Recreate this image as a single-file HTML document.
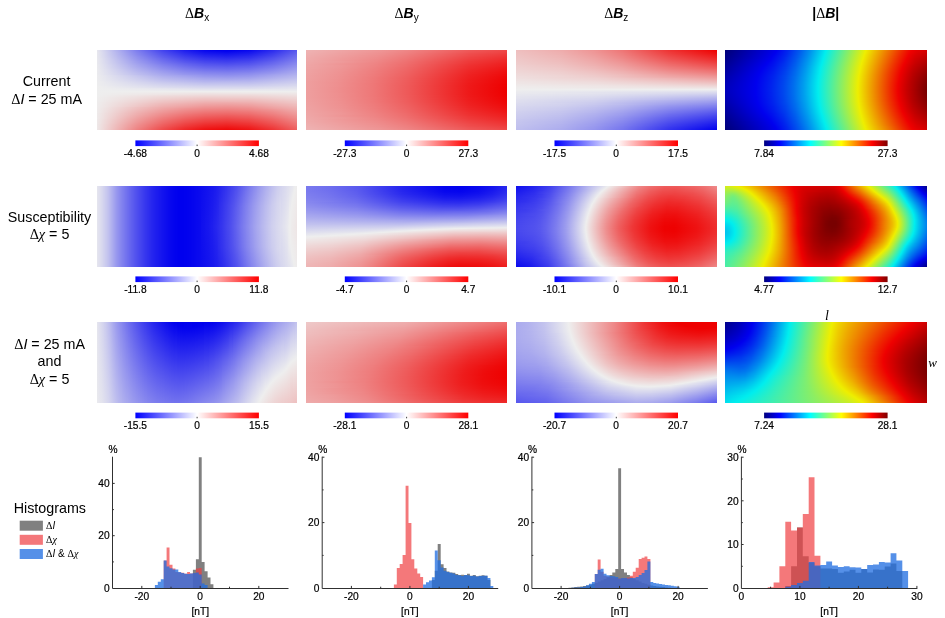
<!DOCTYPE html>
<html><head><meta charset="utf-8"><title>Figure</title>
<style>
html,body{margin:0;padding:0;background:#fff}
#fig{position:relative;width:945px;height:618px;overflow:hidden;background:#fff;font-family:"Liberation Sans",sans-serif}
.hm{position:absolute;display:flex;overflow:hidden}
.hm i{display:block;flex:0 0 1px;width:1px;height:100%}
.hh{flex-direction:column}
.hh i{height:1px;width:100%}
svg{position:absolute;left:0;top:0}
text{font-family:"Liberation Sans",sans-serif;fill:#000}
.s{stroke:#000;stroke-width:0.2px}
.sy{font-family:"Liberation Serif",serif}
.si{font-family:"Liberation Serif",serif;font-style:italic}
.bi{font-weight:bold;font-style:italic}
</style></head><body>
<div id="fig">
<div class="hm hh" style="left:97px;top:50px;width:200px;height:80px"><i style="background:linear-gradient(90deg,#e7e7ee,#7d7dee 20%,#4343ee 33%,#1d1dee 44%,#0707ee 54%,#0000ee 60%,#0000ee 68%,#0909ee 76%,#2c2cee 88%,#5959ee)"></i><i style="background:linear-gradient(90deg,#e7e7ee,#8080ee 20%,#4747ee 33%,#2323ee 44%,#0c0cee 54%,#0404ee 65%,#0f0fee 76%,#3030ee 88%,#5d5dee)"></i><i style="background:linear-gradient(90deg,#e8e8ee,#8383ee 20%,#4c4cee 33%,#2828ee 44%,#1212ee 54%,#0a0aee 65%,#1515ee 76%,#3535ee 88%,#6161ee)"></i><i style="background:linear-gradient(90deg,#e8e8ee,#8686ee 20%,#5050ee 33%,#2d2dee 44%,#1717ee 54%,#1010ee 65%,#1a1aee 76%,#3a3aee 88%,#6464ee)"></i><i style="background:linear-gradient(90deg,#e8e8ee,#8888ee 20%,#5454ee 33%,#3232ee 44%,#1d1dee 54%,#1616ee 65%,#2020ee 76%,#3f3fee 88%,#6868ee)"></i><i style="background:linear-gradient(90deg,#e8e8ee,#8b8bee 20%,#5858ee 33%,#3737ee 44%,#2323ee 54%,#1b1bee 65%,#2525ee 76%,#4343ee 88%,#6c6cee)"></i><i style="background:linear-gradient(90deg,#e8e8ee,#8e8eee 20%,#5c5cee 33%,#3c3cee 44%,#2828ee 54%,#2121ee 65%,#2b2bee 76%,#4848ee 88%,#6f6fee)"></i><i style="background:linear-gradient(90deg,#e8e8ee,#9191ee 20%,#6060ee 33%,#4141ee 44%,#2e2eee 54%,#2727ee 65%,#3030ee 76%,#4d4dee 88%,#7373ee)"></i><i style="background:linear-gradient(90deg,#e9e9ee,#9393ee 20%,#6565ee 33%,#4646ee 44%,#3434ee 54%,#2d2dee 65%,#3636ee 76%,#5252ee 88%,#7676ee)"></i><i style="background:linear-gradient(90deg,#e9e9ee,#9696ee 20%,#6969ee 33%,#4b4bee 44%,#3939ee 54%,#3333ee 65%,#3c3cee 76%,#5656ee 88%,#7a7aee)"></i><i style="background:linear-gradient(90deg,#e9e9ee,#9999ee 20%,#6d6dee 33%,#5050ee 44%,#3f3fee 54%,#3939ee 65%,#4141ee 76%,#5b5bee 88%,#7e7eee)"></i><i style="background:linear-gradient(90deg,#e9e9ee,#9c9cee 20%,#7171ee 33%,#5555ee 44%,#4545ee 54%,#3e3eee 65%,#4747ee 76%,#6060ee 88%,#8181ee)"></i><i style="background:linear-gradient(90deg,#e9e9ee,#9e9eee 20%,#7575ee 33%,#5a5aee 44%,#4a4aee 54%,#4444ee 65%,#4c4cee 76%,#6565ee 88%,#8585ee)"></i><i style="background:linear-gradient(90deg,#e9e9ee,#a1a1ee 20%,#7979ee 33%,#6060ee 44%,#5050ee 54%,#4a4aee 65%,#5252ee 76%,#6969ee 88%,#8989ee)"></i><i style="background:linear-gradient(90deg,#eaeaee,#a4a4ee 20%,#7e7eee 33%,#6565ee 44%,#5656ee 54%,#5050ee 65%,#5757ee 76%,#6e6eee 88%,#8c8cee)"></i><i style="background:linear-gradient(90deg,#eaeaee,#a7a7ee 20%,#8282ee 33%,#6a6aee 44%,#5b5bee 54%,#5656ee 65%,#5d5dee 76%,#7373ee 88%,#9090ee)"></i><i style="background:linear-gradient(90deg,#eaeaee,#a9a9ee 20%,#8686ee 33%,#6f6fee 44%,#6161ee 54%,#5c5cee 65%,#6363ee 76%,#7878ee 88%,#9393ee)"></i><i style="background:linear-gradient(90deg,#eaeaee,#acacee 20%,#8a8aee 33%,#7474ee 44%,#6666ee 54%,#6262ee 65%,#6868ee 76%,#7c7cee 88%,#9797ee)"></i><i style="background:linear-gradient(90deg,#eaeaee,#afafee 20%,#8e8eee 33%,#7979ee 44%,#6c6cee 54%,#6767ee 65%,#6e6eee 76%,#8181ee 88%,#9b9bee)"></i><i style="background:linear-gradient(90deg,#ebebee,#b2b2ee 20%,#9292ee 33%,#7e7eee 44%,#7272ee 54%,#6d6dee 65%,#7373ee 76%,#8686ee 88%,#9e9eee)"></i><i style="background:linear-gradient(90deg,#ebebee,#b4b4ee 20%,#9797ee 33%,#8383ee 44%,#7777ee 54%,#7373ee 65%,#7979ee 76%,#8a8aee 88%,#a2a2ee)"></i><i style="background:linear-gradient(90deg,#ebebee,#b7b7ee 20%,#9b9bee 33%,#8888ee 44%,#7d7dee 54%,#7979ee 65%,#7e7eee 76%,#8f8fee 88%,#a6a6ee)"></i><i style="background:linear-gradient(90deg,#ebebee,#babaee 20%,#9f9fee 33%,#8d8dee 44%,#8383ee 54%,#7f7fee 65%,#8484ee 76%,#9494ee 88%,#a9a9ee)"></i><i style="background:linear-gradient(90deg,#ebebee,#bdbdee 20%,#a3a3ee 33%,#9292ee 44%,#8888ee 54%,#8585ee 65%,#8a8aee 76%,#9999ee 88%,#adadee)"></i><i style="background:linear-gradient(90deg,#ebebee,#bfbfee 20%,#a7a7ee 33%,#9797ee 44%,#8e8eee 54%,#8a8aee 65%,#8f8fee 76%,#b0b0ee)"></i><i style="background:linear-gradient(90deg,#ececee,#ababee 33%,#9494ee 54%,#9090ee 65%,#9595ee 76%,#b4b4ee)"></i><i style="background:linear-gradient(90deg,#ececee,#b0b0ee 33%,#9999ee 54%,#9696ee 65%,#9a9aee 76%,#b8b8ee)"></i><i style="background:linear-gradient(90deg,#ececee,#b4b4ee 33%,#9f9fee 54%,#9c9cee 65%,#a0a0ee 76%,#bbbbee)"></i><i style="background:linear-gradient(90deg,#ececee,#b8b8ee 33%,#a5a5ee 54%,#a2a2ee 65%,#a5a5ee 76%,#bfbfee)"></i><i style="background:linear-gradient(90deg,#ececee,#bcbcee 33%,#aaaaee 54%,#a8a8ee 65%,#ababee 76%,#c3c3ee)"></i><i style="background:linear-gradient(90deg,#ececee,#c0c0ee 33%,#b0b0ee 54%,#aeaeee 65%,#b1b1ee 76%,#c6c6ee)"></i><i style="background:linear-gradient(90deg,#ededee,#c4c4ee 33%,#b5b5ee 54%,#b6b6ee 76%,#cacaee)"></i><i style="background:linear-gradient(90deg,#ededee,#c9c9ee 33%,#bbbbee 54%,#bcbcee 76%,#cdcdee)"></i><i style="background:linear-gradient(90deg,#ededee,#cdcdee 33%,#c1c1ee 54%,#c1c1ee 76%,#d1d1ee)"></i><i style="background:linear-gradient(90deg,#ededee,#d1d1ee 33%,#c6c6ee 54%,#c7c7ee 76%,#d5d5ee)"></i><i style="background:linear-gradient(90deg,#ededee,#d5d5ee 33%,#ccccee 54%,#ccccee 76%,#d8d8ee)"></i><i style="background:linear-gradient(90deg,#eeeeee,#d9d9ee 33%,#d2d2ee 54%,#d2d2ee 76%,#dcdcee)"></i><i style="background:linear-gradient(90deg,#eeeeee,#ddddee 33%,#d7d7ee 54%,#d8d8ee 76%,#e0e0ee)"></i><i style="background:linear-gradient(90deg,#eeeeee,#ddddee 54%,#ddddee 76%,#e3e3ee)"></i><i style="background:linear-gradient(90deg,#eeeeee,#e3e3ee 54%,#e7e7ee)"></i><i style="background:linear-gradient(90deg,#eeeeee,#e8e8ee 54%,#eaeaee)"></i><i style="background:linear-gradient(90deg,#eeeeee,#eeeeee)"></i><i style="background:linear-gradient(90deg,#eeeeee,#eee9e9 54%,#eeebeb)"></i><i style="background:linear-gradient(90deg,#eeeeee,#eee3e3 54%,#eee7e7)"></i><i style="background:linear-gradient(90deg,#eeeeee,#eedede 54%,#eedede 76%,#eee4e4)"></i><i style="background:linear-gradient(90deg,#eeeeee,#eedede 33%,#eed8d8 54%,#eed8d8 76%,#eee0e0)"></i><i style="background:linear-gradient(90deg,#eeeeee,#eed9d9 33%,#eed2d2 54%,#eed2d2 76%,#eedcdc)"></i><i style="background:linear-gradient(90deg,#eeeded,#eed5d5 33%,#eecccc 54%,#eecdcd 76%,#eed8d8)"></i><i style="background:linear-gradient(90deg,#eeeded,#eed1d1 33%,#eec6c6 54%,#eec7c7 76%,#eed5d5)"></i><i style="background:linear-gradient(90deg,#eeeded,#eecdcd 33%,#eec1c1 54%,#eec1c1 76%,#eed1d1)"></i><i style="background:linear-gradient(90deg,#eeeded,#eec8c8 33%,#eebbbb 54%,#eebbbb 76%,#eecdcd)"></i><i style="background:linear-gradient(90deg,#eeeded,#eec4c4 33%,#eeb5b5 54%,#eeb6b6 76%,#eec9c9)"></i><i style="background:linear-gradient(90deg,#eeecec,#eec0c0 33%,#eeafaf 54%,#eeadad 65%,#eeb0b0 76%,#eec6c6)"></i><i style="background:linear-gradient(90deg,#eeecec,#eebbbb 33%,#eea9a9 54%,#eea7a7 65%,#eeaaaa 76%,#eec2c2)"></i><i style="background:linear-gradient(90deg,#eeecec,#eeb7b7 33%,#eea3a3 54%,#eea1a1 65%,#eea4a4 76%,#eebebe)"></i><i style="background:linear-gradient(90deg,#eeecec,#eeb3b3 33%,#ee9e9e 54%,#ee9b9b 65%,#ee9f9f 76%,#eebbbb)"></i><i style="background:linear-gradient(90deg,#eeecec,#eeafaf 33%,#ee9898 54%,#ee9595 65%,#ee9999 76%,#eeb7b7)"></i><i style="background:linear-gradient(90deg,#eeecec,#eec1c1 20%,#eeaaaa 33%,#ee9292 54%,#ee8f8f 65%,#ee9393 76%,#eeb3b3)"></i><i style="background:linear-gradient(90deg,#eeebeb,#eebfbf 20%,#eea6a6 33%,#ee9696 44%,#ee8c8c 54%,#ee8989 65%,#ee8d8d 76%,#eeafaf)"></i><i style="background:linear-gradient(90deg,#eeebeb,#eebcbc 20%,#eea2a2 33%,#ee9191 44%,#ee8686 54%,#ee8383 65%,#ee8888 76%,#ee9797 88%,#eeacac)"></i><i style="background:linear-gradient(90deg,#eeebeb,#eeb9b9 20%,#ee9d9d 33%,#ee8b8b 44%,#ee8181 54%,#ee7d7d 65%,#ee8282 76%,#ee9292 88%,#eea8a8)"></i><i style="background:linear-gradient(90deg,#eeebeb,#eeb6b6 20%,#ee9999 33%,#ee8686 44%,#ee7b7b 54%,#ee7777 65%,#ee7c7c 76%,#ee8d8d 88%,#eea4a4)"></i><i style="background:linear-gradient(90deg,#eeebeb,#eeb3b3 20%,#ee9595 33%,#ee8181 44%,#ee7575 54%,#ee7171 65%,#ee7676 76%,#ee8888 88%,#eea0a0)"></i><i style="background:linear-gradient(90deg,#eeeaea,#eeb0b0 20%,#ee9090 33%,#ee7c7c 44%,#ee6f6f 54%,#ee6b6b 65%,#ee7171 76%,#ee8484 88%,#ee9d9d)"></i><i style="background:linear-gradient(90deg,#eeeaea,#eeaeae 20%,#ee8c8c 33%,#ee7676 44%,#ee6969 54%,#ee6565 65%,#ee6b6b 76%,#ee7f7f 88%,#ee9999)"></i><i style="background:linear-gradient(90deg,#eeeaea,#eeabab 20%,#ee8888 33%,#ee7171 44%,#ee6464 54%,#ee5e5e 65%,#ee6565 76%,#ee7a7a 88%,#ee9595)"></i><i style="background:linear-gradient(90deg,#eeeaea,#eea8a8 20%,#ee8484 33%,#ee6c6c 44%,#ee5e5e 54%,#ee5858 65%,#ee5f5f 76%,#ee7575 88%,#ee9191)"></i><i style="background:linear-gradient(90deg,#eeeaea,#eea5a5 20%,#ee7f7f 33%,#ee6767 44%,#ee5858 54%,#ee5252 65%,#ee5a5a 76%,#ee7070 88%,#ee8e8e)"></i><i style="background:linear-gradient(90deg,#eeeaea,#eea2a2 20%,#ee7b7b 33%,#ee6262 44%,#ee5252 54%,#ee4c4c 65%,#ee5454 76%,#ee6b6b 88%,#ee8a8a)"></i><i style="background:linear-gradient(90deg,#eee9e9,#ee9f9f 20%,#ee7777 33%,#ee5c5c 44%,#ee4c4c 54%,#ee4646 65%,#ee4e4e 76%,#ee6666 88%,#ee8686)"></i><i style="background:linear-gradient(90deg,#eee9e9,#ee9d9d 20%,#ee7272 33%,#ee5757 44%,#ee4646 54%,#ee4040 65%,#ee4848 76%,#ee6161 88%,#ee8383)"></i><i style="background:linear-gradient(90deg,#eee9e9,#ee9a9a 20%,#ee6e6e 33%,#ee5252 44%,#ee4141 54%,#ee3a3a 65%,#ee4343 76%,#ee5c5c 88%,#ee7f7f)"></i><i style="background:linear-gradient(90deg,#eee9e9,#ee9797 20%,#ee6a6a 33%,#ee4d4d 44%,#ee3b3b 54%,#ee3434 65%,#ee3d3d 76%,#ee5858 88%,#ee7b7b)"></i><i style="background:linear-gradient(90deg,#eee9e9,#ee9494 20%,#ee6666 33%,#ee4747 44%,#ee3535 54%,#ee2e2e 65%,#ee3737 76%,#ee5353 88%,#ee7777)"></i><i style="background:linear-gradient(90deg,#eee8e8,#ee9191 20%,#ee6161 33%,#ee4242 44%,#ee2f2f 54%,#ee2828 65%,#ee3232 76%,#ee4e4e 88%,#ee7474)"></i><i style="background:linear-gradient(90deg,#eee8e8,#ee8e8e 20%,#ee5d5d 33%,#ee3d3d 44%,#ee2929 54%,#ee2222 65%,#ee2c2c 76%,#ee4949 88%,#ee7070)"></i><i style="background:linear-gradient(90deg,#eee8e8,#ee8c8c 20%,#ee5959 33%,#ee3838 44%,#ee2424 54%,#ee1c1c 65%,#ee2626 76%,#ee4444 88%,#ee6c6c)"></i><i style="background:linear-gradient(90deg,#eee8e8,#ee8989 20%,#ee5454 33%,#ee3232 44%,#ee1e1e 54%,#ee1616 65%,#ee2020 76%,#ee3f3f 88%,#ee6868)"></i><i style="background:linear-gradient(90deg,#eee8e8,#ee8686 20%,#ee5050 33%,#ee2d2d 44%,#ee1818 54%,#ee1010 65%,#ee1b1b 76%,#ee3a3a 88%,#ee6565)"></i><i style="background:linear-gradient(90deg,#eee8e8,#ee8383 20%,#ee4c4c 33%,#ee2828 44%,#ee1212 54%,#ee0a0a 65%,#ee1515 76%,#ee3535 88%,#ee6161)"></i></div><div class="hm hh" style="left:306px;top:50px;width:201px;height:80px"><i style="background:linear-gradient(90deg,#eeb3b3,#ee9595 37%,#ee8787 50%,#ee5858 82%,#ee4848)"></i><i style="background:linear-gradient(90deg,#eeb2b2,#ee9494 37%,#ee8484 50%,#ee5555 82%,#ee4444)"></i><i style="background:linear-gradient(90deg,#eeb1b1,#ee9393 36%,#ee8282 50%,#ee5252 82%,#ee4141)"></i><i style="background:linear-gradient(90deg,#eeb0b0,#ee9191 36%,#ee8080 50%,#ee4e4e 82%,#ee3e3e)"></i><i style="background:linear-gradient(90deg,#eeafaf,#ee9090 36%,#ee7e7e 50%,#ee4b4b 82%,#ee3a3a)"></i><i style="background:linear-gradient(90deg,#eeaeae,#ee8e8e 36%,#ee7c7c 50%,#ee4949 82%,#ee3737)"></i><i style="background:linear-gradient(90deg,#eeadad,#ee8e8e 35%,#ee7a7a 50%,#ee4646 82%,#ee3434)"></i><i style="background:linear-gradient(90deg,#eeacac,#ee8c8c 35%,#ee7878 50%,#ee4343 82%,#ee3131)"></i><i style="background:linear-gradient(90deg,#eeabab,#ee8b8b 35%,#ee7676 50%,#ee4242 81%,#ee2e2e)"></i><i style="background:linear-gradient(90deg,#eeabab,#ee8989 35%,#ee7474 50%,#ee3f3f 81%,#ee2b2b)"></i><i style="background:linear-gradient(90deg,#eeaaaa,#ee8888 35%,#ee7373 50%,#ee3d3d 81%,#ee2828)"></i><i style="background:linear-gradient(90deg,#eea9a9,#ee9a9a 18%,#ee8787 35%,#ee7171 50%,#ee3a3a 81%,#ee2626)"></i><i style="background:linear-gradient(90deg,#eea8a8,#ee9999 18%,#ee8585 35%,#ee6f6f 50%,#ee3838 81%,#ee2323)"></i><i style="background:linear-gradient(90deg,#eea8a8,#ee8585 34%,#ee6e6e 50%,#ee3636 81%,#ee2020)"></i><i style="background:linear-gradient(90deg,#eea7a7,#ee8484 34%,#ee6c6c 50%,#ee3333 81%,#ee1e1e)"></i><i style="background:linear-gradient(90deg,#eea6a6,#ee9797 17%,#ee8383 34%,#ee6b6b 50%,#ee3131 81%,#ee1c1c)"></i><i style="background:linear-gradient(90deg,#eea6a6,#ee9797 17%,#ee8282 34%,#ee6a6a 50%,#ee2f2f 81%,#ee1a1a)"></i><i style="background:linear-gradient(90deg,#eea5a5,#ee9696 17%,#ee8181 34%,#ee6868 50%,#ee2e2e 81%,#ee1717)"></i><i style="background:linear-gradient(90deg,#eea5a5,#ee9595 17%,#ee8080 34%,#ee6767 50%,#ee2c2c 81%,#ee1515)"></i><i style="background:linear-gradient(90deg,#eea4a4,#ee9494 17%,#ee7f7f 34%,#ee6666 50%,#ee2a2a 81%,#ee1313)"></i><i style="background:linear-gradient(90deg,#eea3a3,#ee9494 17%,#ee7e7e 34%,#ee6565 50%,#ee2828 81%,#ee1212)"></i><i style="background:linear-gradient(90deg,#eea3a3,#ee9393 17%,#ee7d7d 34%,#ee6262 51%,#ee2727 81%,#ee1010)"></i><i style="background:linear-gradient(90deg,#eea3a3,#ee9292 17%,#ee7d7d 34%,#ee6161 51%,#ee2525 81%,#ee0e0e)"></i><i style="background:linear-gradient(90deg,#eea2a2,#ee9292 17%,#ee7c7c 34%,#ee6060 51%,#ee2424 81%,#ee0d0d)"></i><i style="background:linear-gradient(90deg,#eea2a2,#ee9191 17%,#ee7b7b 34%,#ee5f5f 51%,#ee2222 81%,#ee0b0b)"></i><i style="background:linear-gradient(90deg,#eea1a1,#ee9191 17%,#ee7b7b 34%,#ee5e5e 51%,#ee2121 81%,#ee0a0a)"></i><i style="background:linear-gradient(90deg,#eea1a1,#ee9090 17%,#ee7a7a 34%,#ee5d5d 51%,#ee2020 81%,#ee0808)"></i><i style="background:linear-gradient(90deg,#eea1a1,#ee9090 17%,#ee7979 34%,#ee5c5c 51%,#ee1f1f 81%,#ee0707)"></i><i style="background:linear-gradient(90deg,#eea0a0,#ee9191 16%,#ee7a7a 33%,#ee5d5d 50%,#ee1e1e 81%,#ee0606)"></i><i style="background:linear-gradient(90deg,#eea0a0,#ee9090 16%,#ee7a7a 33%,#ee5d5d 50%,#ee1d1d 81%,#ee0505)"></i><i style="background:linear-gradient(90deg,#eea0a0,#ee9090 16%,#ee7979 33%,#ee5c5c 50%,#ee1c1c 81%,#ee0404)"></i><i style="background:linear-gradient(90deg,#ee9f9f,#ee9090 16%,#ee7979 33%,#ee5c5c 50%,#ee1c1c 81%,#ee0303)"></i><i style="background:linear-gradient(90deg,#ee9f9f,#ee8f8f 16%,#ee7979 33%,#ee5b5b 50%,#ee1b1b 81%,#ee0303)"></i><i style="background:linear-gradient(90deg,#ee9f9f,#ee8f8f 16%,#ee7878 33%,#ee5959 51%,#ee1a1a 81%,#ee0202)"></i><i style="background:linear-gradient(90deg,#ee9f9f,#ee8f8f 16%,#ee7878 33%,#ee5959 51%,#ee1a1a 81%,#ee0101)"></i><i style="background:linear-gradient(90deg,#ee9f9f,#ee8f8f 16%,#ee7878 33%,#ee5858 51%,#ee1919 81%,#ee0101)"></i><i style="background:linear-gradient(90deg,#ee9f9f,#ee8f8f 16%,#ee7878 33%,#ee5858 51%,#ee1919 81%,#ee0101)"></i><i style="background:linear-gradient(90deg,#ee9f9f,#ee8e8e 16%,#ee7878 33%,#ee5858 51%,#ee1919 81%,#ee0000)"></i><i style="background:linear-gradient(90deg,#ee9f9f,#ee8e8e 16%,#ee7878 33%,#ee5858 51%,#ee1919 81%,#ee0000)"></i><i style="background:linear-gradient(90deg,#ee9f9f,#ee8e8e 16%,#ee7878 33%,#ee5858 51%,#ee1919 81%,#ee0000)"></i><i style="background:linear-gradient(90deg,#ee9f9f,#ee8e8e 16%,#ee7878 33%,#ee5858 51%,#ee1919 81%,#ee0000)"></i><i style="background:linear-gradient(90deg,#ee9f9f,#ee8e8e 16%,#ee7878 33%,#ee5858 51%,#ee1919 81%,#ee0000)"></i><i style="background:linear-gradient(90deg,#ee9f9f,#ee8e8e 16%,#ee7878 33%,#ee5858 51%,#ee1919 81%,#ee0000)"></i><i style="background:linear-gradient(90deg,#ee9f9f,#ee8f8f 16%,#ee7878 33%,#ee5858 51%,#ee1919 81%,#ee0101)"></i><i style="background:linear-gradient(90deg,#ee9f9f,#ee8f8f 16%,#ee7878 33%,#ee5858 51%,#ee1919 81%,#ee0101)"></i><i style="background:linear-gradient(90deg,#ee9f9f,#ee8f8f 16%,#ee7878 33%,#ee5959 51%,#ee1a1a 81%,#ee0101)"></i><i style="background:linear-gradient(90deg,#ee9f9f,#ee8f8f 16%,#ee7878 33%,#ee5959 51%,#ee1a1a 81%,#ee0202)"></i><i style="background:linear-gradient(90deg,#ee9f9f,#ee8f8f 16%,#ee7979 33%,#ee5b5b 50%,#ee1b1b 81%,#ee0303)"></i><i style="background:linear-gradient(90deg,#ee9f9f,#ee9090 16%,#ee7979 33%,#ee5c5c 50%,#ee1c1c 81%,#ee0303)"></i><i style="background:linear-gradient(90deg,#eea0a0,#ee9090 16%,#ee7979 33%,#ee5c5c 50%,#ee1c1c 81%,#ee0404)"></i><i style="background:linear-gradient(90deg,#eea0a0,#ee9090 16%,#ee7a7a 33%,#ee5d5d 50%,#ee1d1d 81%,#ee0505)"></i><i style="background:linear-gradient(90deg,#eea0a0,#ee9191 16%,#ee7a7a 33%,#ee5d5d 50%,#ee1e1e 81%,#ee0606)"></i><i style="background:linear-gradient(90deg,#eea1a1,#ee9090 17%,#ee7979 34%,#ee5c5c 51%,#ee1f1f 81%,#ee0707)"></i><i style="background:linear-gradient(90deg,#eea1a1,#ee9090 17%,#ee7a7a 34%,#ee5d5d 51%,#ee2020 81%,#ee0808)"></i><i style="background:linear-gradient(90deg,#eea1a1,#ee9191 17%,#ee7b7b 34%,#ee5e5e 51%,#ee2121 81%,#ee0a0a)"></i><i style="background:linear-gradient(90deg,#eea2a2,#ee9191 17%,#ee7b7b 34%,#ee5f5f 51%,#ee2222 81%,#ee0b0b)"></i><i style="background:linear-gradient(90deg,#eea2a2,#ee9292 17%,#ee7c7c 34%,#ee6060 51%,#ee2424 81%,#ee0d0d)"></i><i style="background:linear-gradient(90deg,#eea3a3,#ee9292 17%,#ee7d7d 34%,#ee6161 51%,#ee2525 81%,#ee0e0e)"></i><i style="background:linear-gradient(90deg,#eea3a3,#ee9393 17%,#ee7d7d 34%,#ee6262 51%,#ee2727 81%,#ee1010)"></i><i style="background:linear-gradient(90deg,#eea3a3,#ee9494 17%,#ee7e7e 34%,#ee6565 50%,#ee2828 81%,#ee1212)"></i><i style="background:linear-gradient(90deg,#eea4a4,#ee9494 17%,#ee7f7f 34%,#ee6666 50%,#ee2a2a 81%,#ee1313)"></i><i style="background:linear-gradient(90deg,#eea5a5,#ee9595 17%,#ee8080 34%,#ee6767 50%,#ee2c2c 81%,#ee1515)"></i><i style="background:linear-gradient(90deg,#eea5a5,#ee9696 17%,#ee8181 34%,#ee6868 50%,#ee2e2e 81%,#ee1717)"></i><i style="background:linear-gradient(90deg,#eea6a6,#ee9797 17%,#ee8282 34%,#ee6a6a 50%,#ee2f2f 81%,#ee1a1a)"></i><i style="background:linear-gradient(90deg,#eea6a6,#ee9797 17%,#ee8383 34%,#ee6b6b 50%,#ee3131 81%,#ee1c1c)"></i><i style="background:linear-gradient(90deg,#eea7a7,#ee8484 34%,#ee6c6c 50%,#ee3333 81%,#ee1e1e)"></i><i style="background:linear-gradient(90deg,#eea8a8,#ee8585 34%,#ee6e6e 50%,#ee3636 81%,#ee2020)"></i><i style="background:linear-gradient(90deg,#eea8a8,#ee9999 18%,#ee8585 35%,#ee6f6f 50%,#ee3838 81%,#ee2323)"></i><i style="background:linear-gradient(90deg,#eea9a9,#ee9a9a 18%,#ee8787 35%,#ee7171 50%,#ee3a3a 81%,#ee2626)"></i><i style="background:linear-gradient(90deg,#eeaaaa,#ee8888 35%,#ee7373 50%,#ee3d3d 81%,#ee2828)"></i><i style="background:linear-gradient(90deg,#eeabab,#ee8989 35%,#ee7474 50%,#ee3f3f 81%,#ee2b2b)"></i><i style="background:linear-gradient(90deg,#eeabab,#ee8b8b 35%,#ee7676 50%,#ee4242 81%,#ee2e2e)"></i><i style="background:linear-gradient(90deg,#eeacac,#ee8c8c 35%,#ee7878 50%,#ee4343 82%,#ee3131)"></i><i style="background:linear-gradient(90deg,#eeadad,#ee8e8e 35%,#ee7a7a 50%,#ee4646 82%,#ee3434)"></i><i style="background:linear-gradient(90deg,#eeaeae,#ee8e8e 36%,#ee7c7c 50%,#ee4949 82%,#ee3737)"></i><i style="background:linear-gradient(90deg,#eeafaf,#ee9090 36%,#ee7e7e 50%,#ee4b4b 82%,#ee3a3a)"></i><i style="background:linear-gradient(90deg,#eeb0b0,#ee9191 36%,#ee8080 50%,#ee4e4e 82%,#ee3e3e)"></i><i style="background:linear-gradient(90deg,#eeb1b1,#ee9393 36%,#ee8282 50%,#ee5252 82%,#ee4141)"></i><i style="background:linear-gradient(90deg,#eeb2b2,#ee9494 37%,#ee8484 50%,#ee5555 82%,#ee4444)"></i><i style="background:linear-gradient(90deg,#eeb3b3,#ee9595 37%,#ee8787 50%,#ee5858 82%,#ee4848)"></i></div><div class="hm hh" style="left:516px;top:50px;width:201px;height:80px"><i style="background:linear-gradient(90deg,#eebfbf,#eeadad 22%,#ee9494 39%,#ee7676 53%,#ee3434 76%,#ee0202)"></i><i style="background:linear-gradient(90deg,#eec0c0,#eeaeae 22%,#ee9696 39%,#ee7878 53%,#ee3737 76%,#ee0606)"></i><i style="background:linear-gradient(90deg,#eec1c1,#eeb0b0 22%,#ee9797 39%,#ee7a7a 53%,#ee3b3b 76%,#ee0b0b)"></i><i style="background:linear-gradient(90deg,#eec2c2,#eeb1b1 22%,#ee9999 39%,#ee7d7d 53%,#ee3e3e 76%,#ee0f0f)"></i><i style="background:linear-gradient(90deg,#eec3c3,#eeb2b2 22%,#ee9b9b 39%,#ee7f7f 53%,#ee4242 76%,#ee1414)"></i><i style="background:linear-gradient(90deg,#eec4c4,#eeb4b4 22%,#ee9d9d 39%,#ee8181 53%,#ee4646 76%,#ee1919)"></i><i style="background:linear-gradient(90deg,#eec5c5,#eeb5b5 22%,#ee9f9f 39%,#ee8484 53%,#ee4a4a 76%,#ee1e1e)"></i><i style="background:linear-gradient(90deg,#eec6c6,#eeb6b6 22%,#eea1a1 39%,#ee8686 53%,#ee4e4e 76%,#ee2323)"></i><i style="background:linear-gradient(90deg,#eec7c7,#eeb8b8 22%,#eea3a3 39%,#ee8989 53%,#ee5252 76%,#ee2828)"></i><i style="background:linear-gradient(90deg,#eec8c8,#eeb9b9 22%,#eea5a5 39%,#ee8c8c 53%,#ee5656 76%,#ee2d2d)"></i><i style="background:linear-gradient(90deg,#eec9c9,#eebbbb 22%,#eea7a7 39%,#ee8e8e 53%,#ee5a5a 76%,#ee3232)"></i><i style="background:linear-gradient(90deg,#eecaca,#eebcbc 22%,#eea9a9 39%,#ee9191 53%,#ee5e5e 76%,#ee3838)"></i><i style="background:linear-gradient(90deg,#eecbcb,#eebebe 22%,#eeabab 39%,#ee9494 53%,#ee6363 76%,#ee3d3d)"></i><i style="background:linear-gradient(90deg,#eecccc,#eebfbf 22%,#eeadad 39%,#ee9797 53%,#ee6767 76%,#ee4343)"></i><i style="background:linear-gradient(90deg,#eecdcd,#eec1c1 22%,#eeafaf 39%,#ee9a9a 53%,#ee6c6c 76%,#ee4949)"></i><i style="background:linear-gradient(90deg,#eecfcf,#eec3c3 22%,#eeb1b1 39%,#ee9d9d 53%,#ee7070 76%,#ee4e4e)"></i><i style="background:linear-gradient(90deg,#eed0d0,#eec4c4 22%,#eeb4b4 39%,#eea0a0 53%,#ee7575 76%,#ee5454)"></i><i style="background:linear-gradient(90deg,#eed1d1,#eec6c6 22%,#eeb6b6 39%,#eea3a3 53%,#ee7a7a 76%,#ee5a5a)"></i><i style="background:linear-gradient(90deg,#eed2d2,#eec8c8 22%,#eeb8b8 39%,#eea6a6 53%,#ee7e7e 76%,#ee6060)"></i><i style="background:linear-gradient(90deg,#eed3d3,#eec9c9 22%,#eebbbb 39%,#eea9a9 53%,#ee8383 76%,#ee6767)"></i><i style="background:linear-gradient(90deg,#eed5d5,#eecbcb 22%,#eebdbd 39%,#eeacac 53%,#ee8888 76%,#ee6d6d)"></i><i style="background:linear-gradient(90deg,#eed6d6,#eecdcd 22%,#eec0c0 39%,#eeb0b0 53%,#ee8c8c 77%,#ee7373)"></i><i style="background:linear-gradient(90deg,#eed7d7,#eecfcf 22%,#eec2c2 39%,#eeb3b3 53%,#ee9191 77%,#ee7979)"></i><i style="background:linear-gradient(90deg,#eed9d9,#eed0d0 22%,#eec5c5 39%,#eeb6b6 53%,#ee9696 77%,#ee8080)"></i><i style="background:linear-gradient(90deg,#eedada,#eed2d2 22%,#eec7c7 39%,#eebaba 53%,#ee9c9c 77%,#ee8686)"></i><i style="background:linear-gradient(90deg,#eedbdb,#eed4d4 22%,#eecaca 39%,#eebdbd 53%,#eea1a1 77%,#ee8d8d)"></i><i style="background:linear-gradient(90deg,#eedddd,#eed5d5 23%,#eecbcb 40%,#eea7a7 76%,#ee9494)"></i><i style="background:linear-gradient(90deg,#eedede,#eecece 40%,#eeacac 76%,#ee9a9a)"></i><i style="background:linear-gradient(90deg,#eedfdf,#eed1d1 40%,#eea1a1)"></i><i style="background:linear-gradient(90deg,#eee1e1,#eed3d3 40%,#eea8a8)"></i><i style="background:linear-gradient(90deg,#eee2e2,#eed6d6 40%,#eeafaf)"></i><i style="background:linear-gradient(90deg,#eee4e4,#eed9d9 40%,#eeb6b6)"></i><i style="background:linear-gradient(90deg,#eee5e5,#eedcdc 40%,#eebdbd)"></i><i style="background:linear-gradient(90deg,#eee6e6,#eedede 40%,#eec4c4)"></i><i style="background:linear-gradient(90deg,#eee8e8,#eee1e1 41%,#eecbcb)"></i><i style="background:linear-gradient(90deg,#eee9e9,#eee4e4 41%,#eed2d2)"></i><i style="background:linear-gradient(90deg,#eeebeb,#eee6e6 42%,#eed9d9)"></i><i style="background:linear-gradient(90deg,#eeecec,#eee0e0)"></i><i style="background:linear-gradient(90deg,#eeeded,#eee7e7)"></i><i style="background:linear-gradient(90deg,#eeeeee,#eeeeee)"></i><i style="background:linear-gradient(90deg,#ededee,#e8e8ee)"></i><i style="background:linear-gradient(90deg,#ebebee,#e1e1ee)"></i><i style="background:linear-gradient(90deg,#eaeaee,#dadaee)"></i><i style="background:linear-gradient(90deg,#e9e9ee,#e4e4ee 37%,#d4d4ee)"></i><i style="background:linear-gradient(90deg,#e7e7ee,#e1e1ee 38%,#cdcdee)"></i><i style="background:linear-gradient(90deg,#e6e6ee,#dfdfee 38%,#c6c6ee)"></i><i style="background:linear-gradient(90deg,#e4e4ee,#dcdcee 38%,#bfbfee)"></i><i style="background:linear-gradient(90deg,#e3e3ee,#dadaee 38%,#b8b8ee)"></i><i style="background:linear-gradient(90deg,#e2e2ee,#d7d7ee 38%,#b1b1ee)"></i><i style="background:linear-gradient(90deg,#e0e0ee,#d5d5ee 38%,#ababee)"></i><i style="background:linear-gradient(90deg,#dfdfee,#d1d1ee 39%,#b3b3ee 76%,#a4a4ee)"></i><i style="background:linear-gradient(90deg,#dedeee,#cfcfee 39%,#aeaeee 76%,#9d9dee)"></i><i style="background:linear-gradient(90deg,#ddddee,#ccccee 39%,#a9a9ee 76%,#9797ee)"></i><i style="background:linear-gradient(90deg,#dbdbee,#d4d4ee 22%,#cacaee 39%,#a4a4ee 76%,#9090ee)"></i><i style="background:linear-gradient(90deg,#dadaee,#d2d2ee 22%,#c8c8ee 39%,#bbbbee 53%,#9f9fee 76%,#8a8aee)"></i><i style="background:linear-gradient(90deg,#d9d9ee,#d1d1ee 22%,#c5c5ee 39%,#b7b7ee 53%,#9999ee 76%,#8383ee)"></i><i style="background:linear-gradient(90deg,#d7d7ee,#cfcfee 22%,#c3c3ee 39%,#b4b4ee 53%,#9494ee 76%,#7d7dee)"></i><i style="background:linear-gradient(90deg,#d6d6ee,#cdcdee 22%,#c0c0ee 39%,#b1b1ee 53%,#8f8fee 76%,#7777ee)"></i><i style="background:linear-gradient(90deg,#d5d5ee,#cbcbee 22%,#bebeee 39%,#aeaeee 53%,#8b8bee 76%,#7070ee)"></i><i style="background:linear-gradient(90deg,#d4d4ee,#cacaee 22%,#bcbcee 39%,#ababee 53%,#8686ee 76%,#6a6aee)"></i><i style="background:linear-gradient(90deg,#d3d3ee,#c8c8ee 22%,#b9b9ee 39%,#a7a7ee 53%,#8181ee 76%,#6464ee)"></i><i style="background:linear-gradient(90deg,#d1d1ee,#c6c6ee 22%,#b7b7ee 39%,#a4a4ee 53%,#7c7cee 76%,#5e5eee)"></i><i style="background:linear-gradient(90deg,#d0d0ee,#c5c5ee 22%,#b5b5ee 39%,#a1a1ee 53%,#7878ee 76%,#5858ee)"></i><i style="background:linear-gradient(90deg,#cfcfee,#c3c3ee 22%,#b2b2ee 39%,#9e9eee 53%,#7373ee 76%,#5252ee)"></i><i style="background:linear-gradient(90deg,#ceceee,#c2c2ee 22%,#b0b0ee 39%,#9c9cee 53%,#6e6eee 76%,#4d4dee)"></i><i style="background:linear-gradient(90deg,#cdcdee,#c0c0ee 22%,#aeaeee 39%,#9999ee 53%,#6a6aee 76%,#4747ee)"></i><i style="background:linear-gradient(90deg,#ccccee,#bfbfee 22%,#acacee 39%,#9696ee 53%,#6666ee 76%,#4141ee)"></i><i style="background:linear-gradient(90deg,#cbcbee,#bdbdee 22%,#aaaaee 39%,#9393ee 53%,#6161ee 76%,#3c3cee)"></i><i style="background:linear-gradient(90deg,#cacaee,#bcbcee 22%,#a8a8ee 39%,#9090ee 53%,#5d5dee 76%,#3737ee)"></i><i style="background:linear-gradient(90deg,#c8c8ee,#babaee 22%,#a6a6ee 39%,#8e8eee 53%,#5959ee 76%,#3131ee)"></i><i style="background:linear-gradient(90deg,#c7c7ee,#b9b9ee 22%,#a4a4ee 39%,#8b8bee 53%,#5555ee 76%,#2c2cee)"></i><i style="background:linear-gradient(90deg,#c6c6ee,#b7b7ee 22%,#a2a2ee 39%,#8888ee 53%,#5151ee 76%,#2727ee)"></i><i style="background:linear-gradient(90deg,#c5c5ee,#b6b6ee 22%,#a0a0ee 39%,#8686ee 53%,#4d4dee 76%,#2222ee)"></i><i style="background:linear-gradient(90deg,#c5c5ee,#b5b5ee 22%,#9e9eee 39%,#8383ee 53%,#4949ee 76%,#1d1dee)"></i><i style="background:linear-gradient(90deg,#c4c4ee,#b3b3ee 22%,#9c9cee 39%,#8181ee 53%,#4545ee 76%,#1818ee)"></i><i style="background:linear-gradient(90deg,#c3c3ee,#b2b2ee 22%,#9b9bee 39%,#7f7fee 53%,#4242ee 76%,#1414ee)"></i><i style="background:linear-gradient(90deg,#c2c2ee,#b1b1ee 22%,#9999ee 39%,#7c7cee 53%,#3e3eee 76%,#0f0fee)"></i><i style="background:linear-gradient(90deg,#c1c1ee,#b0b0ee 22%,#9797ee 39%,#7a7aee 53%,#3a3aee 76%,#0b0bee)"></i><i style="background:linear-gradient(90deg,#c0c0ee,#aeaeee 22%,#9696ee 39%,#7878ee 53%,#3737ee 76%,#0606ee)"></i><i style="background:linear-gradient(90deg,#bfbfee,#adadee 22%,#9494ee 39%,#7676ee 53%,#3434ee 76%,#0202ee)"></i></div><div class="hm hh" style="left:725px;top:50px;width:202px;height:80px"><i style="background:linear-gradient(90deg,#000078,#0000ee 25.6%,#002dee 32%,#0064ee 38%,#008fee 42%,#00eeee 49.9%,#eeee00 69.7%,#ee7600 81%,#ee3200 87%,#ee0b00 91%,#ee0000 92.5%,#e30000 95%,#d50000)"></i><i style="background:linear-gradient(90deg,#00007a,#0000ee 25.3%,#0027ee 31%,#005bee 37%,#0090ee 42%,#00eeee 49.8%,#eeee00 69.5%,#ee2f00 87%,#ee0800 91%,#ee0000 92.1%,#e00000 95%,#d20000)"></i><i style="background:linear-gradient(90deg,#00007c,#0000ee 25%,#0029ee 31%,#005dee 37%,#0092ee 42%,#00eeee 49.6%,#eeee00 69.4%,#ee2c00 87%,#ee0600 91%,#ee0000 91.8%,#de0000 95%,#cf0000)"></i><i style="background:linear-gradient(90deg,#00007e,#0000ee 24.7%,#002aee 31%,#005fee 37%,#0094ee 42%,#00eeee 49.5%,#eeee00 69.2%,#ee2900 87%,#ee0300 91%,#ee0000 91.5%,#db0000 95%,#cb0000)"></i><i style="background:linear-gradient(90deg,#000080,#0000ee 24.3%,#0024ee 30%,#0057ee 36%,#008aee 41%,#00eeee 49.3%,#eeee00 69%,#ee2700 87%,#ee0100 91%,#dd0000 94%,#c80000)"></i><i style="background:linear-gradient(90deg,#000082,#0000ee 23.9%,#0026ee 30%,#0059ee 36%,#008cee 41%,#00eeee 49.2%,#eeee00 68.8%,#ee2f00 86%,#ee0000 90.8%,#da0000 94%,#c50000)"></i><i style="background:linear-gradient(90deg,#000083,#0000ee 23.5%,#0028ee 30%,#005bee 36%,#008eee 41%,#00eeee 49%,#eeee00 68.7%,#ee2c00 86%,#ee0000 90.6%,#d80000 94%,#c10000)"></i><i style="background:linear-gradient(90deg,#000085,#0000ee 23.1%,#0023ee 29%,#005cee 36%,#0090ee 41%,#00eeee 48.9%,#eeee00 68.5%,#ee2a00 86%,#ee0000 90.3%,#d60000 94%,#be0000)"></i><i style="background:linear-gradient(90deg,#000087,#0001ee 23%,#0025ee 29%,#0055ee 35%,#0092ee 41%,#00eeee 48.7%,#eeee00 68.4%,#ee3200 85%,#ee0000 90%,#d30000 94%,#bb0000)"></i><i style="background:linear-gradient(90deg,#000089,#0000c1 12%,#0000ee 22.3%,#0003ee 23%,#0026ee 29%,#0057ee 35%,#0094ee 41%,#00eeee 48.6%,#eeee00 68.2%,#ee3000 85%,#ee0000 89.8%,#d10000 94%,#b80000)"></i><i style="background:linear-gradient(90deg,#00008b,#0000ee 21.9%,#0005ee 23%,#0028ee 29%,#0059ee 35%,#0096ee 41%,#00eeee 48.4%,#eeee00 68%,#ee2d00 85%,#ee0000 89.5%,#ce0000 94%,#b40000)"></i><i style="background:linear-gradient(90deg,#00008d,#0000ee 21.5%,#0007ee 23%,#002aee 29%,#005aee 35%,#0098ee 41%,#00eeee 48.3%,#eeee00 67.9%,#ee3600 84%,#ee0000 89.3%,#cc0000 94%,#b10000)"></i><i style="background:linear-gradient(90deg,#00008f,#0000ee 21%,#0009ee 23%,#002cee 29%,#005cee 35%,#009aee 41%,#00eeee 48.1%,#eeee00 67.7%,#ee3400 84%,#ee0000 89%,#ca0000 94%,#ae0000)"></i><i style="background:linear-gradient(90deg,#000091,#0000ee 20.6%,#0010ee 24%,#0035ee 30%,#005eee 35%,#009cee 41%,#00eeee 48%,#eeee00 67.6%,#ee3100 84%,#ee0000 88.8%,#c80000 94%,#ab0000)"></i><i style="background:linear-gradient(90deg,#000093,#0000ee 20.2%,#0012ee 24%,#0037ee 30%,#0060ee 35%,#009dee 41%,#00eeee 47.8%,#eeee00 67.5%,#ee3a00 83%,#ee0000 88.5%,#c50000 94%,#a80000)"></i><i style="background:linear-gradient(90deg,#000095,#0000ee 19.8%,#0013ee 24%,#0038ee 30%,#0061ee 35%,#0094ee 40%,#00eeee 47.7%,#eeee00 67.3%,#ee3800 83%,#ee0000 88.3%,#c90000 93%,#a50000)"></i><i style="background:linear-gradient(90deg,#000097,#0000ee 19.3%,#0015ee 24%,#003aee 30%,#0063ee 35%,#0096ee 40%,#00eeee 47.5%,#eeee00 67.2%,#ee3600 83%,#ee0000 88.1%,#c70000 93%,#a20000)"></i><i style="background:linear-gradient(90deg,#000099,#0000ee 18.9%,#0017ee 24%,#003cee 30%,#0065ee 35%,#0097ee 40%,#00eeee 47.4%,#eeee00 67.1%,#ee3400 83%,#ee0000 87.9%,#c50000 93%,#9f0000)"></i><i style="background:linear-gradient(90deg,#00009b,#0000ee 18.6%,#0018ee 24%,#003dee 30%,#0066ee 35%,#0099ee 40%,#00eeee 47.3%,#eeee00 67%,#ee3d00 82%,#ee0000 87.7%,#c30000 93%,#9c0000)"></i><i style="background:linear-gradient(90deg,#00009c,#0000ee 18.2%,#001aee 24%,#003fee 30%,#0068ee 35%,#009aee 40%,#00eeee 47.2%,#eeee00 66.9%,#ee3b00 82%,#ee0000 87.5%,#c10000 93%,#9a0000)"></i><i style="background:linear-gradient(90deg,#00009e,#0000ee 17.9%,#001bee 24%,#0040ee 30%,#0069ee 35%,#009cee 40%,#00eeee 47%,#eeee00 66.8%,#ee3a00 82%,#ee0000 87.3%,#c00000 93%,#970000)"></i><i style="background:linear-gradient(90deg,#0000a0,#0000ee 17.6%,#001dee 24%,#0042ee 30%,#006bee 35%,#009dee 40%,#00eeee 46.9%,#eeee00 66.7%,#ee3800 82%,#ee0000 87.2%,#be0000 93%,#950000)"></i><i style="background:linear-gradient(90deg,#0000a2,#0000ee 17.3%,#001eee 24%,#0043ee 30%,#006cee 35%,#009eee 40%,#00eeee 46.9%,#eeee00 66.6%,#ee3600 82%,#ee0000 87%,#bc0000 93%,#920000)"></i><i style="background:linear-gradient(90deg,#0000a4,#0000ee 17%,#001fee 24%,#0044ee 30%,#006dee 35%,#00a0ee 40%,#00eeee 46.8%,#eeee00 66.5%,#ee3500 82%,#ee0000 86.9%,#ba0000 93%,#900000)"></i><i style="background:linear-gradient(90deg,#0000a6,#0000ee 16.8%,#0021ee 24%,#0045ee 30%,#006eee 35%,#00a1ee 40%,#00eeee 46.7%,#eeee00 66.4%,#ee3f00 81%,#ee0000 86.7%,#b90000 93%,#8d0000)"></i><i style="background:linear-gradient(90deg,#0000a8,#0000ee 16.6%,#0022ee 24%,#0047ee 30%,#006fee 35%,#00a2ee 40%,#00eeee 46.6%,#eeee00 66.3%,#ee3e00 81%,#ee0000 86.6%,#b80000 93%,#8b0000)"></i><i style="background:linear-gradient(90deg,#0000aa,#0000ee 16.4%,#0023ee 24%,#0048ee 30%,#0071ee 35%,#00a3ee 40%,#00eeee 46.5%,#eeee00 66.2%,#ee3d00 81%,#ee0000 86.5%,#b60000 93%,#890000)"></i><i style="background:linear-gradient(90deg,#0000ac,#0000ee 16.2%,#0024ee 24%,#0049ee 30%,#0072ee 35%,#00a4ee 40%,#00eeee 46.5%,#eeee00 66.2%,#ee3c00 81%,#ee0000 86.4%,#b50000 93%,#870000)"></i><i style="background:linear-gradient(90deg,#0000ad,#0000ee 16%,#0024ee 24%,#0049ee 30%,#0072ee 35%,#00a5ee 40%,#00eeee 46.4%,#eeee00 66.1%,#ee3b00 81%,#ee0000 86.3%,#b40000 93%,#850000)"></i><i style="background:linear-gradient(90deg,#0000af,#0000ee 15.9%,#0020ee 23%,#0043ee 29%,#006aee 34%,#00a5ee 40%,#00eeee 46.3%,#eeee00 66.1%,#ee3a00 81%,#ee0000 86.2%,#b30000 93%,#830000)"></i><i style="background:linear-gradient(90deg,#0000b1,#0000ee 15.7%,#0021ee 23%,#0044ee 29%,#006bee 34%,#009bee 39%,#00eeee 46.3%,#eeee00 66%,#ee3900 81%,#ee0000 86.1%,#ba0000 92%,#810000)"></i><i style="background:linear-gradient(90deg,#0000b2,#0000ee 15.6%,#0021ee 23%,#0045ee 29%,#006cee 34%,#009cee 39%,#00eeee 46.3%,#eeee00 66%,#ee3800 81%,#ee0000 86%,#b90000 92%,#800000)"></i><i style="background:linear-gradient(90deg,#0000b4,#0000ee 15.5%,#0022ee 23%,#0045ee 29%,#006cee 34%,#009dee 39%,#00eeee 46.2%,#eeee00 65.9%,#ee2b00 82%,#ee0000 85.9%,#b80000 92%,#7e0000)"></i><i style="background:linear-gradient(90deg,#0000b5,#0000ee 15.4%,#0022ee 23%,#0046ee 29%,#006dee 34%,#009dee 39%,#00eeee 46.2%,#eeee00 65.9%,#ee2b00 82%,#ee0000 85.8%,#b80000 92%,#7d0000)"></i><i style="background:linear-gradient(90deg,#0000b6,#0000ee 15.3%,#0023ee 23%,#0046ee 29%,#006dee 34%,#009eee 39%,#00eeee 46.2%,#eeee00 65.9%,#ee2a00 82%,#ee0000 85.8%,#bf0000 91%,#7b0000)"></i><i style="background:linear-gradient(90deg,#0000b7,#0000ee 15.3%,#0023ee 23%,#0047ee 29%,#006eee 34%,#009eee 39%,#00eeee 46.1%,#eeee00 65.8%,#ee2a00 82%,#ee0000 85.7%,#bf0000 91%,#7a0000)"></i><i style="background:linear-gradient(90deg,#0000b8,#0000ee 15.2%,#0023ee 23%,#0047ee 29%,#006eee 34%,#009eee 39%,#00eeee 46.1%,#eeee00 65.8%,#ee2900 82%,#ee0000 85.7%,#c70000 90%,#790000)"></i><i style="background:linear-gradient(90deg,#0000b9,#0000ee 15.2%,#0023ee 23%,#0047ee 29%,#006eee 34%,#009eee 39%,#00eeee 46.1%,#eeee00 65.8%,#ee2900 82%,#ee0000 85.7%,#c70000 90%,#780000)"></i><i style="background:linear-gradient(90deg,#0000b9,#0000ee 15.2%,#0024ee 23%,#0047ee 29%,#006eee 34%,#009eee 39%,#00eeee 46.1%,#eeee00 65.8%,#ee2900 82%,#ee0000 85.6%,#c70000 90%,#780000)"></i><i style="background:linear-gradient(90deg,#0000ba,#0000ee 15.2%,#0024ee 23%,#0047ee 29%,#006eee 34%,#009fee 39%,#00eeee 46.1%,#eeee00 65.8%,#ee2900 82%,#ee0000 85.6%,#c60000 90%,#770000)"></i><i style="background:linear-gradient(90deg,#0000ba,#0000ee 15.2%,#0024ee 23%,#0047ee 29%,#006eee 34%,#009eee 39%,#00eeee 46.1%,#eeee00 65.8%,#ee2900 82%,#ee0000 85.6%,#c60000 90%,#770000)"></i><i style="background:linear-gradient(90deg,#0000b9,#0000ee 15.2%,#0024ee 23%,#0047ee 29%,#006eee 34%,#009eee 39%,#00eeee 46.1%,#eeee00 65.8%,#ee2900 82%,#ee0000 85.6%,#c70000 90%,#780000)"></i><i style="background:linear-gradient(90deg,#0000b9,#0000ee 15.2%,#0023ee 23%,#0047ee 29%,#006eee 34%,#009eee 39%,#00eeee 46.1%,#eeee00 65.8%,#ee2900 82%,#ee0000 85.7%,#c70000 90%,#780000)"></i><i style="background:linear-gradient(90deg,#0000b8,#0000ee 15.2%,#0023ee 23%,#0047ee 29%,#006eee 34%,#009eee 39%,#00eeee 46.2%,#eeee00 65.8%,#ee2a00 82%,#ee0000 85.7%,#c70000 90%,#790000)"></i><i style="background:linear-gradient(90deg,#0000b7,#0000ee 15.3%,#0023ee 23%,#0047ee 29%,#006eee 34%,#009eee 39%,#00eeee 46.2%,#eeee00 65.9%,#ee2a00 82%,#ee0000 85.8%,#bf0000 91%,#7a0000)"></i><i style="background:linear-gradient(90deg,#0000b6,#0000ee 15.3%,#0023ee 23%,#0046ee 29%,#006dee 34%,#009dee 39%,#00eeee 46.2%,#eeee00 65.9%,#ee2b00 82%,#ee0000 85.8%,#c00000 91%,#7b0000)"></i><i style="background:linear-gradient(90deg,#0000b5,#0000ee 15.4%,#0022ee 23%,#0046ee 29%,#006dee 34%,#00a7ee 40%,#00eeee 46.2%,#eeee00 65.9%,#ee2b00 82%,#ee0000 85.9%,#b80000 92%,#7d0000)"></i><i style="background:linear-gradient(90deg,#0000b4,#0000ee 15.5%,#0022ee 23%,#0045ee 29%,#006cee 34%,#00a7ee 40%,#00eeee 46.3%,#eeee00 65.9%,#ee2c00 82%,#ee0000 86%,#b90000 92%,#7e0000)"></i><i style="background:linear-gradient(90deg,#0000b2,#0000ee 15.6%,#0021ee 23%,#0045ee 29%,#006cee 34%,#00a6ee 40%,#00eeee 46.3%,#eeee00 66%,#ee2d00 82%,#ee0000 86%,#b90000 92%,#800000)"></i><i style="background:linear-gradient(90deg,#0000b1,#0000ee 15.7%,#0021ee 23%,#0044ee 29%,#006bee 34%,#00a6ee 40%,#00eeee 46.4%,#eeee00 66%,#ee3900 81%,#ee0000 86.1%,#b20000 93%,#810000)"></i><i style="background:linear-gradient(90deg,#0000af,#0000ee 15.9%,#0020ee 23%,#0043ee 29%,#006aee 34%,#00a5ee 40%,#00eeee 46.5%,#eeee00 66.1%,#ee3a00 81%,#ee0000 86.2%,#b30000 93%,#830000)"></i><i style="background:linear-gradient(90deg,#0000ad,#0000ee 16%,#001fee 23%,#0043ee 29%,#0069ee 34%,#00a4ee 40%,#00eeee 46.5%,#eeee00 66.1%,#ee3b00 81%,#ee0000 86.3%,#b40000 93%,#850000)"></i><i style="background:linear-gradient(90deg,#0000ac,#0000ee 16.2%,#0024ee 24%,#0049ee 30%,#0071ee 35%,#00a3ee 40%,#00eeee 46.6%,#eeee00 66.2%,#ee3d00 81%,#ee0000 86.5%,#b50000 93%,#870000)"></i><i style="background:linear-gradient(90deg,#0000aa,#0000ee 16.4%,#0023ee 24%,#0048ee 30%,#0070ee 35%,#00a2ee 40%,#00eeee 46.7%,#eeee00 66.3%,#ee3e00 81%,#ee0000 86.6%,#b70000 93%,#890000)"></i><i style="background:linear-gradient(90deg,#0000a8,#0000ee 16.6%,#0022ee 24%,#0047ee 30%,#006fee 35%,#00a1ee 40%,#00eeee 46.7%,#eeee00 66.3%,#ee3300 82%,#ee0000 86.7%,#b80000 93%,#8b0000)"></i><i style="background:linear-gradient(90deg,#0000a6,#0000ee 16.8%,#0021ee 24%,#0045ee 30%,#006eee 35%,#00a0ee 40%,#00eeee 46.8%,#eeee00 66.4%,#ee3500 82%,#ee0000 86.9%,#ba0000 93%,#8d0000)"></i><i style="background:linear-gradient(90deg,#0000a4,#0000ee 17%,#001fee 24%,#0044ee 30%,#006dee 35%,#009fee 40%,#00eeee 46.9%,#eeee00 66.5%,#ee3700 82%,#ee0000 87%,#bb0000 93%,#8f0000)"></i><i style="background:linear-gradient(90deg,#0000a2,#0000ee 17.3%,#001eee 24%,#0043ee 30%,#006cee 35%,#009eee 40%,#00eeee 47%,#eeee00 66.6%,#ee3800 82%,#ee0000 87.2%,#bd0000 93%,#920000)"></i><i style="background:linear-gradient(90deg,#0000a0,#0000ee 17.6%,#001dee 24%,#0042ee 30%,#006aee 35%,#009cee 40%,#00eeee 47.1%,#eeee00 66.7%,#ee3a00 82%,#ee0000 87.3%,#bf0000 93%,#940000)"></i><i style="background:linear-gradient(90deg,#00009e,#0000ee 17.9%,#001cee 24%,#0040ee 30%,#0069ee 35%,#009bee 40%,#00eeee 47.2%,#eeee00 66.8%,#ee3c00 82%,#ee0000 87.5%,#c10000 93%,#970000)"></i><i style="background:linear-gradient(90deg,#00009c,#0000ee 18.2%,#001aee 24%,#003fee 30%,#0068ee 35%,#00a4ee 41%,#00eeee 47.4%,#eeee00 66.9%,#ee3e00 82%,#ee0000 87.7%,#c30000 93%,#990000)"></i><i style="background:linear-gradient(90deg,#00009b,#0000ee 18.6%,#0019ee 24%,#003dee 30%,#0066ee 35%,#00a3ee 41%,#00eeee 47.5%,#eeee00 67%,#ee3400 83%,#ee0000 87.9%,#c50000 93%,#9c0000)"></i><i style="background:linear-gradient(90deg,#000099,#0000ee 18.9%,#0017ee 24%,#003cee 30%,#0065ee 35%,#00a1ee 41%,#00eeee 47.6%,#eeee00 67.1%,#ee3700 83%,#ee0000 88.1%,#c00000 94%,#9f0000)"></i><i style="background:linear-gradient(90deg,#000097,#0000ee 19.3%,#0015ee 24%,#003aee 30%,#0063ee 35%,#00a0ee 41%,#00eeee 47.8%,#eeee00 67.2%,#ee3900 83%,#ee0000 88.4%,#c20000 94%,#a20000)"></i><i style="background:linear-gradient(90deg,#000095,#0000ee 19.8%,#0014ee 24%,#0031ee 29%,#0061ee 35%,#009eee 41%,#00eeee 47.9%,#eeee00 67.3%,#ee3000 84%,#ee0000 88.6%,#c50000 94%,#a50000)"></i><i style="background:linear-gradient(90deg,#000093,#0000ee 20.2%,#000dee 23%,#0030ee 29%,#0060ee 35%,#009cee 41%,#00eeee 48.1%,#eeee00 67.5%,#ee3200 84%,#ee0000 88.9%,#c70000 94%,#a80000)"></i><i style="background:linear-gradient(90deg,#000091,#0000ee 20.6%,#000bee 23%,#002eee 29%,#005eee 35%,#009aee 41%,#00eeee 48.2%,#eeee00 67.6%,#ee3500 84%,#ee0000 89.1%,#c90000 94%,#ab0000)"></i><i style="background:linear-gradient(90deg,#00008f,#0000ee 21%,#0009ee 23%,#002cee 29%,#005cee 35%,#0099ee 41%,#00eeee 48.4%,#eeee00 67.7%,#ee2c00 85%,#ee0000 89.4%,#cc0000 94%,#ae0000)"></i><i style="background:linear-gradient(90deg,#00008d,#0000ee 21.5%,#0007ee 23%,#002aee 29%,#005bee 35%,#0097ee 41%,#00eeee 48.5%,#eeee00 67.9%,#ee2f00 85%,#ee0000 89.7%,#ce0000 94%,#b10000)"></i><i style="background:linear-gradient(90deg,#00008b,#0000ee 21.9%,#0005ee 23%,#0028ee 29%,#0059ee 35%,#0095ee 41%,#00eeee 48.7%,#eeee00 68%,#ee3200 85%,#ee0000 89.9%,#d10000 94%,#b40000)"></i><i style="background:linear-gradient(90deg,#000089,#0000c1 12%,#0000ee 22.3%,#0003ee 23%,#0027ee 29%,#0057ee 35%,#0093ee 41%,#00eeee 48.9%,#eeee00 68.2%,#ee2a00 86%,#ee0000 90.2%,#d30000 94%,#b70000)"></i><i style="background:linear-gradient(90deg,#000087,#0001ee 23%,#0025ee 29%,#0055ee 35%,#0091ee 41%,#00eeee 49%,#eeee00 68.3%,#ee2c00 86%,#ee0000 90.5%,#d60000 94%,#bb0000)"></i><i style="background:linear-gradient(90deg,#000085,#0000ee 23.2%,#0023ee 29%,#0054ee 35%,#008fee 41%,#00eeee 49.2%,#eeee00 68.5%,#ee2400 87%,#ee0000 90.8%,#d80000 94%,#be0000)"></i><i style="background:linear-gradient(90deg,#000084,#0000ee 23.5%,#0021ee 29%,#005bee 36%,#0099ee 42%,#00eeee 49.4%,#eeee00 68.6%,#ee2700 87%,#ee0000 91.1%,#d50000 95%,#c10000)"></i><i style="background:linear-gradient(90deg,#000082,#0000ee 23.9%,#0027ee 30%,#0059ee 36%,#0097ee 42%,#00eeee 49.5%,#eeee00 68.8%,#ee2a00 87%,#ee0000 91.4%,#d80000 95%,#c50000)"></i><i style="background:linear-gradient(90deg,#000080,#0000ee 24.3%,#0025ee 30%,#0058ee 36%,#0095ee 42%,#00eeee 49.7%,#eeee00 69%,#ee2200 88%,#ee0000 91.7%,#db0000 95%,#c80000)"></i><i style="background:linear-gradient(90deg,#00007e,#0000ee 24.7%,#0023ee 30%,#005fee 37%,#0093ee 42%,#00eeee 49.8%,#eeee00 69.2%,#ee7200 81%,#ee2500 88%,#ee0000 92%,#dd0000 95%,#cb0000)"></i><i style="background:linear-gradient(90deg,#00007c,#0000ee 25%,#0029ee 31%,#005eee 37%,#0091ee 42%,#00eeee 50%,#eeee00 69.3%,#ee7500 81%,#ee2800 88%,#ee0300 92%,#ee0000 92.4%,#e00000 95%,#cf0000)"></i><i style="background:linear-gradient(90deg,#00007a,#0000ee 25.3%,#0028ee 31%,#005cee 37%,#008fee 42%,#00eeee 50.2%,#eeee00 69.5%,#ee7800 81%,#ee2b00 88%,#ee0600 92%,#ee0000 92.8%,#e30000 95%,#d20000)"></i><i style="background:linear-gradient(90deg,#000078,#0000ee 25.6%,#0026ee 31%,#0064ee 38%,#0099ee 43%,#00eeee 50.3%,#eeee00 69.7%,#ee7b00 81%,#ee2e00 88%,#ee0900 92%,#ee0000 93.2%,#d50000)"></i></div><div class="hm" style="left:97px;top:186px;width:200px;height:81px"><i style="background:linear-gradient(#e4e4ee,#e4e4ee)"></i><i style="background:linear-gradient(#e1e1ee,#e1e1ee)"></i><i style="background:linear-gradient(#dfdfee,#dfdfee)"></i><i style="background:linear-gradient(#dcdcee,#dcdcee)"></i><i style="background:linear-gradient(#d9d9ee,#d9d9ee)"></i><i style="background:linear-gradient(#d6d6ee,#d6d6ee)"></i><i style="background:linear-gradient(#d2d2ee,#d2d2ee)"></i><i style="background:linear-gradient(#cfcfee,#cfcfee)"></i><i style="background:linear-gradient(#cbcbee,#cbcbee)"></i><i style="background:linear-gradient(#c8c8ee,#c8c8ee)"></i><i style="background:linear-gradient(#c4c4ee,#c4c4ee)"></i><i style="background:linear-gradient(#c0c0ee,#c0c0ee)"></i><i style="background:linear-gradient(#bbbbee,#bbbbee)"></i><i style="background:linear-gradient(#b6b6ee,#b6b6ee)"></i><i style="background:linear-gradient(#b1b1ee,#b1b1ee)"></i><i style="background:linear-gradient(#acacee,#acacee)"></i><i style="background:linear-gradient(#a7a7ee,#a7a7ee)"></i><i style="background:linear-gradient(#a2a2ee,#a2a2ee)"></i><i style="background:linear-gradient(#9d9dee,#9d9dee)"></i><i style="background:linear-gradient(#9898ee,#9898ee)"></i><i style="background:linear-gradient(#9494ee,#9494ee)"></i><i style="background:linear-gradient(#9090ee,#9090ee)"></i><i style="background:linear-gradient(#8c8cee,#8c8cee)"></i><i style="background:linear-gradient(#8888ee,#8888ee)"></i><i style="background:linear-gradient(#8484ee,#8484ee)"></i><i style="background:linear-gradient(#8080ee,#8080ee)"></i><i style="background:linear-gradient(#7d7dee,#7d7dee)"></i><i style="background:linear-gradient(#7979ee,#7979ee)"></i><i style="background:linear-gradient(#7575ee,#7575ee)"></i><i style="background:linear-gradient(#7272ee,#7272ee)"></i><i style="background:linear-gradient(#6e6eee,#6e6eee)"></i><i style="background:linear-gradient(#6b6bee,#6b6bee)"></i><i style="background:linear-gradient(#6767ee,#6767ee)"></i><i style="background:linear-gradient(#6464ee,#6464ee)"></i><i style="background:linear-gradient(#6060ee,#6060ee)"></i><i style="background:linear-gradient(#5d5dee,#5d5dee)"></i><i style="background:linear-gradient(#5a5aee,#5a5aee)"></i><i style="background:linear-gradient(#5656ee,#5656ee)"></i><i style="background:linear-gradient(#5353ee,#5353ee)"></i><i style="background:linear-gradient(#5050ee,#5050ee)"></i><i style="background:linear-gradient(#4d4dee,#4d4dee)"></i><i style="background:linear-gradient(#4a4aee,#4a4aee)"></i><i style="background:linear-gradient(#4747ee,#4747ee)"></i><i style="background:linear-gradient(#4545ee,#4545ee)"></i><i style="background:linear-gradient(#4242ee,#4242ee)"></i><i style="background:linear-gradient(#3f3fee,#3f3fee)"></i><i style="background:linear-gradient(#3c3cee,#3c3cee)"></i><i style="background:linear-gradient(#3939ee,#3939ee)"></i><i style="background:linear-gradient(#3636ee,#3636ee)"></i><i style="background:linear-gradient(#3434ee,#3434ee)"></i><i style="background:linear-gradient(#3131ee,#3131ee)"></i><i style="background:linear-gradient(#2f2fee,#2f2fee)"></i><i style="background:linear-gradient(#2c2cee,#2c2cee)"></i><i style="background:linear-gradient(#2a2aee,#2a2aee)"></i><i style="background:linear-gradient(#2727ee,#2727ee)"></i><i style="background:linear-gradient(#2525ee,#2525ee)"></i><i style="background:linear-gradient(#2323ee,#2323ee)"></i><i style="background:linear-gradient(#2121ee,#2121ee)"></i><i style="background:linear-gradient(#1f1fee,#1f1fee)"></i><i style="background:linear-gradient(#1d1dee,#1d1dee)"></i><i style="background:linear-gradient(#1c1cee,#1c1cee)"></i><i style="background:linear-gradient(#1a1aee,#1a1aee)"></i><i style="background:linear-gradient(#1818ee,#1818ee)"></i><i style="background:linear-gradient(#1717ee,#1717ee)"></i><i style="background:linear-gradient(#1515ee,#1515ee)"></i><i style="background:linear-gradient(#1313ee,#1313ee)"></i><i style="background:linear-gradient(#1212ee,#1212ee)"></i><i style="background:linear-gradient(#1010ee,#1010ee)"></i><i style="background:linear-gradient(#0f0fee,#0f0fee)"></i><i style="background:linear-gradient(#0d0dee,#0d0dee)"></i><i style="background:linear-gradient(#0c0cee,#0c0cee)"></i><i style="background:linear-gradient(#0a0aee,#0a0aee)"></i><i style="background:linear-gradient(#0909ee,#0909ee)"></i><i style="background:linear-gradient(#0707ee,#0707ee)"></i><i style="background:linear-gradient(#0606ee,#0606ee)"></i><i style="background:linear-gradient(#0505ee,#0505ee)"></i><i style="background:linear-gradient(#0404ee,#0404ee)"></i><i style="background:linear-gradient(#0303ee,#0303ee)"></i><i style="background:linear-gradient(#0202ee,#0202ee)"></i><i style="background:linear-gradient(#0202ee,#0202ee)"></i><i style="background:linear-gradient(#0101ee,#0101ee)"></i><i style="background:linear-gradient(#0000ee,#0000ee)"></i><i style="background:linear-gradient(#0000ee,#0000ee)"></i><i style="background:linear-gradient(#0000ee,#0000ee)"></i><i style="background:linear-gradient(#0000ee,#0000ee)"></i><i style="background:linear-gradient(#0000ee,#0000ee)"></i><i style="background:linear-gradient(#0000ee,#0000ee)"></i><i style="background:linear-gradient(#0101ee,#0101ee)"></i><i style="background:linear-gradient(#0101ee,#0101ee)"></i><i style="background:linear-gradient(#0101ee,#0101ee)"></i><i style="background:linear-gradient(#0202ee,#0202ee)"></i><i style="background:linear-gradient(#0202ee,#0202ee)"></i><i style="background:linear-gradient(#0303ee,#0303ee)"></i><i style="background:linear-gradient(#0303ee,#0303ee)"></i><i style="background:linear-gradient(#0404ee,#0404ee)"></i><i style="background:linear-gradient(#0505ee,#0505ee)"></i><i style="background:linear-gradient(#0505ee,#0505ee)"></i><i style="background:linear-gradient(#0606ee,#0606ee)"></i><i style="background:linear-gradient(#0707ee,#0707ee)"></i><i style="background:linear-gradient(#0808ee,#0808ee)"></i><i style="background:linear-gradient(#0808ee,#0909ee)"></i><i style="background:linear-gradient(#0909ee,#0909ee)"></i><i style="background:linear-gradient(#0a0aee,#0a0aee)"></i><i style="background:linear-gradient(#0b0bee,#0b0bee)"></i><i style="background:linear-gradient(#0c0cee,#0f0fee 50%,#0c0cee)"></i><i style="background:linear-gradient(#0d0dee,#1010ee 50%,#0d0dee)"></i><i style="background:linear-gradient(#0e0eee,#1111ee 50%,#0e0eee)"></i><i style="background:linear-gradient(#0f0fee,#1212ee 50%,#0f0fee)"></i><i style="background:linear-gradient(#1010ee,#1414ee 50%,#1010ee)"></i><i style="background:linear-gradient(#1111ee,#1515ee 50%,#1111ee)"></i><i style="background:linear-gradient(#1212ee,#1616ee 50%,#1212ee)"></i><i style="background:linear-gradient(#1313ee,#1717ee 50%,#1313ee)"></i><i style="background:linear-gradient(#1414ee,#1919ee 50%,#1414ee)"></i><i style="background:linear-gradient(#1515ee,#1b1bee 50%,#1616ee)"></i><i style="background:linear-gradient(#1616ee,#1d1dee 50%,#1717ee)"></i><i style="background:linear-gradient(#1717ee,#1e1eee 50%,#1818ee)"></i><i style="background:linear-gradient(#1818ee,#2121ee 50%,#1919ee)"></i><i style="background:linear-gradient(#1a1aee,#2323ee 50%,#1b1bee)"></i><i style="background:linear-gradient(#1b1bee,#2525ee 50%,#1d1dee)"></i><i style="background:linear-gradient(#1d1dee,#2727ee 50%,#1e1eee)"></i><i style="background:linear-gradient(#1f1fee,#2a2aee 50%,#2020ee)"></i><i style="background:linear-gradient(#2121ee,#2c2cee 50%,#2a2aee 75%,#2222ee)"></i><i style="background:linear-gradient(#2323ee,#2c2cee 25%,#2f2fee 50%,#2c2cee 75%,#2525ee)"></i><i style="background:linear-gradient(#2525ee,#2e2eee 25%,#3232ee 50%,#2f2fee 75%,#2727ee)"></i><i style="background:linear-gradient(#2727ee,#3131ee 25%,#3434ee 50%,#3232ee 75%,#2929ee)"></i><i style="background:linear-gradient(#2a2aee,#3333ee 25%,#3737ee 50%,#3434ee 75%,#2b2bee)"></i><i style="background:linear-gradient(#2c2cee,#3636ee 25%,#3a3aee 50%,#3737ee 75%,#2e2eee)"></i><i style="background:linear-gradient(#2e2eee,#3939ee 25%,#3d3dee 50%,#3a3aee 75%,#3030ee)"></i><i style="background:linear-gradient(#3131ee,#3c3cee 25%,#4040ee 50%,#3d3dee 75%,#3333ee)"></i><i style="background:linear-gradient(#3333ee,#3e3eee 25%,#4343ee 50%,#4040ee 75%,#3636ee)"></i><i style="background:linear-gradient(#3636ee,#4141ee 25%,#4646ee 50%,#4242ee 75%,#3838ee)"></i><i style="background:linear-gradient(#3939ee,#4444ee 25%,#4848ee 50%,#4545ee 75%,#3b3bee)"></i><i style="background:linear-gradient(#3b3bee,#4747ee 25%,#4b4bee 50%,#4848ee 75%,#3e3eee)"></i><i style="background:linear-gradient(#3e3eee,#4a4aee 25%,#4e4eee 50%,#4b4bee 75%,#4040ee)"></i><i style="background:linear-gradient(#4141ee,#4d4dee 25%,#5151ee 50%,#4e4eee 75%,#4343ee)"></i><i style="background:linear-gradient(#4343ee,#5050ee 25%,#5555ee 50%,#5151ee 75%,#4646ee)"></i><i style="background:linear-gradient(#4646ee,#5454ee 27.5%,#5858ee 50%,#5555ee 72.5%,#4949ee)"></i><i style="background:linear-gradient(#4949ee,#5757ee 27.5%,#5c5cee 50%,#5959ee 72.5%,#4b4bee)"></i><i style="background:linear-gradient(#4c4cee,#5b5bee 27.5%,#5f5fee 50%,#5b5bee 75%,#4e4eee)"></i><i style="background:linear-gradient(#4e4eee,#5e5eee 27.5%,#6363ee 50%,#5f5fee 75%,#5151ee)"></i><i style="background:linear-gradient(#5151ee,#6161ee 25%,#6767ee 50%,#6262ee 75%,#5454ee)"></i><i style="background:linear-gradient(#5555ee,#6464ee 25%,#6a6aee 50%,#6666ee 75%,#5858ee)"></i><i style="background:linear-gradient(#5858ee,#6868ee 25%,#6e6eee 50%,#6a6aee 75%,#5b5bee)"></i><i style="background:linear-gradient(#5b5bee,#6c6cee 25%,#7272ee 50%,#6d6dee 75%,#5e5eee)"></i><i style="background:linear-gradient(#5f5fee,#6f6fee 25%,#7676ee 50%,#7171ee 75%,#6262ee)"></i><i style="background:linear-gradient(#6262ee,#7373ee 25%,#7979ee 50%,#7575ee 75%,#6565ee)"></i><i style="background:linear-gradient(#6666ee,#7777ee 25%,#7d7dee 50%,#7878ee 75%,#6969ee)"></i><i style="background:linear-gradient(#6969ee,#7a7aee 25%,#8080ee 50%,#7c7cee 75%,#6d6dee)"></i><i style="background:linear-gradient(#6d6dee,#7e7eee 25%,#8383ee 50%,#7f7fee 75%,#7070ee)"></i><i style="background:linear-gradient(#7070ee,#8181ee 25%,#8787ee 50%,#8383ee 75%,#7474ee)"></i><i style="background:linear-gradient(#7474ee,#8484ee 25%,#8a8aee 50%,#8686ee 75%,#7777ee)"></i><i style="background:linear-gradient(#7777ee,#8888ee 25%,#8d8dee 50%,#8989ee 75%,#7b7bee)"></i><i style="background:linear-gradient(#7b7bee,#8b8bee 25%,#9191ee 50%,#8c8cee 75%,#7e7eee)"></i><i style="background:linear-gradient(#7e7eee,#8e8eee 25%,#9494ee 50%,#9090ee 75%,#8181ee)"></i><i style="background:linear-gradient(#8181ee,#9191ee 25%,#9797ee 50%,#9393ee 75%,#8585ee)"></i><i style="background:linear-gradient(#8484ee,#9595ee 25%,#9a9aee 50%,#9696ee 75%,#8888ee)"></i><i style="background:linear-gradient(#8888ee,#9898ee 25%,#9e9eee 50%,#9999ee 75%,#8b8bee)"></i><i style="background:linear-gradient(#8b8bee,#9b9bee 25%,#a1a1ee 50%,#9d9dee 75%,#8e8eee)"></i><i style="background:linear-gradient(#8e8eee,#9e9eee 25%,#a4a4ee 50%,#a0a0ee 75%,#9191ee)"></i><i style="background:linear-gradient(#9191ee,#a1a1ee 25%,#a7a7ee 50%,#a3a3ee 75%,#9595ee)"></i><i style="background:linear-gradient(#9595ee,#a4a4ee 25%,#aaaaee 50%,#a6a6ee 75%,#9898ee)"></i><i style="background:linear-gradient(#9898ee,#a7a7ee 25%,#acacee 50%,#a9a9ee 75%,#9b9bee)"></i><i style="background:linear-gradient(#9b9bee,#aaaaee 25%,#afafee 50%,#acacee 75%,#9e9eee)"></i><i style="background:linear-gradient(#9e9eee,#adadee 25%,#b2b2ee 50%,#aeaeee 75%,#a1a1ee)"></i><i style="background:linear-gradient(#a1a1ee,#b0b0ee 25%,#b5b5ee 50%,#b1b1ee 75%,#a4a4ee)"></i><i style="background:linear-gradient(#a4a4ee,#b2b2ee 25%,#b8b8ee 50%,#b4b4ee 75%,#a7a7ee)"></i><i style="background:linear-gradient(#a7a7ee,#b5b5ee 25%,#babaee 50%,#b7b7ee 75%,#aaaaee)"></i><i style="background:linear-gradient(#aaaaee,#b8b8ee 25%,#bdbdee 50%,#b9b9ee 75%,#adadee)"></i><i style="background:linear-gradient(#adadee,#bbbbee 25%,#bfbfee 50%,#bcbcee 75%,#b0b0ee)"></i><i style="background:linear-gradient(#b0b0ee,#bdbdee 25%,#c2c2ee 50%,#bfbfee 75%,#b2b2ee)"></i><i style="background:linear-gradient(#b2b2ee,#c0c0ee 25%,#c4c4ee 50%,#c1c1ee 75%,#b5b5ee)"></i><i style="background:linear-gradient(#b5b5ee,#c2c2ee 25%,#c7c7ee 50%,#c4c4ee 75%,#b8b8ee)"></i><i style="background:linear-gradient(#b8b8ee,#c5c5ee 25%,#c9c9ee 50%,#c6c6ee 75%,#bbbbee)"></i><i style="background:linear-gradient(#babaee,#c7c7ee 25%,#cbcbee 50%,#c8c8ee 75%,#bdbdee)"></i><i style="background:linear-gradient(#bdbdee,#cacaee 25%,#ceceee 50%,#cbcbee 75%,#c0c0ee)"></i><i style="background:linear-gradient(#c0c0ee,#cbcbee 22.5%,#d0d0ee 50%,#cdcdee 75%,#c2c2ee)"></i><i style="background:linear-gradient(#c2c2ee,#cdcdee 22.5%,#d2d2ee 50%,#ceceee 77.5%,#c5c5ee)"></i><i style="background:linear-gradient(#c5c5ee,#cfcfee 22.5%,#d3d3ee 50%,#d0d0ee 77.5%,#c7c7ee)"></i><i style="background:linear-gradient(#c7c7ee,#d1d1ee 22.5%,#d5d5ee 50%,#d2d2ee 77.5%,#cacaee)"></i><i style="background:linear-gradient(#cacaee,#d3d3ee 22.5%,#d7d7ee 50%,#d4d4ee 77.5%,#ccccee)"></i><i style="background:linear-gradient(#ccccee,#d5d5ee 22.5%,#d8d8ee 50%,#d6d6ee 77.5%,#ceceee)"></i><i style="background:linear-gradient(#ceceee,#d6d6ee 22.5%,#dadaee 50%,#d7d7ee 77.5%,#d0d0ee)"></i><i style="background:linear-gradient(#d0d0ee,#d8d8ee 22.5%,#dbdbee 50%,#d9d9ee 77.5%,#d2d2ee)"></i><i style="background:linear-gradient(#d2d2ee,#dadaee 22.5%,#ddddee 50%,#dbdbee 75%,#d4d4ee)"></i><i style="background:linear-gradient(#d4d4ee,#dedeee 50%,#d6d6ee)"></i><i style="background:linear-gradient(#d6d6ee,#e0e0ee 50%,#d7d7ee)"></i><i style="background:linear-gradient(#d7d7ee,#e2e2ee 50%,#d9d9ee)"></i><i style="background:linear-gradient(#d9d9ee,#e3e3ee 50%,#dadaee)"></i><i style="background:linear-gradient(#dadaee,#e5e5ee 50%,#dcdcee)"></i><i style="background:linear-gradient(#dcdcee,#e7e7ee 50%,#ddddee)"></i><i style="background:linear-gradient(#dedeee,#e9e9ee 50%,#dfdfee)"></i><i style="background:linear-gradient(#dfdfee,#ececee 50%,#eaeaee 70%,#e1e1ee)"></i><i style="background:linear-gradient(#e1e1ee,#ececee 30%,#eeeeee 50%,#ececee 72.5%,#e2e2ee)"></i><i style="background:linear-gradient(#e3e3ee,#eeeeee 32.5%,#eeeeee 71.5%,#e4e4ee)"></i><i style="background:linear-gradient(#e4e4ee,#eeeeee 23.6%,#eeebeb 52.5%,#eeeeee 80.4%,#e6e6ee)"></i><i style="background:linear-gradient(#e6e6ee,#eeeeee 16.8%,#eeeaea 52.5%,#eeeeee 87.3%,#e8e8ee)"></i><i style="background:linear-gradient(#e9e9ee,#eeeeee 11%,#eee9e9 52.5%,#eeeeee 93%,#ebebee)"></i><i style="background:linear-gradient(#ececee,#eeeeee 5.79%,#eee8e8 52.5%,#eeeeee)"></i><i style="background:linear-gradient(#eeeeee,#eee7e7 50%,#eeeded)"></i><i style="background:linear-gradient(#eeeded,#eee5e5 50%,#eeecec)"></i></div><div class="hm hh" style="left:306px;top:186px;width:201px;height:81px"><i style="background:linear-gradient(90deg,#7a7aee,#6e6eee 12%,#5959ee 26%,#2323ee 48%,#0303ee 69%,#0000ee 77%,#0808ee 86%,#1515ee 93%,#2929ee)"></i><i style="background:linear-gradient(90deg,#7a7aee,#6e6eee 12%,#5959ee 26%,#2323ee 48%,#0303ee 69%,#0101ee 77%,#0909ee 86%,#1515ee 93%,#2929ee)"></i><i style="background:linear-gradient(90deg,#7a7aee,#6e6eee 12%,#5959ee 26%,#2323ee 48%,#0404ee 69%,#0101ee 77%,#0909ee 86%,#1616ee 93%,#2929ee)"></i><i style="background:linear-gradient(90deg,#7a7aee,#6f6fee 12%,#5a5aee 26%,#2424ee 48%,#0505ee 69%,#0202ee 77%,#0a0aee 86%,#1717ee 93%,#2a2aee)"></i><i style="background:linear-gradient(90deg,#7b7bee,#6f6fee 12%,#5a5aee 26%,#2525ee 48%,#0606ee 69%,#0404ee 77%,#0c0cee 86%,#1818ee 93%,#2b2bee)"></i><i style="background:linear-gradient(90deg,#7b7bee,#7171ee 11%,#5d5dee 25%,#2626ee 48%,#0707ee 69%,#0505ee 77%,#0d0dee 86%,#1a1aee 93%,#2d2dee)"></i><i style="background:linear-gradient(90deg,#7c7cee,#7272ee 11%,#5e5eee 25%,#2828ee 48%,#0909ee 69%,#0707ee 77%,#0f0fee 86%,#1c1cee 93%,#2e2eee)"></i><i style="background:linear-gradient(90deg,#7d7dee,#7373ee 11%,#5f5fee 25%,#2929ee 48%,#0c0cee 69%,#0a0aee 77%,#1111ee 86%,#1e1eee 93%,#3030ee)"></i><i style="background:linear-gradient(90deg,#7e7eee,#7474ee 11%,#6060ee 25%,#2b2bee 48%,#0e0eee 69%,#0c0cee 77%,#1414ee 86%,#2020ee 93%,#3333ee)"></i><i style="background:linear-gradient(90deg,#7f7fee,#7575ee 11%,#6262ee 25%,#2e2eee 48%,#1111ee 69%,#0f0fee 77%,#1717ee 86%,#2323ee 93%,#3535ee)"></i><i style="background:linear-gradient(90deg,#8080ee,#7676ee 11%,#6363ee 25%,#3030ee 48%,#1414ee 69%,#1212ee 77%,#1a1aee 86%,#2626ee 93%,#3838ee)"></i><i style="background:linear-gradient(90deg,#8181ee,#7777ee 11%,#6565ee 25%,#3333ee 48%,#1717ee 69%,#1616ee 77%,#1d1dee 86%,#2929ee 93%,#3b3bee)"></i><i style="background:linear-gradient(90deg,#8282ee,#7979ee 11%,#6767ee 25%,#3636ee 48%,#1b1bee 69%,#1919ee 77%,#2121ee 86%,#2d2dee 93%,#3e3eee)"></i><i style="background:linear-gradient(90deg,#8484ee,#7a7aee 11%,#6969ee 25%,#3939ee 48%,#1f1fee 69%,#1e1eee 77%,#2525ee 86%,#3030ee 93%,#4242ee)"></i><i style="background:linear-gradient(90deg,#8585ee,#7c7cee 11%,#6b6bee 25%,#3c3cee 48%,#2323ee 69%,#2222ee 77%,#2929ee 86%,#3535ee 93%,#4545ee)"></i><i style="background:linear-gradient(90deg,#8787ee,#7e7eee 11%,#6d6dee 25%,#3f3fee 48%,#2828ee 69%,#2727ee 77%,#2e2eee 86%,#3939ee 93%,#4949ee)"></i><i style="background:linear-gradient(90deg,#8888ee,#6f6fee 25%,#4343ee 48%,#2c2cee 69%,#2b2bee 77%,#3333ee 86%,#3e3eee 93%,#4e4eee)"></i><i style="background:linear-gradient(90deg,#8a8aee,#7272ee 25%,#4949ee 47%,#3232ee 68%,#3030ee 76%,#3838ee 86%,#5252ee)"></i><i style="background:linear-gradient(90deg,#8c8cee,#7575ee 25%,#4d4dee 47%,#3737ee 68%,#3636ee 76%,#3d3dee 86%,#5757ee)"></i><i style="background:linear-gradient(90deg,#8e8eee,#7777ee 25%,#5151ee 47%,#3d3dee 68%,#3b3bee 76%,#4343ee 86%,#5c5cee)"></i><i style="background:linear-gradient(90deg,#9090ee,#7a7aee 25%,#5656ee 47%,#4242ee 68%,#4141ee 76%,#4949ee 86%,#6161ee)"></i><i style="background:linear-gradient(90deg,#9292ee,#7d7dee 25%,#5a5aee 47%,#4848ee 68%,#4848ee 76%,#4f4fee 86%,#6666ee)"></i><i style="background:linear-gradient(90deg,#9595ee,#8181ee 25%,#5f5fee 47%,#4f4fee 67%,#4e4eee 76%,#5454ee 85%,#6b6bee)"></i><i style="background:linear-gradient(90deg,#9797ee,#8484ee 25%,#6464ee 47%,#5555ee 67%,#5555ee 76%,#5b5bee 85%,#7171ee)"></i><i style="background:linear-gradient(90deg,#9999ee,#8686ee 26%,#6868ee 48%,#5c5cee 67%,#5b5bee 76%,#6161ee 85%,#7777ee)"></i><i style="background:linear-gradient(90deg,#9c9cee,#8a8aee 26%,#6e6eee 48%,#6363ee 66%,#6666ee 82%,#6d6dee 90%,#7d7dee)"></i><i style="background:linear-gradient(90deg,#9e9eee,#8e8eee 26%,#7373ee 48%,#6a6aee 66%,#6d6dee 82%,#7474ee 90%,#8383ee)"></i><i style="background:linear-gradient(90deg,#a1a1ee,#9191ee 26%,#7979ee 48%,#7171ee 65%,#7474ee 81%,#7b7bee 90%,#8989ee)"></i><i style="background:linear-gradient(90deg,#a4a4ee,#9595ee 26%,#7f7fee 47%,#7878ee 64%,#7b7bee 80%,#8383ee 90%,#9090ee)"></i><i style="background:linear-gradient(90deg,#a7a7ee,#9999ee 26%,#8585ee 47%,#8080ee 63%,#8282ee 80%,#9797ee)"></i><i style="background:linear-gradient(90deg,#a9a9ee,#9d9dee 26%,#8b8bee 47%,#8787ee 62%,#8a8aee 79%,#9d9dee)"></i><i style="background:linear-gradient(90deg,#acacee,#a1a1ee 26%,#9292ee 46%,#8f8fee 61%,#9292ee 79%,#a4a4ee)"></i><i style="background:linear-gradient(90deg,#afafee,#a6a6ee 26%,#9898ee 46%,#9696ee 59%,#9999ee 78%,#ababee)"></i><i style="background:linear-gradient(90deg,#b2b2ee,#aaaaee 26%,#9f9fee 45%,#9d9dee 57%,#a2a2ee 78%,#b2b2ee)"></i><i style="background:linear-gradient(90deg,#b6b6ee,#a4a4ee 54%,#aaaaee 77%,#b9b9ee)"></i><i style="background:linear-gradient(90deg,#b9b9ee,#ababee 51%,#b2b2ee 77%,#c1c1ee)"></i><i style="background:linear-gradient(90deg,#bcbcee,#b2b2ee 49%,#bbbbee 77%,#c8c8ee)"></i><i style="background:linear-gradient(90deg,#bfbfee,#b9b9ee 48%,#cfcfee)"></i><i style="background:linear-gradient(90deg,#c2c2ee,#bfbfee 47%,#d7d7ee)"></i><i style="background:linear-gradient(90deg,#c6c6ee,#c6c6ee 45%,#dedeee)"></i><i style="background:linear-gradient(90deg,#c9c9ee,#ccccee 43%,#dcdcee 74%,#e5e5ee)"></i><i style="background:linear-gradient(90deg,#cdcdee,#d1d1ee 40%,#e5e5ee 74%,#ededee)"></i><i style="background:linear-gradient(90deg,#d0d0ee,#d7d7ee 39%,#eeeeee 75.5%,#eee9e9)"></i><i style="background:linear-gradient(90deg,#d4d4ee,#dcdcee 36%,#eeeeee 62.9%,#eee4e4 81%,#eee2e2)"></i><i style="background:linear-gradient(90deg,#d7d7ee,#dfdfee 31%,#eeeeee 54%,#eedfdf 75%,#eedbdb)"></i><i style="background:linear-gradient(90deg,#dbdbee,#e2e2ee 27%,#eeeeee 45.4%,#eed7d7 74%,#eed4d4)"></i><i style="background:linear-gradient(90deg,#dedeee,#e5e5ee 22%,#eeeeee 37.8%,#eecfcf 74%,#eecbcb 88%,#eecdcd)"></i><i style="background:linear-gradient(90deg,#e2e2ee,#eeeeee 30.5%,#eec8c8 73%,#eec4c4 88%,#eec6c6)"></i><i style="background:linear-gradient(90deg,#e5e5ee,#eeeeee 22.5%,#eee5e5 37%,#eec0c0 73%,#eebcbc 88%,#eebfbf)"></i><i style="background:linear-gradient(90deg,#e9e9ee,#eeeeee 13.9%,#eee8e8 28%,#eeb8b8 74%,#eeb5b5 88%,#eeb8b8)"></i><i style="background:linear-gradient(90deg,#ededee,#eeeeee 8%,#eee3e3 29%,#eeb0b0 74%,#eeadad 88%,#eeb1b1)"></i><i style="background:linear-gradient(90deg,#eeeded,#eedfdf 30%,#eea9a9 73%,#eea6a6 87%,#eeaaaa)"></i><i style="background:linear-gradient(90deg,#eeebeb,#eedcdc 29%,#eea2a2 73%,#ee9e9e 87%,#eea4a4)"></i><i style="background:linear-gradient(90deg,#eee8e8,#eed8d8 29%,#eea4a4 64%,#ee9a9a 73%,#ee9797 87%,#ee9d9d)"></i><i style="background:linear-gradient(90deg,#eee6e6,#eedfdf 15%,#eed4d4 29%,#ee9f9f 63%,#ee9393 73%,#ee9090 87%,#ee9797)"></i><i style="background:linear-gradient(90deg,#eee3e3,#eedddd 14%,#eed1d1 28%,#ee9898 63%,#ee8c8c 73%,#ee8989 87%,#ee9090)"></i><i style="background:linear-gradient(90deg,#eee1e1,#eedada 14%,#eecece 28%,#eea8a8 49%,#ee8686 72%,#ee8282 87%,#ee8a8a)"></i><i style="background:linear-gradient(90deg,#eedede,#eed8d8 13%,#eecaca 28%,#eea3a3 49%,#ee7f7f 72%,#ee7b7b 87%,#ee8484)"></i><i style="background:linear-gradient(90deg,#eedcdc,#eed5d5 13%,#eec7c7 28%,#ee9d9d 49%,#ee7878 72%,#ee7474 87%,#ee7e7e)"></i><i style="background:linear-gradient(90deg,#eed9d9,#eed2d2 13%,#eec3c3 28%,#ee9797 49%,#ee7171 72%,#ee6e6e 87%,#ee7878)"></i><i style="background:linear-gradient(90deg,#eed7d7,#eed0d0 13%,#eec0c0 28%,#ee9494 48%,#ee6b6b 72%,#ee6767 86%,#ee7272)"></i><i style="background:linear-gradient(90deg,#eed5d5,#eecece 12%,#eebebe 27%,#ee8d8d 49%,#ee6464 72%,#ee6161 86%,#ee6c6c)"></i><i style="background:linear-gradient(90deg,#eed2d2,#eecbcb 12%,#eebbbb 27%,#ee8888 49%,#ee6a6a 64%,#ee5e5e 72%,#ee5b5b 86%,#ee6767)"></i><i style="background:linear-gradient(90deg,#eed0d0,#eec9c9 12%,#eeb8b8 27%,#ee8585 48%,#ee6464 64%,#ee5858 72%,#ee5555 86%,#ee6161)"></i><i style="background:linear-gradient(90deg,#eecece,#eec7c7 12%,#eeb5b5 27%,#ee8080 48%,#ee5f5f 64%,#ee5252 72%,#ee4f4f 86%,#ee5c5c)"></i><i style="background:linear-gradient(90deg,#eecccc,#eec4c4 12%,#eeb2b2 27%,#ee7b7b 48%,#ee5959 64%,#ee4c4c 72%,#ee4949 86%,#ee5757)"></i><i style="background:linear-gradient(90deg,#eecaca,#eec2c2 12%,#eeafaf 27%,#ee7777 48%,#ee5454 64%,#ee4747 72%,#ee4343 77%,#ee4444 86%,#ee5252)"></i><i style="background:linear-gradient(90deg,#eec8c8,#eec0c0 12%,#eeacac 27%,#ee7272 48%,#ee4f4f 64%,#ee4343 71%,#ee3e3e 77%,#ee3f3f 86%,#ee4d4d)"></i><i style="background:linear-gradient(90deg,#eec6c6,#eebebe 12%,#eea9a9 27%,#ee6e6e 48%,#ee4a4a 64%,#ee3e3e 71%,#ee3939 77%,#ee3a3a 86%,#ee3f3f 93%,#ee4949)"></i><i style="background:linear-gradient(90deg,#eec4c4,#eebcbc 12%,#eea7a7 27%,#ee9898 33%,#ee6a6a 48%,#ee4545 64%,#ee3939 71%,#ee3434 77%,#ee3535 86%,#ee3a3a 93%,#ee4444)"></i><i style="background:linear-gradient(90deg,#eec2c2,#eebaba 12%,#eea5a5 27%,#ee9595 33%,#ee6666 48%,#ee4343 63%,#ee3434 71%,#ee2f2f 77%,#ee3030 86%,#ee3535 93%,#ee4040)"></i><i style="background:linear-gradient(90deg,#eec1c1,#eeb8b8 12%,#eea2a2 27%,#ee9393 33%,#ee6262 48%,#ee3e3e 63%,#ee2f2f 71%,#ee2a2a 77%,#ee2c2c 86%,#ee3131 93%,#ee3c3c)"></i><i style="background:linear-gradient(90deg,#eebfbf,#eeb6b6 12%,#eea0a0 27%,#ee9090 33%,#ee5f5f 48%,#ee3a3a 63%,#ee2b2b 71%,#ee2626 77%,#ee2727 86%,#ee2d2d 93%,#ee3838)"></i><i style="background:linear-gradient(90deg,#eebebe,#eeb5b5 12%,#ee9e9e 27%,#ee8e8e 33%,#ee5c5c 48%,#ee3636 63%,#ee2727 71%,#ee2222 77%,#ee2323 86%,#ee2929 93%,#ee3434)"></i><i style="background:linear-gradient(90deg,#eebcbc,#eeb3b3 12%,#ee9c9c 27%,#ee8b8b 33%,#ee5858 48%,#ee3333 63%,#ee2323 71%,#ee1e1e 77%,#ee1f1f 86%,#ee2525 93%,#ee3131)"></i><i style="background:linear-gradient(90deg,#eebbbb,#eeb2b2 12%,#ee9a9a 27%,#ee8989 33%,#ee5555 48%,#ee2f2f 63%,#ee1f1f 71%,#ee1a1a 77%,#ee1c1c 86%,#ee2222 93%,#ee2e2e)"></i><i style="background:linear-gradient(90deg,#eebaba,#eeb0b0 12%,#ee9898 27%,#ee8787 33%,#ee5353 48%,#ee2c2c 63%,#ee1c1c 71%,#ee1717 77%,#ee1818 86%,#ee1f1f 93%,#ee2b2b)"></i><i style="background:linear-gradient(90deg,#eeb8b8,#eeafaf 12%,#ee9797 27%,#ee8585 33%,#ee5050 48%,#ee2929 63%,#ee1919 71%,#ee1313 77%,#ee1515 86%,#ee1c1c 93%,#ee2828)"></i><i style="background:linear-gradient(90deg,#eeb7b7,#eeaeae 12%,#ee9595 27%,#ee8484 33%,#ee4e4e 48%,#ee2626 63%,#ee1616 71%,#ee1010 77%,#ee1212 86%,#ee1919 93%,#ee2525)"></i><i style="background:linear-gradient(90deg,#eeb6b6,#eeadad 12%,#ee9494 27%,#ee8282 33%,#ee4b4b 48%,#ee2323 63%,#ee1313 71%,#ee0d0d 77%,#ee0f0f 85%,#ee1616 93%,#ee2222)"></i><i style="background:linear-gradient(90deg,#eeb6b6,#eeacac 12%,#ee9393 27%,#ee8080 33%,#ee4949 48%,#ee2121 63%,#ee1010 71%,#ee0b0b 77%,#ee0c0c 85%,#ee1414 93%,#ee2020)"></i></div><div class="hm hh" style="left:516px;top:186px;width:201px;height:81px"><i style="background:linear-gradient(90deg,#0f0fee,#2020ee 8%,#4040ee 17%,#7474ee 26%,#b6b6ee 36%,#eeeeee 45.7%,#eec7c7 52%,#ee8888 61%,#ee6e6e 67%,#ee5b5b 74%,#ee5a5a 80%,#ee6767 89%,#ee7474 94%,#ee8b8b)"></i><i style="background:linear-gradient(90deg,#1212ee,#2121ee 8%,#4242ee 17%,#7676ee 26%,#b9b9ee 36%,#eeeeee 45%,#eec3c3 52%,#ee8585 61%,#ee6a6a 67%,#ee5858 74%,#ee5757 80%,#ee6363 89%,#ee7070 94%,#ee8787)"></i><i style="background:linear-gradient(90deg,#1414ee,#2323ee 8%,#4343ee 17%,#7878ee 26%,#bbbbee 36%,#eeeeee 44.4%,#ee8181 61%,#ee6767 67%,#ee5454 74%,#ee5353 80%,#ee6060 89%,#ee6d6d 94%,#ee8484)"></i><i style="background:linear-gradient(90deg,#1616ee,#2525ee 8%,#4545ee 17%,#7a7aee 26%,#eeeeee 43.8%,#ee7d7d 61%,#ee6363 67%,#ee5353 73%,#ee4f4f 79%,#ee5b5b 88%,#ee6767 93%,#ee8080)"></i><i style="background:linear-gradient(90deg,#1818ee,#2727ee 8%,#3636ee 13%,#4747ee 17%,#7c7cee 26%,#eeeeee 43.2%,#ee7a7a 61%,#ee6060 67%,#ee5050 73%,#ee4c4c 79%,#ee5858 88%,#ee6363 93%,#ee7d7d)"></i><i style="background:linear-gradient(90deg,#1a1aee,#2b2bee 9%,#4848ee 17%,#7d7dee 26%,#eeeeee 42.7%,#ee7c7c 60%,#ee5c5c 67%,#ee4c4c 73%,#ee4949 79%,#ee5555 88%,#ee6060 93%,#ee7979)"></i><i style="background:linear-gradient(90deg,#1c1cee,#2d2dee 9%,#4a4aee 17%,#7f7fee 26%,#eeeeee 42.1%,#ee7878 60%,#ee5959 67%,#ee4949 73%,#ee4646 79%,#ee5151 88%,#ee5d5d 93%,#ee7676)"></i><i style="background:linear-gradient(90deg,#1e1eee,#2f2fee 9%,#4c4cee 17%,#8181ee 26%,#eeeeee 41.7%,#ee7575 60%,#ee5656 67%,#ee4646 73%,#ee4343 79%,#ee4e4e 88%,#ee5a5a 93%,#ee7373)"></i><i style="background:linear-gradient(90deg,#2020ee,#3030ee 9%,#3c3cee 13%,#4d4dee 17%,#8383ee 26%,#eeeeee 41.2%,#ee7171 60%,#ee5353 67%,#ee4343 73%,#ee4040 79%,#ee4b4b 88%,#ee5757 93%,#ee6f6f)"></i><i style="background:linear-gradient(90deg,#2222ee,#3232ee 9%,#3e3eee 13%,#4f4fee 17%,#8484ee 26%,#eeeeee 40.8%,#ee6e6e 60%,#ee5353 66%,#ee4242 72%,#ee3c3c 77%,#ee4242 84%,#ee5151 92%,#ee6c6c)"></i><i style="background:linear-gradient(90deg,#2424ee,#3333ee 9%,#3f3fee 13%,#5050ee 17%,#8686ee 26%,#eeeeee 40.4%,#ee6b6b 60%,#ee5050 66%,#ee3f3f 72%,#ee3939 77%,#ee3f3f 84%,#ee4e4e 92%,#ee6969)"></i><i style="background:linear-gradient(90deg,#2626ee,#3535ee 9%,#4040ee 13%,#5252ee 17%,#8888ee 26%,#eeeeee 40%,#ee6868 60%,#ee4d4d 66%,#ee3c3c 72%,#ee3636 77%,#ee3c3c 84%,#ee4b4b 92%,#ee6666)"></i><i style="background:linear-gradient(90deg,#2727ee,#2e2eee 5%,#3939ee 10%,#5353ee 17%,#8989ee 26%,#eeeeee 39.6%,#eeb9b9 47%,#ee6a6a 59%,#ee4a4a 66%,#ee3939 72%,#ee3333 77%,#ee3a3a 84%,#ee4949 92%,#ee6363)"></i><i style="background:linear-gradient(90deg,#2929ee,#2f2fee 5%,#3a3aee 10%,#5555ee 17%,#8b8bee 26%,#eeeeee 39.3%,#eeb6b6 47%,#ee6767 59%,#ee4b4b 65%,#ee3939 71%,#ee3030 76%,#ee3535 83%,#ee4646 92%,#ee6060)"></i><i style="background:linear-gradient(90deg,#2b2bee,#3131ee 5%,#3c3cee 10%,#4848ee 14%,#5656ee 17%,#8c8cee 26%,#eeeeee 39%,#eeb3b3 47%,#ee6464 59%,#ee4444 66%,#ee3636 71%,#ee2e2e 76%,#ee3333 83%,#ee4343 92%,#ee5d5d)"></i><i style="background:linear-gradient(90deg,#2c2cee,#3232ee 5%,#3d3dee 10%,#4a4aee 14%,#5757ee 17%,#8e8eee 26%,#eeeeee 38.7%,#eeb0b0 47%,#ee6767 58%,#ee4545 65%,#ee3636 70%,#ee2b2b 76%,#ee2f2f 82%,#ee3e3e 91%,#ee5a5a)"></i><i style="background:linear-gradient(90deg,#2e2eee,#3434ee 5%,#3f3fee 10%,#4747ee 13%,#5959ee 17%,#8f8fee 26%,#eeeeee 38.4%,#eeadad 47%,#ee6464 58%,#ee4242 65%,#ee3333 70%,#ee2828 76%,#ee2c2c 82%,#ee3c3c 91%,#ee5858)"></i><i style="background:linear-gradient(90deg,#3030ee,#3d3dee 9%,#4848ee 13%,#5555ee 16%,#7070ee 21%,#9191ee 26%,#eeeeee 38.1%,#eeaaaa 47%,#ee6767 57%,#ee4848 63%,#ee3333 69%,#ee2727 75%,#ee2828 81%,#ee3939 91%,#ee5555)"></i><i style="background:linear-gradient(90deg,#3131ee,#3f3fee 9%,#4a4aee 13%,#5656ee 16%,#7171ee 21%,#9292ee 26%,#eeeeee 37.8%,#eea7a7 47%,#ee6464 57%,#ee4141 64%,#ee3030 69%,#ee2424 75%,#ee2626 81%,#ee3737 91%,#ee5252)"></i><i style="background:linear-gradient(90deg,#3333ee,#4040ee 9%,#4b4bee 13%,#5757ee 16%,#7373ee 21%,#9393ee 26%,#eeeeee 37.6%,#eea4a4 47%,#ee6262 57%,#ee3f3f 64%,#ee2e2e 69%,#ee2222 75%,#ee2424 81%,#ee3434 91%,#ee5050)"></i><i style="background:linear-gradient(90deg,#3434ee,#4141ee 9%,#4c4cee 13%,#5959ee 16%,#7474ee 21%,#9595ee 26%,#eeeeee 37.4%,#eea9a9 46%,#ee6565 56%,#ee4141 63%,#ee2b2b 69%,#ee1f1f 75%,#ee2121 81%,#ee3232 91%,#ee4e4e)"></i><i style="background:linear-gradient(90deg,#3636ee,#4242ee 9%,#4d4dee 13%,#5a5aee 16%,#7575ee 21%,#9696ee 26%,#eeeeee 37.2%,#eea6a6 46%,#ee6969 55%,#ee4747 61%,#ee2c2c 68%,#ee1d1d 75%,#ee1e1e 80%,#ee3030 91%,#ee4b4b)"></i><i style="background:linear-gradient(90deg,#3737ee,#4444ee 9%,#4e4eee 13%,#5b5bee 16%,#7676ee 21%,#9797ee 26%,#eeeeee 36.9%,#eea3a3 46%,#ee6c6c 54%,#ee4949 60%,#ee2929 68%,#ee1b1b 75%,#ee1c1c 80%,#ee2e2e 91%,#ee4949)"></i><i style="background:linear-gradient(90deg,#3838ee,#3d3dee 5%,#4747ee 10%,#5c5cee 16%,#7777ee 21%,#9898ee 26%,#eeeeee 36.7%,#eea1a1 46%,#ee6a6a 54%,#ee4747 60%,#ee2727 68%,#ee1919 75%,#ee1a1a 80%,#ee2c2c 91%,#ee4747)"></i><i style="background:linear-gradient(90deg,#3a3aee,#3e3eee 5%,#4848ee 10%,#5d5dee 16%,#7878ee 21%,#9999ee 26%,#eeeeee 36.6%,#ee9e9e 46%,#ee6e6e 53%,#ee4545 60%,#ee2525 68%,#ee1717 75%,#ee1818 80%,#ee2a2a 91%,#ee4444)"></i><i style="background:linear-gradient(90deg,#3b3bee,#3f3fee 5%,#4949ee 10%,#5151ee 13%,#5e5eee 16%,#7979ee 21%,#9b9bee 26%,#eeeeee 36.4%,#ee9c9c 46%,#ee6b6b 53%,#ee4343 60%,#ee2323 68%,#ee1515 75%,#ee1616 80%,#ee2828 91%,#ee4242)"></i><i style="background:linear-gradient(90deg,#3c3cee,#4141ee 5%,#4a4aee 10%,#5252ee 13%,#5f5fee 16%,#7a7aee 21%,#9c9cee 26%,#eeeeee 36.2%,#ee9a9a 46%,#ee6969 53%,#ee4141 60%,#ee2121 68%,#ee1313 75%,#ee1414 80%,#ee2626 91%,#ee4040)"></i><i style="background:linear-gradient(90deg,#3d3dee,#4b4bee 10%,#5353ee 13%,#6060ee 16%,#7b7bee 21%,#9d9dee 26%,#eeeeee 36.1%,#eea0a0 45%,#ee6d6d 52%,#ee3f3f 60%,#ee1f1f 68%,#ee1111 75%,#ee1212 80%,#ee2424 91%,#ee3e3e)"></i><i style="background:linear-gradient(90deg,#3e3eee,#4c4cee 10%,#5454ee 13%,#6161ee 16%,#7c7cee 21%,#9e9eee 26%,#eeeeee 35.9%,#ee9e9e 45%,#ee6b6b 52%,#ee4242 59%,#ee2020 67%,#ee1010 74%,#ee0f0f 79%,#ee2020 90%,#ee3d3d)"></i><i style="background:linear-gradient(90deg,#3f3fee,#4d4dee 10%,#5454ee 13%,#6262ee 16%,#7d7dee 21%,#9f9fee 26%,#eeeeee 35.8%,#ee9c9c 45%,#ee6f6f 51%,#ee4040 59%,#ee1e1e 67%,#ee0f0f 74%,#ee0e0e 79%,#ee1f1f 90%,#ee3b3b)"></i><i style="background:linear-gradient(90deg,#4040ee,#4949ee 8%,#5252ee 12%,#5e5eee 15%,#7878ee 20%,#9898ee 25%,#eeeeee 35.6%,#ee9a9a 45%,#ee6d6d 51%,#ee3e3e 59%,#ee1d1d 67%,#ee0d0d 74%,#ee0c0c 79%,#ee1d1d 90%,#ee3939)"></i><i style="background:linear-gradient(90deg,#4141ee,#4c4cee 9%,#5353ee 12%,#5e5eee 15%,#7979ee 20%,#9999ee 25%,#eeeeee 35.5%,#ee9999 45%,#ee6c6c 51%,#ee3c3c 59%,#ee1b1b 67%,#ee0c0c 74%,#ee0b0b 79%,#ee1c1c 90%,#ee3838)"></i><i style="background:linear-gradient(90deg,#4242ee,#4d4dee 9%,#5353ee 12%,#5f5fee 15%,#7979ee 20%,#9a9aee 25%,#eeeeee 35.4%,#ee9797 45%,#ee6a6a 51%,#ee3b3b 59%,#ee1a1a 67%,#ee0a0a 74%,#ee0909 79%,#ee1a1a 90%,#ee3636)"></i><i style="background:linear-gradient(90deg,#4343ee,#4e4eee 9%,#5454ee 12%,#6060ee 15%,#7a7aee 20%,#9b9bee 25%,#eeeeee 35.3%,#ee9595 45%,#ee6868 51%,#ee3939 59%,#ee1818 67%,#ee0909 74%,#ee0808 79%,#ee1919 90%,#ee3535)"></i><i style="background:linear-gradient(90deg,#4444ee,#4e4eee 9%,#5555ee 12%,#6060ee 15%,#7b7bee 20%,#9b9bee 25%,#eeeeee 35.2%,#ee9494 45%,#ee6767 51%,#ee3838 59%,#ee1717 67%,#ee0808 74%,#ee0707 79%,#ee1818 90%,#ee3333)"></i><i style="background:linear-gradient(90deg,#4545ee,#4f4fee 9%,#5555ee 12%,#6161ee 15%,#7b7bee 20%,#9c9cee 25%,#eeeeee 35.1%,#ee9393 45%,#ee6565 51%,#ee3737 59%,#ee1616 67%,#ee0707 74%,#ee0606 79%,#ee1717 90%,#ee3232)"></i><i style="background:linear-gradient(90deg,#4545ee,#4f4fee 9%,#5656ee 12%,#6161ee 15%,#7c7cee 20%,#9d9dee 25%,#eeeeee 35%,#ee9292 45%,#ee6464 51%,#ee3636 59%,#ee1515 67%,#ee0505 74%,#ee0505 79%,#ee1616 90%,#ee3131)"></i><i style="background:linear-gradient(90deg,#4646ee,#5050ee 9%,#5656ee 12%,#6262ee 15%,#7c7cee 20%,#9d9dee 25%,#eeeeee 34.9%,#ee9090 45%,#ee6363 51%,#ee3535 59%,#ee1414 67%,#ee0505 74%,#ee0404 79%,#ee1515 90%,#ee3030)"></i><i style="background:linear-gradient(90deg,#4646ee,#5050ee 9%,#5757ee 12%,#6262ee 15%,#7d7dee 20%,#9e9eee 25%,#eeeeee 34.8%,#ee9090 45%,#ee6262 51%,#ee3434 59%,#ee1313 67%,#ee0404 74%,#ee0303 79%,#ee1414 90%,#ee2f2f)"></i><i style="background:linear-gradient(90deg,#4747ee,#5151ee 9%,#5757ee 12%,#6363ee 15%,#7d7dee 20%,#9e9eee 25%,#eeeeee 34.8%,#ee8f8f 45%,#ee6161 51%,#ee3838 58%,#ee1212 67%,#ee0303 74%,#ee0202 79%,#ee1313 90%,#ee2f2f)"></i><i style="background:linear-gradient(90deg,#4747ee,#5151ee 9%,#5757ee 12%,#6363ee 15%,#7d7dee 20%,#9e9eee 25%,#eeeeee 34.7%,#ee8e8e 45%,#ee6060 51%,#ee3737 58%,#ee1212 67%,#ee0202 74%,#ee0202 79%,#ee1313 90%,#ee2e2e)"></i><i style="background:linear-gradient(90deg,#4747ee,#5151ee 9%,#5757ee 12%,#6363ee 15%,#7e7eee 20%,#9e9eee 25%,#eeeeee 34.7%,#ee8e8e 45%,#ee6060 51%,#ee3737 58%,#ee1111 67%,#ee0202 74%,#ee0101 79%,#ee1212 90%,#ee2e2e)"></i><i style="background:linear-gradient(90deg,#4848ee,#5151ee 9%,#5858ee 12%,#6363ee 15%,#7e7eee 20%,#9f9fee 25%,#eeeeee 34.7%,#ee8d8d 45%,#ee5f5f 51%,#ee3737 58%,#ee1111 67%,#ee0202 74%,#ee0101 79%,#ee1212 90%,#ee2d2d)"></i><i style="background:linear-gradient(90deg,#4747ee,#5151ee 9%,#5757ee 12%,#6363ee 15%,#7e7eee 20%,#9e9eee 25%,#eeeeee 34.7%,#ee8e8e 45%,#ee6060 51%,#ee3737 58%,#ee1111 67%,#ee0202 74%,#ee0101 79%,#ee1212 90%,#ee2e2e)"></i><i style="background:linear-gradient(90deg,#4747ee,#5151ee 9%,#5757ee 12%,#6363ee 15%,#7d7dee 20%,#9e9eee 25%,#eeeeee 34.7%,#ee8e8e 45%,#ee6060 51%,#ee3737 58%,#ee1212 67%,#ee0202 74%,#ee0202 79%,#ee1313 90%,#ee2e2e)"></i><i style="background:linear-gradient(90deg,#4747ee,#5151ee 9%,#5757ee 12%,#6363ee 15%,#7d7dee 20%,#9e9eee 25%,#eeeeee 34.8%,#ee8f8f 45%,#ee6161 51%,#ee3838 58%,#ee1212 67%,#ee0303 74%,#ee0202 79%,#ee1313 90%,#ee2f2f)"></i><i style="background:linear-gradient(90deg,#4646ee,#5050ee 9%,#5656ee 12%,#6262ee 15%,#7d7dee 20%,#9e9eee 25%,#eeeeee 34.8%,#ee8f8f 45%,#ee6262 51%,#ee3434 59%,#ee1313 67%,#ee0404 74%,#ee0303 79%,#ee1414 90%,#ee2f2f)"></i><i style="background:linear-gradient(90deg,#4545ee,#5050ee 9%,#5656ee 12%,#6262ee 15%,#7c7cee 20%,#9d9dee 25%,#eeeeee 34.9%,#ee9090 45%,#ee6363 51%,#ee3535 59%,#ee1414 67%,#ee0505 74%,#ee0404 79%,#ee1515 90%,#ee3030)"></i><i style="background:linear-gradient(90deg,#4545ee,#4f4fee 9%,#5555ee 12%,#6161ee 15%,#7c7cee 20%,#9d9dee 25%,#eeeeee 35%,#ee9191 45%,#ee6464 51%,#ee3636 59%,#ee1515 67%,#ee0606 74%,#ee0505 79%,#ee1616 90%,#ee3131)"></i><i style="background:linear-gradient(90deg,#4444ee,#4e4eee 9%,#5555ee 12%,#6060ee 15%,#7b7bee 20%,#9c9cee 25%,#eeeeee 35%,#ee9393 45%,#ee6565 51%,#ee3737 59%,#ee1616 67%,#ee0707 74%,#ee0606 79%,#ee1717 90%,#ee3333)"></i><i style="background:linear-gradient(90deg,#4343ee,#4d4dee 9%,#5454ee 12%,#6060ee 15%,#7a7aee 20%,#9b9bee 25%,#eeeeee 35.1%,#ee9494 45%,#ee6767 51%,#ee3838 59%,#ee1717 67%,#ee0808 74%,#ee0707 79%,#ee1818 90%,#ee3434)"></i><i style="background:linear-gradient(90deg,#4242ee,#4b4bee 8%,#5353ee 12%,#5f5fee 15%,#7a7aee 20%,#9b9bee 25%,#eeeeee 35.2%,#ee9595 45%,#ee6868 51%,#ee3939 59%,#ee1818 67%,#ee0909 74%,#ee0808 79%,#ee1919 90%,#ee3636)"></i><i style="background:linear-gradient(90deg,#4141ee,#4a4aee 8%,#5252ee 12%,#5e5eee 15%,#7979ee 20%,#9a9aee 25%,#eeeeee 35.3%,#ee9797 45%,#ee6a6a 51%,#ee3b3b 59%,#ee1a1a 67%,#ee0b0b 74%,#ee0a0a 79%,#ee1b1b 90%,#ee3737)"></i><i style="background:linear-gradient(90deg,#4040ee,#4949ee 8%,#5252ee 12%,#5d5dee 15%,#7878ee 20%,#9999ee 25%,#eeeeee 35.4%,#ee9898 45%,#ee6b6b 51%,#ee3c3c 59%,#ee1b1b 67%,#ee0c0c 74%,#ee0c0c 80%,#ee1f1f 91%,#ee3939)"></i><i style="background:linear-gradient(90deg,#3e3eee,#4848ee 8%,#5151ee 12%,#5c5cee 15%,#7777ee 20%,#9898ee 25%,#eeeeee 35.5%,#ee9a9a 45%,#ee6d6d 51%,#ee3e3e 59%,#ee1d1d 67%,#ee0e0e 74%,#ee0e0e 80%,#ee2020 91%,#ee3b3b)"></i><i style="background:linear-gradient(90deg,#3d3dee,#4141ee 5%,#4b4bee 10%,#5353ee 13%,#6060ee 16%,#7c7cee 21%,#9f9fee 26%,#eeeeee 35.6%,#ee9c9c 45%,#ee6f6f 51%,#ee4040 59%,#ee1f1f 67%,#ee0f0f 74%,#ee0f0f 80%,#ee2222 91%,#ee3c3c)"></i><i style="background:linear-gradient(90deg,#3c3cee,#4040ee 5%,#4a4aee 10%,#5252ee 13%,#5f5fee 16%,#7b7bee 21%,#9e9eee 26%,#eeeeee 35.8%,#ee9e9e 45%,#ee6b6b 52%,#ee4242 59%,#ee2020 67%,#ee1111 74%,#ee1111 80%,#ee2424 91%,#ee3e3e)"></i><i style="background:linear-gradient(90deg,#3a3aee,#3f3fee 5%,#4949ee 10%,#5151ee 13%,#5e5eee 16%,#7a7aee 21%,#9d9dee 26%,#eeeeee 35.9%,#ee9898 46%,#ee6666 53%,#ee3f3f 60%,#ee1f1f 68%,#ee1212 75%,#ee1313 80%,#ee2525 91%,#ee4040)"></i><i style="background:linear-gradient(90deg,#3939ee,#4545ee 9%,#5050ee 13%,#5d5dee 16%,#7979ee 21%,#9c9cee 26%,#eeeeee 36.1%,#ee9a9a 46%,#ee6969 53%,#ee4141 60%,#ee2121 68%,#ee1414 75%,#ee1515 80%,#ee2727 91%,#ee4343)"></i><i style="background:linear-gradient(90deg,#3737ee,#4444ee 9%,#4f4fee 13%,#5c5cee 16%,#7878ee 21%,#9b9bee 26%,#eeeeee 36.2%,#ee9c9c 46%,#ee6b6b 53%,#ee4343 60%,#ee2323 68%,#ee1616 75%,#ee1717 80%,#ee2929 91%,#ee4545)"></i><i style="background:linear-gradient(90deg,#3636ee,#4343ee 9%,#4d4dee 13%,#5b5bee 16%,#7777ee 21%,#9a9aee 26%,#eeeeee 36.4%,#ee9e9e 46%,#ee6767 54%,#ee4545 60%,#ee2525 68%,#ee1818 75%,#ee1919 80%,#ee2c2c 91%,#ee4747)"></i><i style="background:linear-gradient(90deg,#3434ee,#4141ee 9%,#4c4cee 13%,#5959ee 16%,#7676ee 21%,#9898ee 26%,#eeeeee 36.5%,#eea1a1 46%,#ee6a6a 54%,#ee4747 60%,#ee2828 68%,#ee1a1a 75%,#ee1b1b 80%,#ee2e2e 91%,#ee4a4a)"></i><i style="background:linear-gradient(90deg,#3333ee,#4040ee 9%,#4b4bee 13%,#5858ee 16%,#7575ee 21%,#9797ee 26%,#eeeeee 36.7%,#eea3a3 46%,#ee6666 55%,#ee4545 61%,#ee2a2a 68%,#ee1c1c 75%,#ee1d1d 80%,#ee3030 91%,#ee4c4c)"></i><i style="background:linear-gradient(90deg,#3131ee,#3e3eee 9%,#4a4aee 13%,#5757ee 16%,#7373ee 21%,#9696ee 26%,#eeeeee 36.9%,#eea6a6 46%,#ee6969 55%,#ee4747 61%,#ee2c2c 68%,#ee1f1f 75%,#ee2020 80%,#ee3232 91%,#ee4f4f)"></i><i style="background:linear-gradient(90deg,#2f2fee,#3d3dee 9%,#4848ee 13%,#5555ee 16%,#6c6cee 20%,#9595ee 26%,#eeeeee 37.1%,#eea1a1 47%,#ee5f5f 57%,#ee3c3c 64%,#ee2c2c 69%,#ee2121 75%,#ee2323 81%,#ee3535 91%,#ee5151)"></i><i style="background:linear-gradient(90deg,#2d2dee,#3b3bee 9%,#4747ee 13%,#5454ee 16%,#6b6bee 20%,#9393ee 26%,#eeeeee 37.3%,#eea4a4 47%,#ee6262 57%,#ee3f3f 64%,#ee2f2f 69%,#ee2323 75%,#ee2626 81%,#ee3737 91%,#ee5454)"></i><i style="background:linear-gradient(90deg,#2b2bee,#3a3aee 9%,#4545ee 13%,#5252ee 16%,#6969ee 20%,#9292ee 26%,#eeeeee 37.6%,#eea6a6 47%,#ee6464 57%,#ee4646 63%,#ee3131 69%,#ee2626 75%,#ee2828 81%,#ee3a3a 91%,#ee5757)"></i><i style="background:linear-gradient(90deg,#2929ee,#3535ee 8%,#4040ee 12%,#5151ee 16%,#6868ee 20%,#9191ee 26%,#eeeeee 37.8%,#eea9a9 47%,#ee6161 58%,#ee4444 64%,#ee3434 69%,#ee2929 75%,#ee2b2b 81%,#ee3c3c 91%,#ee5a5a)"></i><i style="background:linear-gradient(90deg,#2727ee,#3434ee 8%,#3f3fee 12%,#4f4fee 16%,#6666ee 20%,#8f8fee 26%,#eeeeee 38.1%,#eeacac 47%,#ee6464 58%,#ee4747 64%,#ee3636 69%,#ee2b2b 75%,#ee2d2d 81%,#ee3f3f 91%,#ee5d5d)"></i><i style="background:linear-gradient(90deg,#2525ee,#3232ee 8%,#3d3dee 12%,#4e4eee 16%,#6565ee 20%,#8e8eee 26%,#eeeeee 38.3%,#eeafaf 47%,#ee6767 58%,#ee4a4a 64%,#ee3939 69%,#ee2e2e 75%,#ee3030 81%,#ee4242 91%,#ee6060)"></i><i style="background:linear-gradient(90deg,#2323ee,#3030ee 8%,#3c3cee 12%,#4c4cee 16%,#6363ee 20%,#8c8cee 26%,#eeeeee 38.6%,#eeb3b3 47%,#ee6464 59%,#ee4848 65%,#ee3939 70%,#ee3030 76%,#ee3434 82%,#ee4545 91%,#ee6363)"></i><i style="background:linear-gradient(90deg,#2121ee,#2e2eee 8%,#4a4aee 16%,#6262ee 20%,#8b8bee 26%,#eeeeee 38.9%,#ee6767 59%,#ee4b4b 65%,#ee3c3c 70%,#ee3333 76%,#ee3737 82%,#ee4848 91%,#ee6666)"></i><i style="background:linear-gradient(90deg,#1e1eee,#2c2cee 8%,#4949ee 16%,#6060ee 20%,#8989ee 26%,#eeeeee 39.3%,#ee6a6a 59%,#ee4e4e 65%,#ee3f3f 70%,#ee3636 76%,#ee3a3a 82%,#ee4b4b 91%,#ee6969)"></i><i style="background:linear-gradient(90deg,#1c1cee,#2a2aee 8%,#4747ee 16%,#5e5eee 20%,#8888ee 26%,#c6c6ee 34%,#eeeeee 39.6%,#ee6d6d 59%,#ee5151 65%,#ee4242 70%,#ee3939 76%,#ee3d3d 82%,#ee4e4e 91%,#ee6d6d)"></i><i style="background:linear-gradient(90deg,#1a1aee,#2828ee 8%,#4545ee 16%,#5d5dee 20%,#8686ee 26%,#c5c5ee 34%,#eeeeee 40%,#ee6b6b 60%,#ee5151 66%,#ee4343 71%,#ee3c3c 76%,#ee4141 83%,#ee5353 92%,#ee7070)"></i><i style="background:linear-gradient(90deg,#1717ee,#2626ee 8%,#4343ee 16%,#6f6fee 23%,#c3c3ee 34%,#eeeeee 40.4%,#ee6e6e 60%,#ee5454 66%,#ee4646 71%,#ee3f3f 76%,#ee4444 83%,#ee5757 92%,#ee7474)"></i><i style="background:linear-gradient(90deg,#1515ee,#2121ee 7%,#4242ee 16%,#6767ee 22%,#c8c8ee 35%,#eeeeee 40.9%,#ee7272 60%,#ee5757 66%,#ee4747 72%,#ee4242 77%,#ee4b4b 85%,#ee5a5a 92%,#ee7777)"></i><i style="background:linear-gradient(90deg,#1313ee,#1f1fee 7%,#4040ee 16%,#6565ee 22%,#c6c6ee 35%,#eeeeee 41.3%,#ee7575 60%,#ee5a5a 66%,#ee4b4b 72%,#ee4545 77%,#ee4e4e 85%,#ee5d5d 92%,#ee7b7b)"></i><i style="background:linear-gradient(90deg,#1010ee,#1d1dee 7%,#3e3eee 16%,#7f7fee 26%,#c4c4ee 35%,#eeeeee 41.8%,#ee7878 60%,#ee5e5e 66%,#ee4e4e 72%,#ee4949 77%,#ee5151 85%,#ee6060 92%,#ee7e7e)"></i><i style="background:linear-gradient(90deg,#0d0dee,#1b1bee 7%,#3c3cee 16%,#7d7dee 26%,#c2c2ee 35%,#eeeeee 42.4%,#eeb3b3 52%,#ee7c7c 60%,#ee6161 66%,#ee5151 72%,#ee4c4c 77%,#ee5555 85%,#ee6464 92%,#ee8282)"></i><i style="background:linear-gradient(90deg,#0b0bee,#1818ee 7%,#3a3aee 16%,#7c7cee 26%,#c0c0ee 35%,#eeeeee 42.9%,#eeb7b7 52%,#ee7a7a 61%,#ee6161 67%,#ee5353 73%,#ee5050 79%,#ee5e5e 88%,#ee6b6b 93%,#ee8686)"></i></div><div class="hm hh" style="left:725px;top:186px;width:202px;height:81px"><i style="background:linear-gradient(90deg,#d2ee1c,#daee14 3%,#eeee00 6.35%,#eede00 9%,#eebc00 13%,#ee1500 31%,#ee0000 33.7%,#e20000 36%,#d90000 39%,#d20000 49%,#d70000 53%,#e00000 55%,#ee0000 56.7%,#ee2000 59%,#ee7900 64%,#eeee00 71%,#42eead 81%,#00eeee 84.4%,#0000ee 95%,#00008f)"></i><i style="background:linear-gradient(90deg,#caee24,#d0ee1f 3%,#eeee00 8.03%,#eecd00 12%,#ee1700 31%,#ee0000 33.8%,#de0000 37%,#d60000 40%,#ce0000 50%,#d60000 54%,#e20000 56%,#ee0000 57.2%,#ee2a00 60%,#eeee00 71.6%,#4ceea3 81%,#00eeee 84.8%,#0049ee 92%,#0000ee 95.4%,#000097)"></i><i style="background:linear-gradient(90deg,#c2ee2d,#c2ee2c 2%,#c9ee25 4%,#eeee00 9.24%,#ee1900 31%,#ee0000 34%,#de0000 37%,#d50000 40%,#ca0000 50%,#d20000 54%,#de0000 56%,#ee0000 57.6%,#ee2300 60%,#eeee00 72.2%,#56ee99 81%,#00eeee 85.2%,#0051ee 92%,#0000ee 95.8%,#0000a0)"></i><i style="background:linear-gradient(90deg,#baee35,#b8ee37 2%,#bdee31 4%,#d1ee1d 7%,#eeee00 10.2%,#ee1c00 31%,#ee0000 34.1%,#de0000 37%,#d30000 40%,#c70000 50%,#ca0000 53%,#d20000 55%,#ee0000 58%,#ee1c00 60%,#ee8c00 67%,#eeee00 72.8%,#60ee8e 81%,#3aeeb5 83%,#00eeee 85.6%,#0059ee 92%,#0000ee 96.3%,#0000a9)"></i><i style="background:linear-gradient(90deg,#b2ee3d,#aeee41 2%,#b1ee3e 4%,#c6ee28 7%,#eeee00 11%,#ee0b00 33%,#ee0000 34.3%,#d50000 39%,#c40000 48%,#c40000 52%,#ce0000 55%,#de0000 57%,#ee0000 58.4%,#ee8200 67%,#eeee00 73.4%,#6bee84 81%,#43eeab 83%,#00eeee 86%,#0062ee 92%,#0000ee 96.7%,#0000b3)"></i><i style="background:linear-gradient(90deg,#aaee44,#a3ee4c 3%,#aaee44 5%,#bcee33 7%,#eeee00 11.8%,#ee2100 31%,#ee0000 34.4%,#dd0000 37%,#d10000 40%,#c00000 50%,#c30000 53%,#ca0000 55%,#d90000 57%,#ee0000 58.9%,#ee7800 67%,#eeee00 74%,#76ee79 81%,#38eeb7 84%,#00eeee 86.4%,#006aee 92%,#0000ee 97.2%,#0000bc)"></i><i style="background:linear-gradient(90deg,#a3ee4b,#98ee56 3%,#9eee50 5%,#b1ee3d 7%,#eeee00 12.4%,#ee6800 25%,#ee1800 32%,#ee0000 34.6%,#dd0000 37%,#cf0000 40%,#c30000 45%,#bc0000 50%,#bf0000 53%,#c70000 55%,#d50000 57%,#ee0000 59.4%,#ee6d00 67%,#eeee00 74.6%,#80ee6e 81%,#41eead 84%,#00eeee 86.7%,#005cee 93%,#0000ee 97.7%,#0000c6)"></i><i style="background:linear-gradient(90deg,#9cee52,#8eee60 3%,#8eee61 4%,#93ee5b 5%,#a7ee47 7%,#eeee00 13.1%,#ee6d00 25%,#ee1a00 32%,#ee0000 34.7%,#ec0000 35%,#d70000 38%,#ca0000 41%,#bc0000 47%,#b90000 51%,#bf0000 54%,#c90000 56%,#d90000 58%,#ee0000 59.9%,#ee6300 67%,#eeee00 75.3%,#8bee63 81%,#4beea4 84%,#00eeee 87.1%,#007bee 92%,#0016ee 97%,#0000ee 98.2%,#0000cf)"></i><i style="background:linear-gradient(90deg,#96ee58,#85ee6a 3%,#83ee6b 4%,#89ee65 5%,#9eee50 7%,#eeee00 13.6%,#ee7200 25%,#ee1d00 32%,#ec0000 35%,#d70000 38%,#c90000 41%,#b90000 47%,#b60000 51%,#bb0000 54%,#c50000 56%,#d50000 58%,#ee0000 60.4%,#ee2d00 64%,#ee5800 67%,#eeee00 75.9%,#a9ee45 80%,#81ee6d 82%,#54ee9a 84%,#00eeee 87.4%,#0083ee 92%,#0031ee 96%,#0000ee 98.7%,#0000d8)"></i><i style="background:linear-gradient(90deg,#91ee5e,#7dee71 3%,#7bee74 4%,#80ee6e 5%,#96ee59 7%,#eeee00 14.2%,#ee8200 24%,#ee1f00 32%,#ee0000 34.9%,#d60000 38%,#c70000 41%,#b70000 47%,#b30000 51%,#b80000 54%,#c10000 56%,#d00000 58%,#ee0000 61%,#ee2400 64%,#ee4e00 67%,#eeee00 76.6%,#b4ee3a 80%,#8cee62 82%,#00eeee 87.8%,#008bee 92%,#004dee 95%,#0000ee 99.3%,#0000e2)"></i><i style="background:linear-gradient(90deg,#8cee62,#77ee78 3%,#74ee7a 4%,#79ee75 5%,#8eee60 7%,#eeee00 14.8%,#ee7c00 25%,#ee2100 32%,#ee0000 35%,#d60000 38%,#c20000 42%,#b40000 47%,#b00000 51%,#b50000 54%,#be0000 56%,#d40000 59%,#ee0000 61.6%,#ee2700 65%,#ee4300 67%,#eeee00 77.3%,#bfee2f 80%,#97ee58 82%,#00eeee 88.1%,#00a9ee 91%,#0069ee 94%,#001eee 98%,#0000ee 99.8%,#0000ea)"></i><i style="background:linear-gradient(90deg,#88ee67,#72ee7c 3%,#6fee7f 4%,#74ee7b 5%,#88ee67 7%,#eeee00 15.3%,#ee8100 25%,#ee0b00 34%,#ee0000 35%,#e50000 36%,#cf0000 39%,#c00000 42%,#b10000 47%,#ad0000 51%,#b20000 54%,#c00000 57%,#ce0000 59%,#ee0000 62.3%,#ee1e00 65%,#ee3900 67%,#eeee00 77.9%,#caee24 80%,#a1ee4d 82%,#00eeee 88.5%,#00b1ee 91%,#0071ee 94%,#0004ee)"></i><i style="background:linear-gradient(90deg,#84ee6b,#6eee80 3%,#6cee83 4%,#6fee7f 5%,#82ee6d 7%,#eeee00 15.8%,#ee8500 25%,#ee2600 32%,#ee0000 35.1%,#d50000 38%,#be0000 42%,#ae0000 47%,#aa0000 51%,#af0000 54%,#bc0000 57%,#d20000 60%,#ee0000 63.1%,#ee2100 66%,#ee3f00 68%,#eeee00 78.6%,#d5ee19 80%,#abee43 82%,#00eeee 88.8%,#00b9ee 91%,#0079ee 94%,#000cee)"></i><i style="background:linear-gradient(90deg,#80ee6e,#6bee83 3%,#69ee86 4%,#6cee83 5%,#7dee72 7%,#eeee00 16.3%,#ee8a00 25%,#ee1b00 33%,#ee0000 35.2%,#d40000 38%,#bd0000 42%,#ac0000 47%,#a70000 51%,#ac0000 54%,#b80000 57%,#cc0000 60%,#ee0000 63.8%,#ee1800 66%,#ee3500 68%,#eeee00 79.2%,#b6ee39 82%,#00eeee 89.1%,#00c1ee 91%,#0081ee 94%,#0014ee)"></i><i style="background:linear-gradient(90deg,#7dee72,#68ee86 3%,#66ee88 4%,#6fee7f 6%,#84ee6b 8%,#eeee00 16.8%,#ee8f00 25%,#ee1c00 33%,#ee0000 35.2%,#d40000 38%,#bb0000 42%,#aa0000 47%,#a40000 51%,#a90000 54%,#ba0000 58%,#ce0000 61%,#ee0000 64.6%,#ee0f00 66%,#ee2c00 68%,#eeee00 79.7%,#d6ee18 81%,#a7ee47 83%,#00eeee 89.4%,#00b2ee 92%,#0089ee 94%,#001bee)"></i><i style="background:linear-gradient(90deg,#79ee75,#66ee89 3%,#63ee8b 4%,#6cee83 6%,#7fee6f 8%,#eeee00 17.3%,#ee9400 25%,#ee1e00 33%,#ee0000 35.3%,#d30000 38%,#ba0000 42%,#a70000 47%,#a20000 51%,#a60000 54%,#b60000 58%,#d10000 62%,#ee0000 65.3%,#ee2300 68%,#eeee00 80.3%,#b0ee3e 83%,#00eeee 89.7%,#0090ee 94%,#0022ee)"></i><i style="background:linear-gradient(90deg,#75ee7a,#63ee8c 3%,#61ee8e 4%,#68ee86 6%,#7bee73 8%,#eeee00 17.8%,#ee9800 25%,#ee6e00 28%,#ee2000 33%,#ee0000 35.3%,#d30000 38%,#b80000 42%,#a50000 47%,#9f0000 51%,#a30000 54%,#b20000 58%,#cb0000 62%,#ee0000 66%,#ee2b00 69%,#ee8000 74%,#eecf00 79%,#eeee00 80.7%,#b9ee35 83%,#00eeee 90%,#0098ee 94%,#0028ee)"></i><i style="background:linear-gradient(90deg,#6fee7f,#5fee8f 3%,#5eee91 4%,#65ee89 6%,#78ee77 8%,#eeee00 18.3%,#eec300 22%,#ee8f00 26%,#ee2100 33%,#ee0000 35.4%,#d20000 38%,#b70000 42%,#a30000 47%,#9c0000 51%,#a30000 55%,#b30000 59%,#d50000 64%,#ee0000 66.6%,#ee2400 69%,#ee7800 74%,#eec600 79%,#eeee00 81.2%,#c2ee2d 83%,#00eeee 90.4%,#009fee 94%,#002fee)"></i><i style="background:linear-gradient(90deg,#69ee85,#5cee93 3%,#5bee94 4%,#62ee8c 6%,#74ee7a 8%,#eeee00 18.7%,#eebb00 23%,#ee9300 26%,#ee2300 33%,#ee0000 35.4%,#d20000 38%,#b60000 42%,#a10000 47%,#9a0000 51%,#9f0000 55%,#af0000 59%,#cf0000 64%,#ee0000 67.1%,#eebe00 79%,#eeee00 81.5%,#00eeee 90.7%,#0092ee 95%,#0035ee)"></i><i style="background:linear-gradient(90deg,#63ee8b,#58ee96 3%,#5aee95 5%,#5fee8f 6%,#71ee7e 8%,#eeee00 19.1%,#eec000 23%,#ee9700 26%,#ee6900 29%,#ee2400 33%,#ee0000 35.4%,#c90000 39%,#b00000 43%,#9c0000 48%,#970000 52%,#9f0000 56%,#b10000 60%,#d30000 65%,#ee0000 67.5%,#eeb600 79%,#eeee00 81.8%,#00eeee 91%,#0099ee 95%,#003bee)"></i><i style="background:linear-gradient(90deg,#5cee92,#54ee9b 3%,#57ee98 5%,#5cee92 6%,#6eee81 8%,#eeee00 19.5%,#eec400 23%,#ee8c00 27%,#ee2600 33%,#ee0000 35.4%,#c90000 39%,#ae0000 43%,#9a0000 48%,#950000 52%,#9c0000 56%,#b30000 61%,#ce0000 65%,#ee0000 67.9%,#eeb000 79%,#eed500 81%,#eeee00 82.1%,#3aeeb4 89%,#00eeee 91.3%,#009fee 95%,#0041ee)"></i><i style="background:linear-gradient(90deg,#56ee99,#4fee9f 3%,#53ee9b 5%,#59ee96 6%,#6aee84 8%,#eeee00 19.9%,#eec800 23%,#ee9000 27%,#ee1600 34%,#ee0000 35.5%,#db0000 37%,#c80000 39%,#ad0000 43%,#980000 48%,#920000 52%,#990000 56%,#b00000 61%,#cb0000 65%,#ee0000 68.2%,#eea900 79%,#eecf00 81%,#eeee00 82.4%,#00eeee 91.6%,#00a5ee 95%,#0047ee)"></i><i style="background:linear-gradient(90deg,#4feea0,#4beea4 3%,#55ee99 6%,#67ee88 8%,#eeee00 20.3%,#eebf00 24%,#ee9300 27%,#ee7200 29%,#ee1700 34%,#ee0000 35.5%,#db0000 37%,#c80000 39%,#ad0000 43%,#960000 48%,#900000 52%,#960000 56%,#ad0000 61%,#c70000 65%,#db0000 67%,#ee0000 68.5%,#eea300 79%,#eec900 81%,#eeee00 82.7%,#00eeee 91.9%,#00abee 95%,#004cee)"></i><i style="background:linear-gradient(90deg,#48eea7,#46eea9 3%,#51ee9d 6%,#63ee8b 8%,#eeee00 20.6%,#eec200 24%,#ee8600 28%,#ee2a00 33%,#ee0000 35.5%,#db0000 37%,#c80000 39%,#ac0000 43%,#950000 48%,#8d0000 52%,#930000 56%,#aa0000 61%,#c40000 65%,#d70000 67%,#ee0000 68.9%,#ee2e00 72%,#ee9e00 79%,#eec300 81%,#eeee00 82.9%,#00eeee 92.2%,#00b1ee 95%,#0051ee)"></i><i style="background:linear-gradient(90deg,#41eeae,#40eeae 3%,#4eeea1 6%,#60ee8f 8%,#eeee00 20.9%,#eeb700 25%,#ee8900 28%,#ee1900 34%,#ee0000 35.6%,#c80000 39%,#ab0000 43%,#930000 48%,#8b0000 52%,#900000 56%,#ae0000 62%,#ca0000 66%,#ee0000 69.2%,#ee3800 73%,#ee9900 79%,#eebe00 81%,#eeee00 83.2%,#00eeee 92.5%,#00a2ee 96%,#0056ee)"></i><i style="background:linear-gradient(90deg,#3aeeb5,#3beeb3 3%,#4aeea5 6%,#5cee92 8%,#eeee00 21.2%,#eeba00 25%,#ee8b00 28%,#ee1a00 34%,#ee0000 35.6%,#c80000 39%,#ab0000 43%,#8e0000 49%,#880000 53%,#920000 57%,#b20000 63%,#c80000 66%,#ee0000 69.5%,#ee3300 73%,#ee9400 79%,#eeb900 81%,#eeee00 83.5%,#00eeee 92.7%,#00a6ee 96%,#005bee)"></i><i style="background:linear-gradient(90deg,#33eebb,#36eeb9 3%,#45eea9 6%,#baee34 17%,#eeee00 21.5%,#eebd00 25%,#ee8d00 28%,#ee1b00 34%,#ee0000 35.7%,#c80000 39%,#aa0000 43%,#8d0000 49%,#860000 53%,#8f0000 57%,#b10000 63%,#cf0000 67%,#ee0000 69.7%,#ee2f00 73%,#ee9000 79%,#eeb400 81%,#eeee00 83.7%,#b6ee39 86%,#2feebf 91%,#00eeee 92.9%,#00abee 96%,#005fee)"></i><i style="background:linear-gradient(90deg,#2ceec2,#30eebe 3%,#41eead 6%,#b7ee37 17%,#eeee00 21.7%,#ee9f00 27%,#ee1c00 34%,#ee0000 35.7%,#eb0000 36%,#c80000 39%,#a40000 44%,#8b0000 49%,#840000 53%,#8d0000 57%,#af0000 63%,#cd0000 67%,#ee0000 70%,#ee3a00 74%,#ee8c00 79%,#eec400 82%,#eeee00 83.9%,#bcee33 86%,#35eeba 91%,#00eeee 93.1%,#00afee 96%,#0064ee)"></i><i style="background:linear-gradient(90deg,#25eec9,#2aeec4 3%,#3deeb2 6%,#b4ee3b 17%,#eeee00 21.9%,#eea100 27%,#ee1d00 34%,#ee0000 35.8%,#c90000 39%,#aa0000 43%,#8a0000 49%,#820000 53%,#8b0000 57%,#b50000 64%,#cb0000 67%,#ee0000 70.2%,#ee3700 74%,#ee8900 79%,#eec000 82%,#eeee00 84.2%,#c2ee2d 86%,#39eeb5 91%,#00eeee 93.3%,#00b2ee 96%,#0068ee)"></i><i style="background:linear-gradient(90deg,#1eeed0,#25eeca 3%,#38eeb6 6%,#bcee32 18%,#eeee00 22.1%,#eea300 27%,#ee1e00 34%,#ee0000 35.9%,#c90000 39%,#aa0000 43%,#890000 49%,#7f0000 53%,#820000 55%,#8a0000 57%,#b40000 64%,#c90000 67%,#ee0000 70.4%,#ee3300 74%,#ee8600 79%,#eebc00 82%,#eeee00 84.4%,#adee41 87%,#3eeeb1 91%,#00eeee 93.4%,#00b6ee 96%,#006bee)"></i><i style="background:linear-gradient(90deg,#18eed7,#1feecf 3%,#34eeba 6%,#baee35 18%,#eeee00 22.2%,#eea400 27%,#ee1f00 34%,#ee0000 35.9%,#c90000 39%,#aa0000 43%,#870000 49%,#7e0000 53%,#800000 55%,#880000 57%,#b90000 65%,#d10000 68%,#ee0000 70.6%,#ee3100 74%,#ee9400 80%,#eecc00 83%,#eeee00 84.6%,#b2ee3c 87%,#42eead 91%,#00eeee 93.5%,#00b8ee 96%,#006fee)"></i><i style="background:linear-gradient(90deg,#11eedd,#19eed5 3%,#30eebf 6%,#b7ee37 18%,#eeee00 22.4%,#eea600 27%,#ee3300 33%,#ee0000 36%,#ca0000 39%,#aa0000 43%,#860000 49%,#7c0000 53%,#7e0000 55%,#870000 57%,#b90000 65%,#d00000 68%,#ee0000 70.8%,#ee2e00 74%,#ee9200 80%,#eec800 83%,#eeee00 84.8%,#b7ee37 87%,#29eec5 92%,#00eeee 93.6%,#00bbee 96%,#0072ee)"></i><i style="background:linear-gradient(90deg,#0beee4,#14eedb 3%,#2beec3 6%,#b5ee39 18%,#eeee00 22.5%,#eea700 27%,#ee3400 33%,#ee0000 36%,#ca0000 39%,#aa0000 43%,#860000 49%,#7a0000 53%,#7c0000 55%,#850000 57%,#bf0000 66%,#d80000 69%,#ee0000 71%,#ee2c00 74%,#eea100 81%,#eec500 83%,#eeee00 85%,#bbee33 87%,#2ceec3 92%,#00eeee 93.7%,#00bdee 96%,#0075ee)"></i><i style="background:linear-gradient(90deg,#04eeea,#0feee0 3%,#27eec7 6%,#bfee2f 19%,#eeee00 22.6%,#eea800 27%,#ee3400 33%,#ee0000 36.1%,#ca0000 39%,#aa0000 43%,#850000 49%,#790000 53%,#7f0000 56%,#a80000 62%,#be0000 66%,#d60000 69%,#ee0000 71.1%,#ee2b00 74%,#eeb000 82%,#eeee00 85.1%,#bfee2f 87%,#2eeec1 92%,#00eeee 93.8%,#00bfee 96%,#0078ee)"></i><i style="background:linear-gradient(90deg,#00edee,#00eeee 1%,#09eee5 3%,#23eecb 6%,#bdee31 19%,#eeee00 22.7%,#eea900 27%,#ee3500 33%,#ee0000 36.1%,#cb0000 39%,#a40000 44%,#800000 50%,#780000 53%,#7a0000 55%,#830000 57%,#a80000 62%,#c50000 67%,#d60000 69%,#ee0000 71.2%,#ee2900 74%,#eeae00 82%,#eed300 84%,#eeee00 85.3%,#c3ee2c 87%,#2feebf 92%,#00eeee 93.8%,#00c0ee 96%,#007aee)"></i><i style="background:linear-gradient(90deg,#00e7ee,#00eeee 2.21%,#0ceee2 4%,#20eecf 6%,#bcee33 19%,#eeee00 22.8%,#eeaa00 27%,#ee3600 33%,#ee0000 36.1%,#cb0000 39%,#a40000 44%,#7f0000 50%,#780000 52%,#780000 55%,#830000 57%,#a90000 62%,#c40000 67%,#d50000 69%,#ee0000 71.3%,#ee2800 74%,#ee6d00 78%,#eead00 82%,#eed000 84%,#eeee00 85.4%,#c5ee29 87%,#30eebf 92%,#00eeee 93.8%,#00c1ee 96%,#007cee)"></i><i style="background:linear-gradient(90deg,#00e2ee,#00eeee 3.01%,#12eedd 5%,#baee34 19%,#eeee00 22.9%,#eeab00 27%,#ee3600 33%,#ee0000 36.1%,#cb0000 39%,#a40000 44%,#7f0000 50%,#780000 52%,#780000 55%,#820000 57%,#a90000 62%,#c40000 67%,#d40000 69%,#ee0000 71.3%,#ee1800 73%,#ee6d00 78%,#eebc00 83%,#eeee00 85.5%,#c7ee27 87%,#30eebe 92%,#00eeee 93.8%,#00c1ee 96%,#007eee)"></i><i style="background:linear-gradient(90deg,#00ddee,#00e4ee 2%,#00eeee 3.49%,#0eeee0 5%,#b9ee36 19%,#eeee00 23%,#eeac00 27%,#ee2400 34%,#ee0000 36.2%,#cb0000 39%,#a40000 44%,#7e0000 50%,#780000 52%,#770000 55%,#820000 57%,#a90000 62%,#c40000 67%,#d40000 69%,#ee0000 71.4%,#ee1800 73%,#ee6e00 78%,#eebc00 83%,#eeee00 85.5%,#c8ee26 87%,#30eebe 92%,#00eeee 93.8%,#00c1ee 96%,#007fee)"></i><i style="background:linear-gradient(90deg,#00d8ee,#00e0ee 2%,#00eeee 3.89%,#0beee3 5%,#b8ee37 19%,#eeee00 23.1%,#eead00 27%,#ee2400 34%,#ee0000 36.2%,#cb0000 39%,#a30000 44%,#7e0000 50%,#780000 52%,#780000 55%,#820000 57%,#a90000 62%,#c50000 67%,#d40000 69%,#ee0000 71.4%,#ee2800 74%,#ee7e00 79%,#eebc00 83%,#eeee00 85.5%,#c8ee26 87%,#30eebf 92%,#00eeee 93.8%,#00c1ee 96%,#0080ee)"></i><i style="background:linear-gradient(90deg,#00d4ee,#00dcee 2%,#00eeee 4.18%,#b7ee38 19%,#eeee00 23.1%,#eeae00 27%,#ee2400 34%,#ee0000 36.2%,#cb0000 39%,#a30000 44%,#7e0000 50%,#780000 52%,#780000 55%,#820000 57%,#a90000 62%,#c50000 67%,#d50000 69%,#ee0000 71.3%,#ee2900 74%,#ee7f00 79%,#eebd00 83%,#eeee00 85.5%,#c7ee27 87%,#2feebf 92%,#00eeee 93.7%,#00c1ee 96%,#0080ee)"></i><i style="background:linear-gradient(90deg,#00d0ee,#00d9ee 2%,#00eeee 4.41%,#c2ee2c 20%,#eeee00 23.2%,#eeae00 27%,#ee2400 34%,#ee0000 36.1%,#cb0000 39%,#a30000 44%,#7f0000 50%,#770000 53%,#790000 55%,#830000 57%,#a80000 62%,#c60000 67%,#d60000 69%,#ee0000 71.2%,#ee1a00 73%,#ee6f00 78%,#eebe00 83%,#eeee00 85.4%,#c5ee29 87%,#2eeec1 92%,#00eeee 93.7%,#00c0ee 96%,#0080ee)"></i><i style="background:linear-gradient(90deg,#00ccee,#00d6ee 2%,#00eeee 4.6%,#c2ee2d 20%,#eeee00 23.2%,#eeaf00 27%,#ee2500 34%,#ee0000 36.1%,#ca0000 39%,#a20000 44%,#7f0000 50%,#780000 53%,#7a0000 55%,#840000 57%,#a80000 62%,#c60000 67%,#d70000 69%,#ee0000 71.1%,#ee1b00 73%,#ee7000 78%,#eeaf00 82%,#eed300 84%,#eeee00 85.3%,#c2ee2c 87%,#2ceec2 92%,#00eeee 93.7%,#00c0ee 96%,#007fee)"></i><i style="background:linear-gradient(90deg,#00c9ee,#00d4ee 2%,#00eeee 4.73%,#78ee77 14%,#c1ee2d 20%,#eeee00 23.3%,#eeaf00 27%,#ee2500 34%,#ee0000 36.1%,#ca0000 39%,#a20000 44%,#800000 50%,#790000 53%,#7c0000 55%,#850000 57%,#c00000 66%,#d90000 69%,#ee0000 70.9%,#ee2d00 74%,#eeb100 82%,#eeee00 85.1%,#beee30 87%,#2beec4 92%,#00eeee 93.6%,#00bfee 96%,#007dee)"></i><i style="background:linear-gradient(90deg,#00c7ee,#00d2ee 2%,#00eeee 4.83%,#77ee77 14%,#c1ee2e 20%,#eeee00 23.3%,#eeb000 27%,#ee2500 34%,#ee0000 36.1%,#ca0000 39%,#a20000 44%,#800000 50%,#7a0000 53%,#7d0000 55%,#860000 57%,#c10000 66%,#db0000 69%,#ee0000 70.8%,#ee2f00 74%,#eea300 81%,#eec600 83%,#eeee00 84.9%,#baee34 87%,#28eec6 92%,#00eeee 93.6%,#00bdee 96%,#007cee)"></i><i style="background:linear-gradient(90deg,#00c5ee,#00d1ee 2%,#00eeee 4.89%,#77ee77 14%,#c0ee2e 20%,#eeee00 23.3%,#ee9e00 28%,#ee2500 34%,#ee0000 36.1%,#ca0000 39%,#a20000 44%,#8f0000 47%,#810000 50%,#7c0000 53%,#7f0000 55%,#8d0000 58%,#c20000 66%,#d30000 68%,#ee0000 70.5%,#ee3200 74%,#eea600 81%,#eeca00 83%,#eeee00 84.7%,#b5ee3a 87%,#41eead 91%,#00eeee 93.5%,#00bbee 96%,#007aee)"></i><i style="background:linear-gradient(90deg,#00c4ee,#00d0ee 2%,#00eeee 4.91%,#77ee77 14%,#c0ee2e 20%,#eeee00 23.3%,#ee9e00 28%,#ee2600 34%,#ee0000 36.1%,#ca0000 39%,#a20000 44%,#8f0000 47%,#820000 50%,#7d0000 53%,#800000 55%,#8e0000 58%,#bc0000 65%,#d50000 68%,#ee0000 70.3%,#ee3400 74%,#ee9800 80%,#eebb00 82%,#eeee00 84.5%,#afee3f 87%,#3deeb1 91%,#00eeee 93.4%,#00b9ee 96%,#0077ee)"></i><i style="background:linear-gradient(90deg,#00c4ee,#00d0ee 2%,#00eeee 4.9%,#77ee77 14%,#c0ee2e 20%,#eeee00 23.3%,#ee9e00 28%,#ee2600 34%,#ee0000 36.2%,#d60000 38%,#c10000 40%,#a20000 44%,#900000 47%,#830000 50%,#7f0000 53%,#820000 55%,#8f0000 58%,#bd0000 65%,#d70000 68%,#ee0000 70.1%,#ee2800 73%,#ee8a00 79%,#eebf00 82%,#eeee00 84.3%,#c4ee2a 86%,#38eeb6 91%,#00eeee 93.2%,#00b7ee 96%,#0075ee)"></i><i style="background:linear-gradient(90deg,#00c5ee,#00d1ee 2%,#00eeee 4.86%,#77ee77 14%,#c0ee2e 20%,#eeee00 23.3%,#ee9e00 28%,#ee2700 34%,#ee0000 36.2%,#d60000 38%,#c10000 40%,#a20000 44%,#900000 47%,#850000 50%,#810000 53%,#840000 55%,#910000 58%,#b70000 64%,#d00000 67%,#ee0000 69.8%,#ee2c00 73%,#ee8c00 79%,#eec300 82%,#eeee00 84%,#beee31 86%,#33eebb 91%,#00eeee 93.1%,#00b4ee 96%,#0072ee)"></i><i style="background:linear-gradient(90deg,#00c7ee,#00d2ee 2%,#00eeee 4.79%,#77ee77 14%,#c1ee2e 20%,#eeee00 23.3%,#eeb100 27%,#ee2700 34%,#ee0000 36.3%,#d70000 38%,#c20000 40%,#a20000 44%,#910000 47%,#860000 50%,#830000 53%,#860000 55%,#980000 59%,#b80000 64%,#d20000 67%,#ee0000 69.5%,#ee3000 73%,#ee7f00 78%,#eeb400 81%,#eeee00 83.8%,#b7ee38 86%,#2eeec0 91%,#00eeee 92.9%,#00b1ee 96%,#006fee)"></i><i style="background:linear-gradient(90deg,#00caee,#00d4ee 2%,#00eeee 4.68%,#c1ee2d 20%,#eeee00 23.3%,#eeb000 27%,#ee2800 34%,#ee0000 36.4%,#d80000 38%,#c20000 40%,#a30000 44%,#920000 47%,#870000 50%,#850000 53%,#880000 55%,#940000 58%,#b30000 63%,#cb0000 66%,#ee0000 69.3%,#ee3400 73%,#ee8300 78%,#eeb800 81%,#eeee00 83.5%,#b0ee3f 86%,#42eeac 90%,#00eeee 92.7%,#00bfee 95%,#006cee)"></i><i style="background:linear-gradient(90deg,#00cdee,#00d7ee 2%,#00eeee 4.52%,#c2ee2d 20%,#eeee00 23.2%,#eeb000 27%,#ee2900 34%,#ee0000 36.4%,#c30000 40%,#a30000 44%,#930000 47%,#890000 50%,#870000 53%,#8a0000 55%,#9b0000 59%,#b40000 63%,#cd0000 66%,#ee0000 69%,#ee3900 73%,#ee8700 78%,#eebd00 81%,#eeee00 83.3%,#c3ee2b 85%,#3beeb3 90%,#00eeee 92.5%,#00bbee 95%,#0069ee)"></i><i style="background:linear-gradient(90deg,#00d1ee,#00daee 2%,#00eeee 4.32%,#c3ee2c 20%,#eeee00 23.2%,#eeb000 27%,#ee2a00 34%,#ee0000 36.5%,#c40000 40%,#a40000 44%,#900000 48%,#890000 52%,#900000 56%,#a90000 61%,#c60000 65%,#ee0000 68.7%,#ee2f00 72%,#ee8b00 78%,#eec200 81%,#eeee00 83%,#bcee32 85%,#34eeba 90%,#00eeee 92.2%,#00b7ee 95%,#0065ee)"></i><i style="background:linear-gradient(90deg,#00d5ee,#00ddee 2%,#00eeee 4.06%,#b7ee38 19%,#eeee00 23.1%,#eeb000 27%,#ee2b00 34%,#ee0000 36.6%,#c50000 40%,#a50000 44%,#950000 47%,#8c0000 50%,#8b0000 52%,#8f0000 55%,#9f0000 59%,#b80000 63%,#d20000 66%,#ee0000 68.4%,#ee9000 78%,#eeb300 80%,#eeee00 82.8%,#b5ee39 85%,#46eea8 89%,#00eeee 91.9%,#00b2ee 95%,#0062ee)"></i><i style="background:linear-gradient(90deg,#00d9ee,#00e1ee 2%,#00eeee 3.71%,#0deee2 5%,#b8ee37 19%,#eeee00 23.1%,#eeaf00 27%,#ee2c00 34%,#ee0000 36.7%,#c60000 40%,#a60000 44%,#960000 47%,#8e0000 50%,#8d0000 52%,#920000 55%,#a20000 59%,#bb0000 63%,#d50000 66%,#ee0000 68.1%,#ee9500 78%,#eeb800 80%,#eeee00 82.5%,#aeee41 85%,#3eeeb0 89%,#00eeee 91.6%,#00adee 95%,#005eee)"></i><i style="background:linear-gradient(90deg,#00deee,#00eeee 3.27%,#10eede 5%,#b9ee36 19%,#eeee00 23%,#eeaf00 27%,#ee2d00 34%,#ee0000 36.8%,#c70000 40%,#a70000 44%,#980000 47%,#900000 50%,#8f0000 52%,#940000 55%,#9f0000 58%,#b60000 62%,#ce0000 65%,#ee0000 67.7%,#ee9a00 78%,#eebd00 80%,#eeee00 82.2%,#c2ee2d 84%,#36eeb9 89%,#00eeee 91.3%,#00cbee 93%,#00a8ee 95%,#005aee)"></i><i style="background:linear-gradient(90deg,#00e3ee,#00eeee 2.61%,#14eeda 5%,#aeee41 18%,#eeee00 22.9%,#eeae00 27%,#ee2e00 34%,#ee0000 36.9%,#c80000 40%,#a80000 44%,#990000 47%,#920000 50%,#970000 55%,#a20000 58%,#b90000 62%,#d20000 65%,#ee0000 67.4%,#ee9f00 78%,#eec300 80%,#eeee00 82%,#baee34 84%,#2deec1 89%,#00eeee 90.9%,#00b3ee 94%,#0055ee)"></i><i style="background:linear-gradient(90deg,#00e9ee,#00eeee 1.57%,#07eee7 3%,#22eecc 6%,#afee3f 18%,#eeee00 22.9%,#eeae00 27%,#ee2f00 34%,#ee0000 36.9%,#c90000 40%,#a90000 44%,#9b0000 47%,#950000 49%,#940000 52%,#9a0000 55%,#aa0000 59%,#bc0000 62%,#d50000 65%,#ee0000 67.1%,#eea500 78%,#eec900 80%,#eeee00 81.7%,#b3ee3c 84%,#3feeaf 88%,#00eeee 90.5%,#00adee 94%,#0051ee)"></i><i style="background:linear-gradient(90deg,#00eeee,#0deee1 3%,#31eebe 7%,#b1ee3e 18%,#eeee00 22.8%,#eead00 27%,#ee3000 34%,#ee0000 37%,#ca0000 40%,#ab0000 44%,#990000 48%,#960000 51%,#9d0000 55%,#b30000 60%,#d00000 64%,#ee0000 66.8%,#ee6200 73%,#eeac00 78%,#eecf00 80%,#eeee00 81.4%,#abee43 84%,#36eeb8 88%,#00eeee 90.2%,#00c9ee 92%,#00a6ee 94%,#004dee)"></i><i style="background:linear-gradient(90deg,#06eee8,#13eedc 3%,#35eeba 7%,#b2ee3c 18%,#eeee00 22.7%,#eeac00 27%,#ee3100 34%,#ee0000 37.1%,#cc0000 40%,#ac0000 44%,#9b0000 48%,#980000 51%,#a00000 55%,#b10000 59%,#cb0000 63%,#dd0000 65%,#ee0000 66.4%,#ee6900 73%,#eeb300 78%,#eed500 80%,#eeee00 81.2%,#c0ee2f 83%,#2eeec1 88%,#00eeee 89.8%,#00b0ee 93%,#0048ee)"></i><i style="background:linear-gradient(90deg,#0ceee2,#1feed0 4%,#39eeb6 7%,#a8ee46 17%,#eeee00 22.6%,#eeac00 27%,#ee3100 34%,#ee0000 37.2%,#cd0000 40%,#ad0000 44%,#9d0000 48%,#9a0000 51%,#a30000 55%,#b40000 59%,#d00000 63%,#ee0000 66%,#ee1d00 68%,#ee7100 73%,#eeba00 78%,#eeee00 80.9%,#b8ee37 83%,#25eec9 88%,#00eeee 89.4%,#00cdee 91%,#00aaee 93%,#0043ee)"></i><i style="background:linear-gradient(90deg,#12eedc,#24eeca 4%,#3deeb2 7%,#aaee44 17%,#eeee00 22.5%,#eeab00 27%,#ee3200 34%,#ee0000 37.3%,#ce0000 40%,#b50000 43%,#a50000 46%,#9c0000 50%,#a00000 53%,#b30000 58%,#cc0000 62%,#ee0000 65.6%,#ee2300 68%,#ee7800 73%,#eec100 78%,#eeee00 80.5%,#b0ee3f 83%,#00eeee 89.1%,#00c6ee 91%,#00a3ee 93%,#003eee)"></i><i style="background:linear-gradient(90deg,#19eed6,#29eec5 4%,#41eeae 7%,#a1ee4d 16%,#eeee00 22.4%,#eeaa00 27%,#ee3300 34%,#ee0000 37.4%,#d00000 40%,#b70000 43%,#a70000 46%,#9f0000 50%,#a20000 53%,#b60000 58%,#d10000 62%,#ee0000 65.1%,#ee1a00 67%,#ee7f00 73%,#eec900 78%,#eeee00 80.1%,#dbee13 81%,#a7ee47 83%,#00eeee 88.8%,#00beee 91%,#009cee 93%,#0039ee)"></i><i style="background:linear-gradient(90deg,#1eeed0,#2eeec0 4%,#4eeea0 8%,#afee40 17%,#eeee00 22.3%,#eeaa00 27%,#ee3400 34%,#ee0000 37.4%,#d10000 40%,#b80000 43%,#a90000 46%,#a10000 50%,#a50000 53%,#b50000 57%,#cf0000 61%,#ee0000 64.5%,#ee2100 67%,#ee8600 73%,#eed200 78%,#eeee00 79.6%,#d2ee1c 81%,#9fee50 83%,#00eeee 88.5%,#00cbee 90%,#0095ee 93%,#0034ee)"></i><i style="background:linear-gradient(90deg,#24eeca,#33eebb 4%,#52ee9d 8%,#a6ee49 16%,#eeee00 22.2%,#eea900 27%,#ee2400 35%,#ee0000 37.5%,#d20000 40%,#ba0000 43%,#ab0000 46%,#a30000 50%,#a80000 53%,#b80000 57%,#cc0000 60%,#ee0000 63.9%,#ee2800 67%,#ee8e00 73%,#eeee00 79.1%,#c9ee26 81%,#b0ee3e 82%,#00eeee 88.3%,#00c5ee 90%,#009fee 92%,#007fee 94%,#002eee)"></i><i style="background:linear-gradient(90deg,#29eec5,#38eeb6 4%,#56ee99 8%,#a8ee46 16%,#eeee00 22%,#eea800 27%,#ee2500 35%,#ee0000 37.6%,#d40000 40%,#bc0000 43%,#ad0000 46%,#a60000 50%,#aa0000 53%,#b60000 56%,#d10000 60%,#ee0000 63.2%,#ee1400 65%,#ee3000 67%,#ee9500 73%,#eeee00 78.6%,#d5ee1a 80%,#a7ee48 82%,#00eeee 88%,#00beee 90%,#0098ee 92%,#006bee 95%,#0029ee)"></i><i style="background:linear-gradient(90deg,#2deec1,#3ceeb2 4%,#59ee95 8%,#a0ee4f 15%,#eeee00 21.9%,#eea600 27%,#ee2600 35%,#ee0000 37.7%,#cc0000 41%,#b80000 44%,#ac0000 47%,#a80000 50%,#ad0000 53%,#ba0000 56%,#ce0000 59%,#ee0000 62.6%,#ee1c00 65%,#ee3800 67%,#ee9d00 73%,#eeee00 78.1%,#cbee24 80%,#9dee51 82%,#00eeee 87.7%,#00b8ee 90%,#0091ee 92%,#0064ee 95%,#0023ee)"></i><i style="background:linear-gradient(90deg,#31eebe,#41eeae 4%,#5dee91 8%,#a2ee4c 15%,#eeee00 21.7%,#eea500 27%,#ee2600 35%,#ee0000 37.8%,#ce0000 41%,#ba0000 44%,#af0000 47%,#ab0000 50%,#af0000 53%,#bd0000 56%,#d30000 59%,#ee0000 61.9%,#ee2300 65%,#ee4000 67%,#eeee00 77.5%,#c1ee2d 80%,#94ee5b 82%,#00eeee 87.5%,#00b1ee 90%,#008aee 92%,#005dee 95%,#001cee)"></i><i style="background:linear-gradient(90deg,#34eebb,#44eeaa 4%,#61ee8e 8%,#a5ee49 15%,#eeee00 21.5%,#eea400 27%,#ee2700 35%,#ee0000 37.9%,#cf0000 41%,#bc0000 44%,#b10000 47%,#ae0000 50%,#b20000 53%,#bb0000 55%,#cf0000 58%,#ee0000 61.3%,#ee1f00 64%,#ee4800 67%,#eeee00 77%,#cbee24 79%,#a2ee4d 81%,#71ee7d 83%,#00eeee 87.2%,#00aaee 90%,#0083ee 92%,#0055ee 95%,#0016ee)"></i><i style="background:linear-gradient(90deg,#36eeb8,#48eea7 4%,#64ee8a 8%,#9dee51 14%,#eeee00 21.3%,#eea200 27%,#ee2700 35%,#ee0000 38%,#d10000 41%,#be0000 44%,#b40000 47%,#b00000 50%,#b50000 53%,#be0000 55%,#d40000 58%,#ee0000 60.7%,#ee2600 64%,#ee5100 67%,#eeee00 76.4%,#c1ee2e 79%,#98ee57 81%,#68ee87 83%,#00eeee 86.9%,#00a3ee 90%,#007cee 92%,#004eee 95%,#000fee)"></i><i style="background:linear-gradient(90deg,#38eeb6,#4beea3 4%,#67ee87 8%,#a0ee4e 14%,#eeee00 21.1%,#eea100 27%,#ee2800 35%,#ee0000 38.1%,#d30000 41%,#c10000 44%,#b70000 47%,#b30000 50%,#b80000 53%,#c10000 55%,#cf0000 57%,#ee0000 60.2%,#ee2e00 64%,#ee5900 67%,#eeee00 75.9%,#b7ee38 79%,#8eee61 81%,#5fee90 83%,#00eeee 86.6%,#00b3ee 89%,#0075ee 92%,#0046ee 95%,#0007ee)"></i><i style="background:linear-gradient(90deg,#3aeeb4,#4eeea0 4%,#6aee84 8%,#a3ee4b 14%,#eeee00 20.9%,#eead00 26%,#ee2900 35%,#ee0000 38.2%,#d50000 41%,#c30000 44%,#ba0000 47%,#b60000 50%,#bb0000 53%,#c40000 55%,#d40000 57%,#ee0000 59.6%,#ee3700 64%,#ee6200 67%,#eeee00 75.3%,#adee41 79%,#84ee6a 81%,#55ee99 83%,#00eeee 86.3%,#00acee 89%,#006eee 92%,#003eee 95%,#0000ee)"></i><i style="background:linear-gradient(90deg,#3ceeb2,#51ee9e 4%,#6dee81 8%,#a6ee49 14%,#eeee00 20.7%,#ee9e00 27%,#ee2900 35%,#ee0000 38.4%,#d70000 41%,#c60000 44%,#bd0000 47%,#b90000 50%,#be0000 53%,#c80000 55%,#d80000 57%,#ee0000 59.1%,#ee3100 63%,#ee6b00 67%,#eeee00 74.8%,#b6ee39 78%,#7aee74 81%,#4ceea2 83%,#00eeee 86%,#008eee 90%,#0055ee 93%,#0028ee 96%,#0000ee 99.2%,#0000e4)"></i><i style="background:linear-gradient(90deg,#3eeeb1,#5aee95 5%,#79ee76 9%,#a8ee46 14%,#eeee00 20.5%,#eea900 26%,#ee2a00 35%,#ee0000 38.5%,#d90000 41%,#c90000 44%,#c00000 47%,#bd0000 50%,#be0000 52%,#c50000 54%,#d30000 56%,#ee0000 58.6%,#ee3900 63%,#ee7400 67%,#eeee00 74.2%,#85ee69 80%,#43eeab 83%,#00eeee 85.7%,#0087ee 90%,#004dee 93%,#002eee 95%,#0000ee 98.5%,#0000da)"></i><i style="background:linear-gradient(90deg,#3feeaf,#5cee92 5%,#7bee73 9%,#abee43 14%,#eeee00 20.3%,#eea800 26%,#ee2b00 35%,#ee0000 38.7%,#db0000 41%,#cb0000 44%,#c30000 47%,#c00000 50%,#c20000 52%,#c90000 54%,#d70000 56%,#ee0000 58.2%,#ee3300 62%,#ee7c00 67%,#eeee00 73.7%,#7cee73 80%,#51ee9d 82%,#00eeee 85.4%,#007fee 90%,#0057ee 92%,#0034ee 94%,#0000ee 97.7%,#0000d0)"></i><i style="background:linear-gradient(90deg,#41eeae,#5eee90 5%,#7eee71 9%,#aeee41 14%,#eeee00 20%,#eea600 26%,#ee2b00 35%,#ee0000 38.9%,#dd0000 41%,#ce0000 44%,#c30000 50%,#c50000 52%,#cc0000 54%,#db0000 56%,#ee0000 57.8%,#ee8500 67%,#eeee00 73.2%,#72ee7c 80%,#48eea6 82%,#00eeee 85%,#0078ee 90%,#004fee 92%,#002cee 94%,#0000ee 97%,#0000c5)"></i><i style="background:linear-gradient(90deg,#42eead,#60ee8e 5%,#80ee6e 9%,#b0ee3e 14%,#eeee00 19.8%,#eeb100 25%,#ee2c00 35%,#ee0000 39.1%,#e00000 41%,#d10000 44%,#c70000 50%,#c90000 52%,#d00000 54%,#df0000 56%,#ee0000 57.3%,#ee8e00 67%,#eeee00 72.7%,#68ee86 80%,#3feeb0 82%,#00eeee 84.7%,#0070ee 90%,#0047ee 92%,#0013ee 95%,#0000ee 96.3%,#0000ba)"></i><i style="background:linear-gradient(90deg,#43eeab,#62ee8c 5%,#83ee6c 9%,#b2ee3c 14%,#eeee00 19.6%,#eeaf00 25%,#ee2d00 35%,#ee0000 39.3%,#dc0000 42%,#d40000 44%,#cb0000 50%,#cd0000 52%,#d40000 54%,#ee0000 57%,#ee1c00 59%,#ee9700 67%,#eeee00 72.2%,#5fee8f 80%,#36eeb9 82%,#00eeee 84.4%,#0096ee 88%,#0053ee 91%,#002cee 93%,#0000ee 95.7%,#0000b0)"></i><i style="background:linear-gradient(90deg,#44eeaa,#64ee8a 5%,#85ee6a 9%,#b5ee3a 14%,#eeee00 19.4%,#eead00 25%,#ee2e00 35%,#ee0000 39.6%,#df0000 42%,#d80000 44%,#cf0000 50%,#d10000 52%,#d80000 54%,#ee0000 56.5%,#ee2200 59%,#ee9f00 67%,#eeee00 71.7%,#56ee99 80%,#00eeee 84%,#0061ee 90%,#0024ee 93%,#0000ee 95.1%,#0000a5)"></i><i style="background:linear-gradient(90deg,#45eea9,#66ee88 5%,#87ee67 9%,#b7ee37 14%,#eeee00 19.2%,#eeb800 24%,#ee2f00 35%,#ee1000 38%,#ee0000 39.9%,#db0000 44%,#d30000 50%,#d70000 53%,#e30000 55%,#ee0000 56.1%,#ee2900 59%,#ee6b00 63%,#eeb800 68%,#eeee00 71.2%,#4ceea2 80%,#00eeee 83.6%,#005aee 90%,#002fee 92%,#0000ee 94.6%,#00009a)"></i><i style="background:linear-gradient(90deg,#46eea8,#60ee8e 4%,#89ee65 9%,#b9ee35 14%,#eeee00 19%,#eeb600 24%,#ee3000 35%,#ee1200 38%,#ee0000 40.3%,#de0000 44%,#d80000 50%,#dc0000 53%,#e00000 54%,#ee0000 55.7%,#ee1f00 58%,#eeee00 70.7%,#43eeab 80%,#00eeee 83.3%,#0052ee 90%,#0000ee 94.1%,#000090)"></i><i style="background:linear-gradient(90deg,#47eea7,#62ee8c 4%,#8bee64 9%,#b1ee3d 13%,#eeee00 18.8%,#eeb500 24%,#ee3200 35%,#ee1400 38%,#ee0000 40.8%,#e20000 44%,#dc0000 50%,#e10000 53%,#ee0000 55.2%,#ee2500 58%,#ee7b00 63%,#eeee00 70.2%,#3aeeb4 80%,#00eeee 82.9%,#004aee 90%,#0000ee 93.6%,#000086)"></i></div><div class="hm" style="left:97px;top:322px;width:200px;height:81px"><i style="background:linear-gradient(#e4e4ee,#e9e9ee)"></i><i style="background:linear-gradient(#e1e1ee,#e8e8ee)"></i><i style="background:linear-gradient(#dedeee,#e6e6ee)"></i><i style="background:linear-gradient(#dbdbee,#e5e5ee)"></i><i style="background:linear-gradient(#d8d8ee,#e4e4ee)"></i><i style="background:linear-gradient(#d5d5ee,#e2e2ee)"></i><i style="background:linear-gradient(#d2d2ee,#e0e0ee)"></i><i style="background:linear-gradient(#ceceee,#dedeee)"></i><i style="background:linear-gradient(#cbcbee,#dcdcee)"></i><i style="background:linear-gradient(#c7c7ee,#dadaee)"></i><i style="background:linear-gradient(#c3c3ee,#d8d8ee)"></i><i style="background:linear-gradient(#bfbfee,#d6d6ee)"></i><i style="background:linear-gradient(#bbbbee,#d3d3ee)"></i><i style="background:linear-gradient(#b7b7ee,#d0d0ee)"></i><i style="background:linear-gradient(#b2b2ee,#cdcdee)"></i><i style="background:linear-gradient(#adadee,#cacaee)"></i><i style="background:linear-gradient(#a8a8ee,#c7c7ee)"></i><i style="background:linear-gradient(#a4a4ee,#c4c4ee)"></i><i style="background:linear-gradient(#9f9fee,#c1c1ee)"></i><i style="background:linear-gradient(#9b9bee,#bebeee)"></i><i style="background:linear-gradient(#9797ee,#bcbcee)"></i><i style="background:linear-gradient(#9393ee,#b9b9ee)"></i><i style="background:linear-gradient(#8f8fee,#b7b7ee)"></i><i style="background:linear-gradient(#8b8bee,#b5b5ee)"></i><i style="background:linear-gradient(#8888ee,#b3b3ee)"></i><i style="background:linear-gradient(#8484ee,#b0b0ee)"></i><i style="background:linear-gradient(#8080ee,#aeaeee)"></i><i style="background:linear-gradient(#7d7dee,#acacee)"></i><i style="background:linear-gradient(#7979ee,#aaaaee)"></i><i style="background:linear-gradient(#7575ee,#a8a8ee)"></i><i style="background:linear-gradient(#7272ee,#a7a7ee)"></i><i style="background:linear-gradient(#6e6eee,#a5a5ee)"></i><i style="background:linear-gradient(#6b6bee,#a3a3ee)"></i><i style="background:linear-gradient(#6767ee,#a1a1ee)"></i><i style="background:linear-gradient(#6464ee,#9f9fee)"></i><i style="background:linear-gradient(#6161ee,#9d9dee)"></i><i style="background:linear-gradient(#5d5dee,#9b9bee)"></i><i style="background:linear-gradient(#5a5aee,#9a9aee)"></i><i style="background:linear-gradient(#5757ee,#9898ee)"></i><i style="background:linear-gradient(#5454ee,#9696ee)"></i><i style="background:linear-gradient(#5151ee,#9595ee)"></i><i style="background:linear-gradient(#4e4eee,#9393ee)"></i><i style="background:linear-gradient(#4b4bee,#9292ee)"></i><i style="background:linear-gradient(#4848ee,#9090ee)"></i><i style="background:linear-gradient(#4545ee,#8f8fee)"></i><i style="background:linear-gradient(#4242ee,#8d8dee)"></i><i style="background:linear-gradient(#3f3fee,#8c8cee)"></i><i style="background:linear-gradient(#3c3cee,#8a8aee)"></i><i style="background:linear-gradient(#3a3aee,#8989ee)"></i><i style="background:linear-gradient(#3737ee,#8888ee)"></i><i style="background:linear-gradient(#3434ee,#8686ee)"></i><i style="background:linear-gradient(#3232ee,#8585ee)"></i><i style="background:linear-gradient(#2f2fee,#8484ee)"></i><i style="background:linear-gradient(#2d2dee,#8383ee)"></i><i style="background:linear-gradient(#2a2aee,#8282ee)"></i><i style="background:linear-gradient(#2828ee,#8181ee)"></i><i style="background:linear-gradient(#2525ee,#8080ee)"></i><i style="background:linear-gradient(#2323ee,#7f7fee)"></i><i style="background:linear-gradient(#2121ee,#7e7eee)"></i><i style="background:linear-gradient(#1f1fee,#7d7dee)"></i><i style="background:linear-gradient(#1d1dee,#7c7cee)"></i><i style="background:linear-gradient(#1b1bee,#7c7cee)"></i><i style="background:linear-gradient(#1919ee,#7b7bee)"></i><i style="background:linear-gradient(#1818ee,#7a7aee)"></i><i style="background:linear-gradient(#1616ee,#7a7aee)"></i><i style="background:linear-gradient(#1414ee,#7979ee)"></i><i style="background:linear-gradient(#1212ee,#7979ee)"></i><i style="background:linear-gradient(#1010ee,#7878ee)"></i><i style="background:linear-gradient(#0e0eee,#7777ee)"></i><i style="background:linear-gradient(#0c0cee,#7777ee)"></i><i style="background:linear-gradient(#0b0bee,#7676ee)"></i><i style="background:linear-gradient(#0909ee,#7676ee)"></i><i style="background:linear-gradient(#0707ee,#7575ee)"></i><i style="background:linear-gradient(#0606ee,#7575ee)"></i><i style="background:linear-gradient(#0404ee,#7474ee)"></i><i style="background:linear-gradient(#0303ee,#7474ee)"></i><i style="background:linear-gradient(#0101ee,#7474ee)"></i><i style="background:linear-gradient(#0000ee,#7373ee)"></i><i style="background:linear-gradient(#0000ee,#7373ee)"></i><i style="background:linear-gradient(#0000ee,#7373ee)"></i><i style="background:linear-gradient(#0000ee,#0000ee 2.5%,#7373ee)"></i><i style="background:linear-gradient(#0000ee,#0202ee 5%,#7373ee)"></i><i style="background:linear-gradient(#0000ee,#0202ee 5%,#7373ee)"></i><i style="background:linear-gradient(#0000ee,#0101ee 5%,#7474ee)"></i><i style="background:linear-gradient(#0000ee,#0101ee 5%,#7474ee)"></i><i style="background:linear-gradient(#0000ee,#0000ee 5%,#7575ee)"></i><i style="background:linear-gradient(#0000ee,#0000ee 5%,#7575ee)"></i><i style="background:linear-gradient(#0000ee,#0303ee 7.5%,#7676ee)"></i><i style="background:linear-gradient(#0000ee,#0303ee 7.5%,#7777ee)"></i><i style="background:linear-gradient(#0000ee,#0303ee 7.5%,#7777ee)"></i><i style="background:linear-gradient(#0000ee,#0303ee 7.5%,#7878ee)"></i><i style="background:linear-gradient(#0000ee,#0303ee 7.5%,#7979ee)"></i><i style="background:linear-gradient(#0000ee,#0303ee 7.5%,#7a7aee)"></i><i style="background:linear-gradient(#0000ee,#0303ee 7.5%,#7a7aee)"></i><i style="background:linear-gradient(#0000ee,#0303ee 7.5%,#7b7bee)"></i><i style="background:linear-gradient(#0000ee,#0000ee 5%,#7c7cee)"></i><i style="background:linear-gradient(#0000ee,#0000ee 5%,#7d7dee)"></i><i style="background:linear-gradient(#0000ee,#0000ee 5%,#7e7eee)"></i><i style="background:linear-gradient(#0000ee,#0101ee 5%,#7f7fee)"></i><i style="background:linear-gradient(#0000ee,#0101ee 5%,#8080ee)"></i><i style="background:linear-gradient(#0000ee,#0101ee 5%,#8181ee)"></i><i style="background:linear-gradient(#0000ee,#0202ee 5%,#8282ee)"></i><i style="background:linear-gradient(#0000ee,#0202ee 5%,#8383ee)"></i><i style="background:linear-gradient(#0000ee,#0303ee 5%,#8484ee)"></i><i style="background:linear-gradient(#0000ee,#0303ee 5%,#8585ee)"></i><i style="background:linear-gradient(#0000ee,#0000ee 2.5%,#8686ee)"></i><i style="background:linear-gradient(#0000ee,#0000ee 2.5%,#8787ee)"></i><i style="background:linear-gradient(#0000ee,#8888ee)"></i><i style="background:linear-gradient(#0000ee,#8989ee)"></i><i style="background:linear-gradient(#0000ee,#8a8aee)"></i><i style="background:linear-gradient(#0000ee,#8b8bee)"></i><i style="background:linear-gradient(#0000ee,#8c8cee)"></i><i style="background:linear-gradient(#0000ee,#4242ee 45%,#8d8dee)"></i><i style="background:linear-gradient(#0101ee,#4444ee 45%,#8e8eee)"></i><i style="background:linear-gradient(#0202ee,#4545ee 45%,#8f8fee)"></i><i style="background:linear-gradient(#0202ee,#4a4aee 47.5%,#9090ee)"></i><i style="background:linear-gradient(#0303ee,#4b4bee 47.5%,#9191ee)"></i><i style="background:linear-gradient(#0404ee,#4d4dee 47.5%,#9292ee)"></i><i style="background:linear-gradient(#0505ee,#4f4fee 47.5%,#9494ee)"></i><i style="background:linear-gradient(#0606ee,#5151ee 47.5%,#9595ee)"></i><i style="background:linear-gradient(#0808ee,#5252ee 47.5%,#9797ee)"></i><i style="background:linear-gradient(#0909ee,#5454ee 47.5%,#9898ee)"></i><i style="background:linear-gradient(#0a0aee,#5656ee 47.5%,#9a9aee)"></i><i style="background:linear-gradient(#0c0cee,#5858ee 47.5%,#9c9cee)"></i><i style="background:linear-gradient(#0e0eee,#5a5aee 47.5%,#9e9eee)"></i><i style="background:linear-gradient(#0f0fee,#5d5dee 47.5%,#7f7fee 72.5%,#a0a0ee)"></i><i style="background:linear-gradient(#1111ee,#5f5fee 47.5%,#8181ee 72.5%,#a2a2ee)"></i><i style="background:linear-gradient(#1313ee,#6161ee 47.5%,#8383ee 72.5%,#a4a4ee)"></i><i style="background:linear-gradient(#1515ee,#6363ee 47.5%,#8989ee 75%,#a6a6ee)"></i><i style="background:linear-gradient(#1717ee,#6565ee 47.5%,#8b8bee 75%,#a8a8ee)"></i><i style="background:linear-gradient(#1919ee,#6767ee 47.5%,#8d8dee 75%,#aaaaee)"></i><i style="background:linear-gradient(#1b1bee,#6a6aee 47.5%,#8f8fee 75%,#acacee)"></i><i style="background:linear-gradient(#1d1dee,#4949ee 25%,#6c6cee 47.5%,#9191ee 75%,#aeaeee)"></i><i style="background:linear-gradient(#1f1fee,#4747ee 22.5%,#6e6eee 47.5%,#9494ee 75%,#b0b0ee)"></i><i style="background:linear-gradient(#2121ee,#4949ee 22.5%,#7171ee 47.5%,#9393ee 72.5%,#b2b2ee)"></i><i style="background:linear-gradient(#2323ee,#7373ee 47.5%,#9595ee 72.5%,#b4b4ee)"></i><i style="background:linear-gradient(#2525ee,#5252ee 25%,#7676ee 47.5%,#9797ee 72.5%,#b6b6ee)"></i><i style="background:linear-gradient(#2828ee,#5555ee 25%,#7878ee 47.5%,#9a9aee 72.5%,#b8b8ee)"></i><i style="background:linear-gradient(#2a2aee,#5757ee 25%,#7b7bee 47.5%,#9d9dee 72.5%,#babaee)"></i><i style="background:linear-gradient(#2c2cee,#5a5aee 25%,#7e7eee 47.5%,#9f9fee 72.5%,#bcbcee)"></i><i style="background:linear-gradient(#2e2eee,#5d5dee 25%,#8181ee 47.5%,#a2a2ee 72.5%,#bebeee)"></i><i style="background:linear-gradient(#3131ee,#6060ee 25%,#8484ee 47.5%,#a5a5ee 72.5%,#c0c0ee)"></i><i style="background:linear-gradient(#3434ee,#6363ee 25%,#8686ee 47.5%,#a7a7ee 72.5%,#c3c3ee)"></i><i style="background:linear-gradient(#3636ee,#6666ee 25%,#8989ee 47.5%,#adadee 75%,#c5c5ee)"></i><i style="background:linear-gradient(#3939ee,#6969ee 25%,#8c8cee 47.5%,#b0b0ee 75%,#c8c8ee)"></i><i style="background:linear-gradient(#3c3cee,#6767ee 22.5%,#8f8fee 47.5%,#b2b2ee 75%,#cacaee)"></i><i style="background:linear-gradient(#3f3fee,#6a6aee 22.5%,#9292ee 47.5%,#b5b5ee 75%,#cdcdee)"></i><i style="background:linear-gradient(#4242ee,#6d6dee 22.5%,#9494ee 47.5%,#b8b8ee 75%,#cfcfee)"></i><i style="background:linear-gradient(#4545ee,#6f6fee 22.5%,#9797ee 47.5%,#babaee 75%,#d2d2ee)"></i><i style="background:linear-gradient(#4848ee,#7272ee 22.5%,#9999ee 47.5%,#bcbcee 75%,#d4d4ee)"></i><i style="background:linear-gradient(#4b4bee,#7575ee 22.5%,#9c9cee 47.5%,#bfbfee 75%,#d7d7ee)"></i><i style="background:linear-gradient(#4e4eee,#7777ee 22.5%,#9e9eee 47.5%,#c1c1ee 75%,#d9d9ee)"></i><i style="background:linear-gradient(#5050ee,#7a7aee 22.5%,#a1a1ee 47.5%,#c4c4ee 75%,#dbdbee)"></i><i style="background:linear-gradient(#5353ee,#7d7dee 22.5%,#a3a3ee 47.5%,#c6c6ee 75%,#ddddee)"></i><i style="background:linear-gradient(#5656ee,#7f7fee 22.5%,#a6a6ee 47.5%,#c8c8ee 75%,#e0e0ee)"></i><i style="background:linear-gradient(#5959ee,#8282ee 22.5%,#a8a8ee 47.5%,#cbcbee 75%,#e2e2ee)"></i><i style="background:linear-gradient(#5c5cee,#8585ee 22.5%,#ababee 47.5%,#cdcdee 75%,#e4e4ee)"></i><i style="background:linear-gradient(#5f5fee,#8787ee 22.5%,#adadee 47.5%,#cfcfee 75%,#e6e6ee)"></i><i style="background:linear-gradient(#6161ee,#8a8aee 22.5%,#b0b0ee 47.5%,#d1d1ee 75%,#e8e8ee)"></i><i style="background:linear-gradient(#6464ee,#8d8dee 22.5%,#b2b2ee 47.5%,#d4d4ee 75%,#eaeaee)"></i><i style="background:linear-gradient(#6767ee,#8f8fee 22.5%,#b4b4ee 47.5%,#d6d6ee 75%,#ececee)"></i><i style="background:linear-gradient(#6a6aee,#9292ee 22.5%,#b6b6ee 47.5%,#d8d8ee 75%,#eeeeee)"></i><i style="background:linear-gradient(#6d6dee,#9898ee 25%,#c2c2ee 55%,#e4e4ee 85%,#eeeeee 97.9%,#eeeded)"></i><i style="background:linear-gradient(#7070ee,#9e9eee 27.5%,#c7c7ee 57.5%,#ececee 92.5%,#eeeeee 95.4%,#eeebeb)"></i><i style="background:linear-gradient(#7373ee,#a4a4ee 30%,#d0d0ee 62.5%,#eeeeee 93.2%,#eee9e9)"></i><i style="background:linear-gradient(#7575ee,#a7a7ee 30%,#d4d4ee 65%,#eeeeee 91.1%,#eee7e7)"></i><i style="background:linear-gradient(#7878ee,#adadee 32.5%,#d9d9ee 67.5%,#eeeeee 89%,#eee6e6)"></i><i style="background:linear-gradient(#7b7bee,#b2b2ee 35%,#e0e0ee 72.5%,#eeeeee 87%,#eee4e4)"></i><i style="background:linear-gradient(#7d7dee,#b5b5ee 35%,#e5e5ee 75%,#eeeeee 85.1%,#eee2e2)"></i><i style="background:linear-gradient(#8080ee,#babaee 37.5%,#ebebee 80%,#eeeeee 83.2%,#eee1e1)"></i><i style="background:linear-gradient(#8282ee,#bcbcee 37.5%,#eeeeee 81.3%,#eedfdf)"></i><i style="background:linear-gradient(#8585ee,#bebeee 37.5%,#eeeeee 79.6%,#eedddd)"></i><i style="background:linear-gradient(#8888ee,#c0c0ee 37.5%,#eeeeee 77.9%,#eedcdc)"></i><i style="background:linear-gradient(#8a8aee,#bfbfee 35%,#eeeeee 76.3%,#eedada)"></i><i style="background:linear-gradient(#8d8dee,#c1c1ee 35%,#eeeeee 74.8%,#eed9d9)"></i><i style="background:linear-gradient(#8f8fee,#bfbfee 32.5%,#eeeeee 73.3%,#eed7d7)"></i><i style="background:linear-gradient(#9292ee,#c1c1ee 32.5%,#eeeeee 72%,#eed6d6)"></i><i style="background:linear-gradient(#9494ee,#c2c2ee 32.5%,#eeeeee 70.8%,#eed4d4)"></i><i style="background:linear-gradient(#9696ee,#c1c1ee 30%,#eeeeee 69.6%,#eed3d3)"></i><i style="background:linear-gradient(#9999ee,#c2c2ee 30%,#eeeeee 68.5%,#eed2d2)"></i><i style="background:linear-gradient(#9b9bee,#c4c4ee 30%,#eeeeee 67.5%,#eed1d1)"></i><i style="background:linear-gradient(#9d9dee,#c5c5ee 30%,#eeeeee 66.6%,#eed0d0)"></i><i style="background:linear-gradient(#9f9fee,#c7c7ee 30%,#eeeeee 65.6%,#eecfcf)"></i><i style="background:linear-gradient(#a1a1ee,#c8c8ee 30%,#eeeeee 64.6%,#eecece)"></i><i style="background:linear-gradient(#a3a3ee,#cacaee 30%,#eeeeee 63.6%,#eecdcd)"></i><i style="background:linear-gradient(#a5a5ee,#cbcbee 30%,#eeeeee 62.6%,#eecccc)"></i><i style="background:linear-gradient(#a7a7ee,#ccccee 30%,#eeeeee 61.5%,#eecccc)"></i><i style="background:linear-gradient(#a9a9ee,#eeeeee 60.3%,#eecbcb)"></i><i style="background:linear-gradient(#ababee,#eeeeee 59%,#eecaca)"></i><i style="background:linear-gradient(#acacee,#eeeeee 57.5%,#eecaca)"></i><i style="background:linear-gradient(#aeaeee,#eeeeee 55.8%,#eec9c9)"></i><i style="background:linear-gradient(#b0b0ee,#eeeeee 53.9%,#eec8c8)"></i><i style="background:linear-gradient(#b2b2ee,#eeeeee 52.1%,#eec8c8)"></i><i style="background:linear-gradient(#b4b4ee,#d6d6ee 27.5%,#eeeeee 50.8%,#eed8d8 75%,#eec7c7)"></i><i style="background:linear-gradient(#b6b6ee,#d2d2ee 22.5%,#eeeeee 49.6%,#eed3d3 80%,#eec6c6)"></i><i style="background:linear-gradient(#b8b8ee,#d1d1ee 20%,#eeeeee 48.5%,#eed2d2 80%,#eec5c5)"></i><i style="background:linear-gradient(#babaee,#d0d0ee 17.5%,#eeeeee 47.4%,#eec3c3)"></i><i style="background:linear-gradient(#bdbdee,#eeeeee 46.4%,#eec2c2)"></i><i style="background:linear-gradient(#c0c0ee,#eeeeee 45.4%,#eec1c1)"></i><i style="background:linear-gradient(#c2c2ee,#eeeeee 44.4%,#eec1c1)"></i></div><div class="hm hh" style="left:306px;top:322px;width:201px;height:81px"><i style="background:linear-gradient(90deg,#eec8c8,#eeacac 50%,#ee6e6e)"></i><i style="background:linear-gradient(90deg,#eec7c7,#eeaaaa 50%,#ee6a6a)"></i><i style="background:linear-gradient(90deg,#eec6c6,#eea9a9 49%,#ee6767)"></i><i style="background:linear-gradient(90deg,#eec5c5,#eea7a7 49%,#ee6464)"></i><i style="background:linear-gradient(90deg,#eec4c4,#eea5a5 49%,#ee6060)"></i><i style="background:linear-gradient(90deg,#eec3c3,#eea2a2 49%,#ee5d5d)"></i><i style="background:linear-gradient(90deg,#eec2c2,#eea0a0 49%,#ee5a5a)"></i><i style="background:linear-gradient(90deg,#eec1c1,#ee9f9f 48%,#ee5656)"></i><i style="background:linear-gradient(90deg,#eec0c0,#ee9d9d 48%,#ee5353)"></i><i style="background:linear-gradient(90deg,#eebfbf,#eeaeae 26%,#ee9b9b 48%,#ee5050)"></i><i style="background:linear-gradient(90deg,#eebebe,#eeadad 26%,#ee9999 48%,#ee6060 85%,#ee4d4d)"></i><i style="background:linear-gradient(90deg,#eebebe,#eeacac 26%,#ee9797 48%,#ee5f5f 84%,#ee4a4a)"></i><i style="background:linear-gradient(90deg,#eebdbd,#eeaaaa 26%,#ee9595 48%,#ee5c5c 84%,#ee4747)"></i><i style="background:linear-gradient(90deg,#eebcbc,#eeaaaa 25%,#ee9595 47%,#ee5959 84%,#ee4444)"></i><i style="background:linear-gradient(90deg,#eebbbb,#eea8a8 25%,#ee9393 47%,#ee5656 84%,#ee4141)"></i><i style="background:linear-gradient(90deg,#eebaba,#eea7a7 25%,#ee9191 47%,#ee5353 84%,#ee3e3e)"></i><i style="background:linear-gradient(90deg,#eeb9b9,#eea6a6 25%,#ee8f8f 47%,#ee5151 84%,#ee3b3b)"></i><i style="background:linear-gradient(90deg,#eeb8b8,#eea5a5 24%,#ee8e8e 46%,#ee4e4e 84%,#ee3838)"></i><i style="background:linear-gradient(90deg,#eeb7b7,#eea4a4 24%,#ee8c8c 46%,#ee4b4b 84%,#ee3535)"></i><i style="background:linear-gradient(90deg,#eeb6b6,#eea3a3 24%,#ee8c8c 45%,#ee4848 84%,#ee3333)"></i><i style="background:linear-gradient(90deg,#eeb6b6,#eea2a2 24%,#ee8a8a 45%,#ee4646 84%,#ee3030)"></i><i style="background:linear-gradient(90deg,#eeb5b5,#eea1a1 24%,#ee8888 45%,#ee4343 84%,#ee2d2d)"></i><i style="background:linear-gradient(90deg,#eeb4b4,#eea0a0 23%,#ee8888 44%,#ee4141 84%,#ee2b2b)"></i><i style="background:linear-gradient(90deg,#eeb3b3,#ee9f9f 23%,#ee8686 44%,#ee4040 83%,#ee2828)"></i><i style="background:linear-gradient(90deg,#eeb2b2,#ee9e9e 23%,#ee8686 43%,#ee7373 55%,#ee3d3d 83%,#ee2626)"></i><i style="background:linear-gradient(90deg,#eeb1b1,#ee9e9e 22%,#ee8686 42%,#ee7171 55%,#ee3b3b 83%,#ee2424)"></i><i style="background:linear-gradient(90deg,#eeb1b1,#ee9d9d 22%,#ee8484 42%,#ee7171 54%,#ee3939 83%,#ee2121)"></i><i style="background:linear-gradient(90deg,#eeb0b0,#ee9d9d 21%,#ee8484 41%,#ee6f6f 54%,#ee3636 83%,#ee1f1f)"></i><i style="background:linear-gradient(90deg,#eeafaf,#ee9c9c 21%,#ee8383 41%,#ee6d6d 54%,#ee3434 83%,#ee1d1d)"></i><i style="background:linear-gradient(90deg,#eeaeae,#ee9b9b 21%,#ee8383 40%,#ee6e6e 53%,#ee3232 83%,#ee1b1b)"></i><i style="background:linear-gradient(90deg,#eeaeae,#ee9a9a 21%,#ee8282 40%,#ee6c6c 53%,#ee3030 83%,#ee1919)"></i><i style="background:linear-gradient(90deg,#eeadad,#ee9a9a 20%,#ee8282 39%,#ee6c6c 52%,#ee2e2e 83%,#ee1717)"></i><i style="background:linear-gradient(90deg,#eeacac,#ee9999 20%,#ee8080 39%,#ee6b6b 52%,#ee2d2d 82%,#ee1515)"></i><i style="background:linear-gradient(90deg,#eeabab,#ee9898 20%,#ee8181 38%,#ee6969 52%,#ee2b2b 82%,#ee1313)"></i><i style="background:linear-gradient(90deg,#eeabab,#ee9999 19%,#ee8181 37%,#ee6767 52%,#ee2929 82%,#ee1111)"></i><i style="background:linear-gradient(90deg,#eeaaaa,#ee9898 19%,#ee8080 37%,#ee6666 52%,#ee2828 82%,#ee1010)"></i><i style="background:linear-gradient(90deg,#eea9a9,#ee9898 18%,#ee8080 36%,#ee6767 51%,#ee2626 82%,#ee0e0e)"></i><i style="background:linear-gradient(90deg,#eea9a9,#ee9797 18%,#ee7f7f 36%,#ee6565 51%,#ee2424 82%,#ee0c0c)"></i><i style="background:linear-gradient(90deg,#eea8a8,#ee9696 18%,#ee7e7e 36%,#ee6464 51%,#ee2424 81%,#ee0b0b)"></i><i style="background:linear-gradient(90deg,#eea8a8,#ee9696 18%,#ee7f7f 35%,#ee6363 51%,#ee2323 81%,#ee0a0a)"></i><i style="background:linear-gradient(90deg,#eea7a7,#ee9595 18%,#ee7e7e 35%,#ee6161 51%,#ee2121 81%,#ee0808)"></i><i style="background:linear-gradient(90deg,#eea6a6,#ee9595 17%,#ee7f7f 34%,#ee6060 51%,#ee2020 81%,#ee0707)"></i><i style="background:linear-gradient(90deg,#eea6a6,#ee9595 17%,#ee7e7e 34%,#ee5f5f 51%,#ee1e1e 81%,#ee0606)"></i><i style="background:linear-gradient(90deg,#eea5a5,#ee9494 17%,#ee7e7e 33%,#ee6060 50%,#ee1f1f 80%,#ee1111 89%,#ee0505)"></i><i style="background:linear-gradient(90deg,#eea5a5,#ee9494 17%,#ee7e7e 33%,#ee5f5f 50%,#ee1e1e 80%,#ee1010 89%,#ee0404)"></i><i style="background:linear-gradient(90deg,#eea4a4,#ee9393 17%,#ee7d7d 33%,#ee5e5e 50%,#ee1d1d 80%,#ee0f0f 89%,#ee0303)"></i><i style="background:linear-gradient(90deg,#eea4a4,#ee9494 16%,#ee7e7e 32%,#ee5d5d 50%,#ee1c1c 80%,#ee0e0e 89%,#ee0303)"></i><i style="background:linear-gradient(90deg,#eea4a4,#ee9292 17%,#ee7c7c 33%,#ee5d5d 50%,#ee1b1b 80%,#ee0d0d 89%,#ee0202)"></i><i style="background:linear-gradient(90deg,#eea3a3,#ee9393 16%,#ee7d7d 32%,#ee5c5c 50%,#ee1c1c 79%,#ee0d0d 89%,#ee0202)"></i><i style="background:linear-gradient(90deg,#eea3a3,#ee9292 16%,#ee7c7c 32%,#ee5b5b 50%,#ee1c1c 79%,#ee0c0c 89%,#ee0101)"></i><i style="background:linear-gradient(90deg,#eea2a2,#ee9292 16%,#ee7c7c 32%,#ee5b5b 50%,#ee1b1b 79%,#ee0c0c 89%,#ee0101)"></i><i style="background:linear-gradient(90deg,#eea2a2,#ee9393 15%,#ee7e7e 31%,#ee5a5a 50%,#ee1b1b 79%,#ee0b0b 89%,#ee0101)"></i><i style="background:linear-gradient(90deg,#eea2a2,#ee9393 15%,#ee7d7d 31%,#ee5a5a 50%,#ee1c1c 78%,#ee0c0c 88%,#ee0101)"></i><i style="background:linear-gradient(90deg,#eea2a2,#ee9393 15%,#ee7d7d 31%,#ee5a5a 50%,#ee1c1c 78%,#ee0c0c 88%,#ee0101)"></i><i style="background:linear-gradient(90deg,#eea2a2,#ee9393 15%,#ee7f7f 30%,#ee5959 50%,#ee1c1c 78%,#ee0b0b 89%,#ee0101)"></i><i style="background:linear-gradient(90deg,#eea2a2,#ee9393 15%,#ee7f7f 30%,#ee5959 50%,#ee1c1c 78%,#ee0b0b 89%,#ee0101)"></i><i style="background:linear-gradient(90deg,#eea2a2,#ee9393 15%,#ee7e7e 30%,#ee5959 50%,#ee1c1c 78%,#ee0b0b 89%,#ee0101)"></i><i style="background:linear-gradient(90deg,#eea2a2,#ee9494 14%,#ee7e7e 30%,#ee5959 50%,#ee1e1e 77%,#ee0c0c 88%,#ee0202)"></i><i style="background:linear-gradient(90deg,#eea2a2,#ee9494 14%,#ee7f7f 30%,#ee5959 50%,#ee1e1e 77%,#ee0d0d 88%,#ee0202)"></i><i style="background:linear-gradient(90deg,#eea2a2,#ee8080 29%,#ee5959 50%,#ee1e1e 77%,#ee0d0d 88%,#ee0303)"></i><i style="background:linear-gradient(90deg,#eea2a2,#ee8080 29%,#ee5959 50%,#ee1e1e 77%,#ee0e0e 88%,#ee0303)"></i><i style="background:linear-gradient(90deg,#eea2a2,#ee9494 14%,#ee8181 29%,#ee5959 50%,#ee1f1f 77%,#ee0e0e 88%,#ee0404)"></i><i style="background:linear-gradient(90deg,#eea2a2,#ee9595 14%,#ee8181 29%,#ee5a5a 50%,#ee1f1f 77%,#ee0f0f 88%,#ee0505)"></i><i style="background:linear-gradient(90deg,#eea2a2,#ee9595 14%,#ee8181 29%,#ee5a5a 50%,#ee2020 77%,#ee1010 88%,#ee0606)"></i><i style="background:linear-gradient(90deg,#eea2a2,#ee9595 14%,#ee8282 29%,#ee5a5a 50%,#ee2323 76%,#ee1111 88%,#ee0808)"></i><i style="background:linear-gradient(90deg,#eea3a3,#ee9696 14%,#ee8282 29%,#ee5b5b 50%,#ee2424 76%,#ee1212 88%,#ee0909)"></i><i style="background:linear-gradient(90deg,#eea3a3,#ee8484 28%,#ee5c5c 50%,#ee2525 76%,#ee1313 88%,#ee0a0a)"></i><i style="background:linear-gradient(90deg,#eea3a3,#ee8585 28%,#ee5c5c 50%,#ee2626 76%,#ee1515 88%,#ee0c0c)"></i><i style="background:linear-gradient(90deg,#eea4a4,#ee8585 28%,#ee5d5d 50%,#ee2727 76%,#ee1616 88%,#ee0d0d)"></i><i style="background:linear-gradient(90deg,#eea4a4,#ee8686 28%,#ee5e5e 50%,#ee2828 76%,#ee1818 88%,#ee0f0f)"></i><i style="background:linear-gradient(90deg,#eea5a5,#ee8787 28%,#ee5f5f 50%,#ee2a2a 76%,#ee1919 88%,#ee1111)"></i><i style="background:linear-gradient(90deg,#eea5a5,#ee8787 28%,#ee6060 50%,#ee2b2b 76%,#ee1b1b 88%,#ee1313)"></i><i style="background:linear-gradient(90deg,#eea5a5,#ee9999 14%,#ee8585 30%,#ee2828 79%,#ee1c1c 89%,#ee1515)"></i><i style="background:linear-gradient(90deg,#eea6a6,#ee9a9a 14%,#ee8686 30%,#ee2a2a 79%,#ee1e1e 89%,#ee1717)"></i><i style="background:linear-gradient(90deg,#eea7a7,#ee9b9b 14%,#ee8787 30%,#ee2c2c 79%,#ee2020 89%,#ee1a1a)"></i><i style="background:linear-gradient(90deg,#eea7a7,#ee9b9b 14%,#ee8888 30%,#ee2e2e 79%,#ee2222 89%,#ee1c1c)"></i><i style="background:linear-gradient(90deg,#eea8a8,#ee9c9c 14%,#ee8989 30%,#ee3131 78%,#ee2525 89%,#ee1f1f)"></i><i style="background:linear-gradient(90deg,#eea9a9,#ee9d9d 14%,#ee8a8a 30%,#ee3434 78%,#ee2727 89%,#ee2121)"></i><i style="background:linear-gradient(90deg,#eea9a9,#ee9e9e 14%,#ee8b8b 30%,#ee3636 78%,#ee2a2a 89%,#ee2424)"></i><i style="background:linear-gradient(90deg,#eeaaaa,#ee9f9f 14%,#ee8d8d 30%,#ee3939 78%,#ee2d2d 89%,#ee2727)"></i><i style="background:linear-gradient(90deg,#eeabab,#eea0a0 14%,#ee8e8e 30%,#ee3b3b 78%,#ee3030 89%,#ee2a2a)"></i></div><div class="hm hh" style="left:516px;top:322px;width:201px;height:81px"><i style="background:linear-gradient(90deg,#aaaaee,#b2b2ee 6%,#c3c3ee 14%,#eeeeee 26.2%,#ee8787 49%,#ee3434 64%,#ee1010 73%,#ee0000 80%,#ee0000)"></i><i style="background:linear-gradient(90deg,#aaaaee,#b2b2ee 6%,#c3c3ee 14%,#eeeeee 26.2%,#ee8787 49%,#ee3535 64%,#ee1111 73%,#ee0000 81%,#ee0000)"></i><i style="background:linear-gradient(90deg,#aaaaee,#b2b2ee 6%,#c3c3ee 14%,#eeeeee 26.3%,#ee8686 49%,#ee3535 64%,#ee1212 73%,#ee0000 82%,#ee0000)"></i><i style="background:linear-gradient(90deg,#aaaaee,#b2b2ee 6%,#c3c3ee 14%,#eeeeee 26.3%,#ee8686 49%,#ee3b3b 63%,#ee1414 73%,#ee0909 77%,#ee0000 84%,#ee0000)"></i><i style="background:linear-gradient(90deg,#ababee,#b2b2ee 6%,#c3c3ee 14%,#eeeeee 26.4%,#ee8686 49%,#ee3c3c 63%,#ee1818 72%,#ee0b0b 77%,#ee0000 85%,#ee0000)"></i><i style="background:linear-gradient(90deg,#ababee,#b2b2ee 6%,#c2c2ee 14%,#eeeeee 26.4%,#ee8686 49%,#ee4141 62%,#ee1919 72%,#ee0d0d 77%,#ee0202 86%,#ee0000)"></i><i style="background:linear-gradient(90deg,#ababee,#b2b2ee 6%,#c2c2ee 14%,#eeeeee 26.5%,#ee8686 49%,#ee4747 61%,#ee2c2c 67%,#ee1b1b 72%,#ee0e0e 77%,#ee0404 86%,#ee0000 93%,#ee0303)"></i><i style="background:linear-gradient(90deg,#ababee,#b4b4ee 7%,#c2c2ee 14%,#eeeeee 26.6%,#ee8686 49%,#ee4747 61%,#ee2020 71%,#ee1212 76%,#ee0707 84%,#ee0303 92%,#ee0505)"></i><i style="background:linear-gradient(90deg,#ababee,#b4b4ee 7%,#c2c2ee 14%,#eeeeee 26.7%,#ee8686 49%,#ee4848 61%,#ee2121 71%,#ee1414 76%,#ee0a0a 84%,#ee0505 92%,#ee0808)"></i><i style="background:linear-gradient(90deg,#ababee,#b3b3ee 7%,#c1c1ee 14%,#eeeeee 26.8%,#ee8686 49%,#ee4a4a 61%,#ee2323 71%,#ee1616 76%,#ee0c0c 84%,#ee0808 92%,#ee0b0b)"></i><i style="background:linear-gradient(90deg,#ababee,#b3b3ee 7%,#c1c1ee 14%,#eeeeee 27%,#ee4f4f 60%,#ee2525 71%,#ee1818 76%,#ee0e0e 84%,#ee0a0a 92%,#ee0e0e)"></i><i style="background:linear-gradient(90deg,#ababee,#b3b3ee 7%,#c1c1ee 14%,#d3d3ee 20%,#eeeeee 27.1%,#ee5050 60%,#ee2a2a 70%,#ee1a1a 76%,#ee1212 83%,#ee0d0d 92%,#ee1111)"></i><i style="background:linear-gradient(90deg,#ababee,#b3b3ee 7%,#c0c0ee 14%,#d3d3ee 20%,#eeeeee 27.2%,#ee5252 60%,#ee2c2c 70%,#ee1c1c 76%,#ee1515 82%,#ee1010 91%,#ee1414)"></i><i style="background:linear-gradient(90deg,#ababee,#b2b2ee 7%,#c0c0ee 14%,#d2d2ee 20%,#eeeeee 27.4%,#ee5353 60%,#ee2e2e 70%,#ee1f1f 76%,#ee1818 82%,#ee1313 91%,#ee1717)"></i><i style="background:linear-gradient(90deg,#ababee,#b2b2ee 7%,#bfbfee 14%,#d1d1ee 20%,#eeeeee 27.5%,#ee5959 59%,#ee3030 70%,#ee2121 76%,#ee1b1b 82%,#ee1616 91%,#ee1b1b)"></i><i style="background:linear-gradient(90deg,#ababee,#b2b2ee 7%,#bfbfee 14%,#d1d1ee 20%,#eeeeee 27.7%,#ee5a5a 59%,#ee3535 69%,#ee2525 75%,#ee1e1e 81%,#ee1a1a 91%,#ee1e1e)"></i><i style="background:linear-gradient(90deg,#ababee,#b1b1ee 7%,#bebeee 14%,#d0d0ee 20%,#eeeeee 27.9%,#ee5c5c 59%,#ee3737 69%,#ee2828 75%,#ee2121 81%,#ee1d1d 91%,#ee2222)"></i><i style="background:linear-gradient(90deg,#aaaaee,#b1b1ee 7%,#bdbdee 14%,#d3d3ee 21%,#eeeeee 28.1%,#ee6262 58%,#ee3939 69%,#ee2b2b 75%,#ee2424 81%,#ee2121 91%,#ee2525)"></i><i style="background:linear-gradient(90deg,#aaaaee,#b1b1ee 7%,#bdbdee 14%,#d2d2ee 21%,#eeeeee 28.2%,#ee6363 58%,#ee3c3c 69%,#ee2d2d 75%,#ee2727 81%,#ee2424 91%,#ee2929)"></i><i style="background:linear-gradient(90deg,#aaaaee,#b0b0ee 7%,#bcbcee 14%,#d1d1ee 21%,#eeeeee 28.4%,#ee6969 57%,#ee3e3e 69%,#ee3030 75%,#ee2a2a 81%,#ee2828 91%,#ee2d2d)"></i><i style="background:linear-gradient(90deg,#aaaaee,#b0b0ee 7%,#bbbbee 14%,#d0d0ee 21%,#eeeeee 28.7%,#ee6f6f 56%,#ee4343 68%,#ee3333 75%,#ee2d2d 81%,#ee2b2b 91%,#ee3131)"></i><i style="background:linear-gradient(90deg,#a9a9ee,#afafee 7%,#bbbbee 14%,#d0d0ee 21%,#eeeeee 28.9%,#ee7575 55%,#ee4646 68%,#ee3636 75%,#ee3131 80%,#ee2f2f 91%,#ee3535)"></i><i style="background:linear-gradient(90deg,#a9a9ee,#aeaeee 7%,#babaee 14%,#cfcfee 21%,#eeeeee 29.1%,#ee7b7b 54%,#ee5f5f 61%,#ee4848 68%,#ee3939 75%,#ee3535 80%,#ee3333 91%,#ee3939)"></i><i style="background:linear-gradient(90deg,#a8a8ee,#aeaeee 7%,#b9b9ee 14%,#ceceee 21%,#eeeeee 29.3%,#ee8585 52%,#ee6565 60%,#ee4b4b 68%,#ee3c3c 75%,#ee3838 80%,#ee3737 91%,#ee3e3e)"></i><i style="background:linear-gradient(90deg,#a8a8ee,#adadee 7%,#b8b8ee 14%,#d0d0ee 22%,#eeeeee 29.6%,#ee8686 52%,#ee6767 60%,#ee4e4e 68%,#ee4040 75%,#ee3c3c 80%,#ee3b3b 91%,#ee4242)"></i><i style="background:linear-gradient(90deg,#a7a7ee,#adadee 7%,#b7b7ee 14%,#cfcfee 22%,#eeeeee 29.8%,#ee8888 52%,#ee6969 60%,#ee5151 68%,#ee4343 75%,#ee3f3f 80%,#ee3f3f 91%,#ee4646)"></i><i style="background:linear-gradient(90deg,#a7a7ee,#acacee 7%,#b7b7ee 14%,#ceceee 22%,#eeeeee 30.1%,#ee8e8e 51%,#ee6b6b 60%,#ee5454 68%,#ee4646 75%,#ee4343 80%,#ee4444 91%,#ee4b4b)"></i><i style="background:linear-gradient(90deg,#a6a6ee,#ababee 7%,#b6b6ee 14%,#cdcdee 22%,#eeeeee 30.4%,#ee8f8f 51%,#ee6e6e 60%,#ee5757 68%,#ee4a4a 75%,#ee4747 80%,#ee4848 91%,#ee5050)"></i><i style="background:linear-gradient(90deg,#a6a6ee,#aaaaee 7%,#b5b5ee 14%,#ccccee 22%,#eeeeee 30.7%,#ee9191 51%,#ee7373 59%,#ee5c5c 67%,#ee4f4f 74%,#ee4a4a 80%,#ee4c4c 91%,#ee5454)"></i><i style="background:linear-gradient(90deg,#a5a5ee,#aaaaee 7%,#b4b4ee 14%,#cbcbee 22%,#eeeeee 31%,#ee9393 51%,#ee7676 59%,#ee5f5f 67%,#ee5252 74%,#ee4e4e 80%,#ee5151 91%,#ee5959)"></i><i style="background:linear-gradient(90deg,#a4a4ee,#a9a9ee 7%,#b3b3ee 14%,#cacaee 22%,#eeeeee 31.3%,#ee9595 51%,#ee7878 59%,#ee6262 67%,#ee5656 74%,#ee5252 80%,#ee5555 91%,#ee5e5e)"></i><i style="background:linear-gradient(90deg,#a4a4ee,#a8a8ee 7%,#b2b2ee 14%,#ccccee 23%,#eeeeee 31.6%,#ee9696 51%,#ee7b7b 59%,#ee6565 67%,#ee5a5a 74%,#ee5656 80%,#ee5a5a 91%,#ee6363)"></i><i style="background:linear-gradient(90deg,#a3a3ee,#a7a7ee 7%,#b1b1ee 14%,#cbcbee 23%,#eeeeee 32%,#eeb1b1 45%,#ee9898 51%,#ee7d7d 59%,#ee6969 67%,#ee5d5d 74%,#ee5a5a 80%,#ee5f5f 91%,#ee6868)"></i><i style="background:linear-gradient(90deg,#a2a2ee,#a7a7ee 8%,#b2b2ee 15%,#cdcdee 24%,#eeeeee 32.3%,#eeb3b3 45%,#ee9a9a 51%,#ee8080 59%,#ee6c6c 67%,#ee6161 74%,#ee5f5f 80%,#ee6363 91%,#ee6d6d)"></i><i style="background:linear-gradient(90deg,#a1a1ee,#a7a7ee 9%,#b1b1ee 15%,#cbcbee 24%,#eeeeee 32.7%,#eeb5b5 45%,#ee9d9d 51%,#ee8383 59%,#ee6f6f 67%,#ee6565 74%,#ee6363 79%,#ee6868 90%,#ee7272)"></i><i style="background:linear-gradient(90deg,#a1a1ee,#a6a6ee 9%,#b0b0ee 15%,#cacaee 24%,#eeeeee 33%,#eeb6b6 45%,#ee9f9f 51%,#ee8686 59%,#ee7373 67%,#ee6969 74%,#ee6767 79%,#ee6c6c 90%,#ee7878)"></i><i style="background:linear-gradient(90deg,#a0a0ee,#a5a5ee 9%,#aeaeee 15%,#c9c9ee 24%,#eeeeee 33.4%,#eeb8b8 45%,#eea1a1 51%,#ee8888 59%,#ee7676 67%,#ee6d6d 74%,#ee6b6b 79%,#ee7171 90%,#ee7d7d)"></i><i style="background:linear-gradient(90deg,#9f9fee,#a4a4ee 9%,#adadee 15%,#c7c7ee 24%,#eeeeee 33.8%,#eebaba 45%,#eea3a3 51%,#ee8b8b 59%,#ee7a7a 67%,#ee7171 74%,#ee7070 79%,#ee7676 90%,#ee8282)"></i><i style="background:linear-gradient(90deg,#9e9eee,#a3a3ee 9%,#acacee 15%,#c6c6ee 24%,#eeeeee 34.2%,#eebdbd 45%,#eea6a6 51%,#ee8e8e 59%,#ee7d7d 67%,#ee7575 74%,#ee7474 79%,#ee7b7b 90%,#ee8888)"></i><i style="background:linear-gradient(90deg,#9d9dee,#a2a2ee 9%,#ababee 15%,#c8c8ee 25%,#eeeeee 34.6%,#eebfbf 45%,#eea8a8 51%,#ee9494 58%,#ee8181 67%,#ee7979 74%,#ee7979 79%,#ee8080 90%,#ee8d8d)"></i><i style="background:linear-gradient(90deg,#9c9cee,#a1a1ee 9%,#a9a9ee 15%,#c6c6ee 25%,#eeeeee 35.1%,#eec1c1 45%,#eeabab 51%,#ee9797 58%,#ee8585 67%,#ee7e7e 74%,#ee7d7d 79%,#ee8686 90%,#ee9393)"></i><i style="background:linear-gradient(90deg,#9b9bee,#9f9fee 9%,#a8a8ee 15%,#c5c5ee 25%,#eeeeee 35.5%,#eec3c3 45%,#eeadad 51%,#ee9a9a 58%,#ee8989 67%,#ee8282 74%,#ee8282 79%,#ee8b8b 90%,#ee9898)"></i><i style="background:linear-gradient(90deg,#9a9aee,#9e9eee 9%,#a7a7ee 15%,#c3c3ee 25%,#eeeeee 35.9%,#eec6c6 45%,#eeb0b0 51%,#ee9d9d 58%,#ee8c8c 67%,#ee8686 74%,#ee8686 79%,#ee9090 90%,#ee9e9e)"></i><i style="background:linear-gradient(90deg,#9999ee,#9f9fee 11%,#a8a8ee 16%,#c5c5ee 26%,#eeeeee 36.4%,#eec8c8 45%,#eeb3b3 51%,#eea1a1 58%,#ee9090 67%,#ee8b8b 74%,#ee8b8b 79%,#ee9595 90%,#eea4a4)"></i><i style="background:linear-gradient(90deg,#9797ee,#9d9dee 11%,#a6a6ee 16%,#c3c3ee 26%,#eeeeee 36.9%,#eec7c7 46%,#eeb3b3 52%,#eea2a2 59%,#ee9595 67%,#ee8f8f 74%,#ee9090 79%,#ee9b9b 90%,#eeaaaa)"></i><i style="background:linear-gradient(90deg,#9696ee,#9c9cee 11%,#a4a4ee 16%,#c1c1ee 26%,#eeeeee 37.4%,#eecaca 46%,#eeb6b6 52%,#eea6a6 59%,#ee9999 67%,#ee9494 74%,#ee9595 79%,#eea0a0 90%,#eeb0b0)"></i><i style="background:linear-gradient(90deg,#9595ee,#9a9aee 11%,#a3a3ee 16%,#bfbfee 26%,#eeeeee 37.9%,#eecdcd 46%,#eeb9b9 52%,#eea9a9 59%,#ee9d9d 67%,#ee9999 74%,#ee9a9a 79%,#eea6a6 90%,#eeb6b6)"></i><i style="background:linear-gradient(90deg,#9393ee,#9999ee 11%,#a4a4ee 17%,#bdbdee 26%,#eeeeee 38.5%,#eed0d0 46%,#eebdbd 52%,#eeadad 59%,#eea1a1 67%,#ee9d9d 74%,#ee9f9f 79%,#eeacac 90%,#eebcbc)"></i><i style="background:linear-gradient(90deg,#9292ee,#9797ee 11%,#a2a2ee 17%,#bbbbee 26%,#eeeeee 39.1%,#eed3d3 46%,#eec0c0 52%,#eeb1b1 59%,#eea6a6 67%,#eea2a2 74%,#eea4a4 79%,#eeb1b1 90%,#eec2c2)"></i><i style="background:linear-gradient(90deg,#9090ee,#9797ee 12%,#a5a5ee 19%,#bdbdee 27%,#eeeeee 39.7%,#eed6d6 46%,#eec1c1 53%,#eeb3b3 60%,#eea9a9 68%,#eea7a7 75%,#eeaaaa 80%,#eec9c9)"></i><i style="background:linear-gradient(90deg,#8f8fee,#9595ee 12%,#a3a3ee 19%,#bbbbee 27%,#eeeeee 40.4%,#eed5d5 47%,#eec5c5 53%,#eeb7b7 60%,#eeaeae 68%,#eeacac 75%,#eeb0b0 80%,#eecfcf)"></i><i style="background:linear-gradient(90deg,#8d8dee,#9393ee 12%,#a1a1ee 19%,#b9b9ee 27%,#eeeeee 41.1%,#eed9d9 47%,#eec6c6 54%,#eebbbb 60%,#eeb2b2 68%,#eeb1b1 75%,#eeb5b5 80%,#eed5d5)"></i><i style="background:linear-gradient(90deg,#8b8bee,#9292ee 12%,#9f9fee 19%,#b7b7ee 27%,#eeeeee 41.8%,#eed9d9 48%,#eec9c9 54%,#eebfbf 60%,#eeb7b7 68%,#eeb6b6 75%,#eebaba 80%,#eedbdb)"></i><i style="background:linear-gradient(90deg,#8a8aee,#9090ee 12%,#9e9eee 19%,#b5b5ee 27%,#eeeeee 42.6%,#eed9d9 49%,#eec9c9 56%,#eebebe 64%,#eebbbb 70%,#eebbbb 76%,#eec1c1 81%,#eee2e2)"></i><i style="background:linear-gradient(90deg,#8888ee,#8e8eee 12%,#9c9cee 19%,#b3b3ee 27%,#eeeeee 43.4%,#eedada 50%,#eecbcb 57%,#eec2c2 65%,#eec0c0 71%,#eec6c6 81%,#eee8e8)"></i><i style="background:linear-gradient(90deg,#8686ee,#8c8cee 12%,#9a9aee 19%,#b1b1ee 27%,#eeeeee 44.3%,#eedbdb 51%,#eecece 58%,#eec5c5 66%,#eec4c4 72%,#eecdcd 82%,#eeeeee)"></i><i style="background:linear-gradient(90deg,#8585ee,#8b8bee 12%,#9898ee 19%,#afafee 27%,#eeeeee 45.2%,#eedfdf 51%,#eed2d2 58%,#eec9c9 70%,#eecfcf 80%,#eeeeee 97.3%,#e8e8ee)"></i><i style="background:linear-gradient(90deg,#8383ee,#8989ee 12%,#9696ee 19%,#adadee 27%,#eeeeee 46.3%,#eed7d7 57%,#eecece 68%,#eed2d2 78%,#eeeeee 94.5%,#e2e2ee)"></i><i style="background:linear-gradient(90deg,#8181ee,#8787ee 12%,#9494ee 19%,#a7a7ee 26%,#eeeeee 47.6%,#eedada 58%,#eed2d2 68%,#eed7d7 78%,#eeeeee 91.7%,#dcdcee)"></i><i style="background:linear-gradient(90deg,#7f7fee,#8585ee 12%,#9292ee 19%,#eeeeee 48.9%,#eedede 58%,#eed7d7 67%,#eedbdb 77%,#eeeeee 88.7%,#d5d5ee)"></i><i style="background:linear-gradient(90deg,#7e7eee,#8484ee 12%,#9090ee 19%,#a3a3ee 26%,#e1e1ee 45%,#eeeeee 50.6%,#eee0e0 59%,#eedcdc 67%,#eedfdf 76%,#eeeeee 85.7%,#cfcfee)"></i><i style="background:linear-gradient(90deg,#7c7cee,#8282ee 12%,#8c8cee 18%,#a1a1ee 26%,#ddddee 45%,#eeeeee 52.4%,#eee4e4 59%,#eee0e0 67%,#eee4e4 76%,#eeeeee 82.8%,#c9c9ee)"></i><i style="background:linear-gradient(90deg,#7a7aee,#7f7fee 11%,#8888ee 17%,#9f9fee 26%,#dadaee 45%,#eeeeee 54.6%,#eee8e8 60%,#eee5e5 67%,#eee8e8 75%,#eeeeee 79.8%,#d9d9ee 91%,#c3c3ee)"></i><i style="background:linear-gradient(90deg,#7878ee,#7d7dee 11%,#8686ee 17%,#9d9dee 26%,#d9d9ee 46%,#eeeeee 57.3%,#eee9e9 66%,#eeeeee 76.3%,#d5d5ee 90%,#bcbcee)"></i><i style="background:linear-gradient(90deg,#7676ee,#7a7aee 9%,#8282ee 16%,#9696ee 24%,#d6d6ee 46%,#ededee 60%,#eeeeee 69.1%,#e9e9ee 77%,#d0d0ee 90%,#b6b6ee)"></i><i style="background:linear-gradient(90deg,#7474ee,#7878ee 9%,#8181ee 16%,#9191ee 23%,#d2d2ee 46%,#e9e9ee 60%,#ebebee 67%,#e4e4ee 77%,#cacaee 90%,#b0b0ee)"></i><i style="background:linear-gradient(90deg,#7373ee,#7676ee 9%,#7f7fee 16%,#cfcfee 46%,#e5e5ee 60%,#e6e6ee 67%,#dfdfee 77%,#c4c4ee 90%,#aaaaee)"></i><i style="background:linear-gradient(90deg,#7171ee,#7575ee 9%,#7d7dee 16%,#ccccee 46%,#e1e1ee 60%,#e2e2ee 67%,#dadaee 77%,#bfbfee 90%,#a4a4ee)"></i><i style="background:linear-gradient(90deg,#6f6fee,#7373ee 9%,#7b7bee 16%,#c6c6ee 45%,#ddddee 60%,#ddddee 67%,#d5d5ee 77%,#b9b9ee 90%,#9e9eee)"></i><i style="background:linear-gradient(90deg,#6d6dee,#7070ee 8%,#7979ee 16%,#c3c3ee 45%,#d9d9ee 60%,#d9d9ee 67%,#d0d0ee 77%,#b4b4ee 90%,#9898ee)"></i><i style="background:linear-gradient(90deg,#6b6bee,#6e6eee 8%,#7777ee 16%,#bfbfee 45%,#d5d5ee 60%,#d5d5ee 67%,#cbcbee 77%,#aeaeee 90%,#9292ee)"></i><i style="background:linear-gradient(90deg,#6969ee,#6c6cee 8%,#7575ee 16%,#babaee 44%,#d1d1ee 60%,#d0d0ee 67%,#c6c6ee 77%,#a9a9ee 90%,#8c8cee)"></i><i style="background:linear-gradient(90deg,#6767ee,#6b6bee 8%,#7373ee 16%,#adadee 39%,#c0c0ee 49%,#cdcdee 60%,#cbcbee 68%,#c1c1ee 77%,#a4a4ee 90%,#8686ee)"></i><i style="background:linear-gradient(90deg,#6565ee,#7070ee 15%,#aaaaee 39%,#bcbcee 49%,#c9c9ee 60%,#c7c7ee 68%,#bcbcee 77%,#9e9eee 90%,#8181ee)"></i><i style="background:linear-gradient(90deg,#6363ee,#6e6eee 15%,#a5a5ee 38%,#b8b8ee 49%,#c5c5ee 60%,#c3c3ee 68%,#b8b8ee 77%,#9999ee 90%,#7b7bee)"></i><i style="background:linear-gradient(90deg,#6161ee,#6c6cee 15%,#a1a1ee 37%,#b3b3ee 48%,#c1c1ee 60%,#bebeee 68%,#b3b3ee 77%,#9494ee 90%,#7575ee)"></i><i style="background:linear-gradient(90deg,#5f5fee,#6a6aee 15%,#9e9eee 37%,#b0b0ee 48%,#bdbdee 60%,#babaee 68%,#aeaeee 77%,#8f8fee 90%,#7070ee)"></i><i style="background:linear-gradient(90deg,#5d5dee,#6868ee 15%,#9a9aee 36%,#acacee 48%,#b9b9ee 60%,#b6b6ee 68%,#aaaaee 77%,#8a8aee 90%,#6a6aee)"></i><i style="background:linear-gradient(90deg,#5b5bee,#6767ee 15%,#9898ee 36%,#b5b5ee 60%,#b2b2ee 68%,#a5a5ee 77%,#8585ee 90%,#6464ee)"></i><i style="background:linear-gradient(90deg,#5959ee,#6565ee 15%,#9595ee 36%,#b1b1ee 60%,#adadee 68%,#a1a1ee 77%,#8080ee 90%,#5f5fee)"></i><i style="background:linear-gradient(90deg,#5757ee,#6363ee 15%,#9191ee 35%,#adadee 60%,#a9a9ee 68%,#9c9cee 77%,#7b7bee 90%,#5a5aee)"></i></div><div class="hm hh" style="left:725px;top:322px;width:202px;height:81px"><i style="background:linear-gradient(90deg,#00008b,#0000b5 7%,#0000ee 13.7%,#002dee 18%,#005dee 22%,#00eeee 32.2%,#78ee76 43%,#ccee23 50%,#eeee00 53.2%,#eecf00 57%,#eeb500 61%,#ee1e00 87%,#ee0000 93.1%,#cc0000)"></i><i style="background:linear-gradient(90deg,#00008e,#0000b7 7%,#0000ee 13.6%,#002eee 18%,#005fee 22%,#00eeee 32.1%,#79ee75 43%,#eeee00 53.1%,#eece00 57%,#eeb300 61%,#ee3c00 81%,#ee1600 88%,#ee0000 92.6%,#c90000)"></i><i style="background:linear-gradient(90deg,#000090,#0000b9 7%,#0000ee 13.5%,#002fee 18%,#0060ee 22%,#00eeee 32%,#eeee00 52.9%,#eed400 56%,#eeb100 61%,#ee3a00 81%,#ee1400 88%,#ee0000 92%,#c70000)"></i><i style="background:linear-gradient(90deg,#000093,#0000ba 7%,#0000ee 13.3%,#0031ee 18%,#0061ee 22%,#00eeee 31.9%,#eeee00 52.8%,#eed200 56%,#eeb000 61%,#ee3700 81%,#ee1100 88%,#ee0000 91.4%,#c40000)"></i><i style="background:linear-gradient(90deg,#000096,#0000bc 7%,#0000ee 13.2%,#0027ee 17%,#0056ee 21%,#00eeee 31.9%,#eeee00 52.7%,#eed100 56%,#eeae00 61%,#ee3400 81%,#ee0e00 88%,#ee0000 90.8%,#c10000)"></i><i style="background:linear-gradient(90deg,#000098,#0000be 7%,#0000ee 13%,#0028ee 17%,#0058ee 21%,#00eeee 31.8%,#eeee00 52.6%,#eed000 56%,#eeac00 61%,#ee3200 81%,#ee0b00 88%,#ee0000 90.3%,#bf0000)"></i><i style="background:linear-gradient(90deg,#00009b,#0000c0 7%,#0000ee 12.9%,#002aee 17%,#0059ee 21%,#00eeee 31.7%,#eeee00 52.5%,#eecf00 56%,#eeab00 61%,#ee2f00 81%,#ee0300 89%,#ee0000 89.7%,#bc0000)"></i><i style="background:linear-gradient(90deg,#00009e,#0000c3 7%,#0000ee 12.7%,#002bee 17%,#005bee 21%,#00eeee 31.7%,#eeee00 52.4%,#eecd00 56%,#eeaa00 61%,#ee2c00 81%,#ee0100 89%,#b90000)"></i><i style="background:linear-gradient(90deg,#0000a1,#0000c5 7%,#0000ee 12.5%,#002dee 17%,#005cee 21%,#00eeee 31.6%,#eeee00 52.3%,#eecc00 56%,#eea800 61%,#ee3000 80%,#ee0000 88.5%,#b70000)"></i><i style="background:linear-gradient(90deg,#0000a4,#0000c7 7%,#0000ee 12.3%,#0024ee 16%,#0052ee 20%,#00eeee 31.5%,#eeee00 52.2%,#eecb00 56%,#eea700 61%,#ee2d00 80%,#ee0000 88%,#b40000)"></i><i style="background:linear-gradient(90deg,#0000a7,#0000ca 7%,#0000ee 12.1%,#0026ee 16%,#0053ee 20%,#00eeee 31.4%,#eeee00 52.2%,#eeca00 56%,#eea500 61%,#ee2a00 80%,#ee0000 87.4%,#b10000)"></i><i style="background:linear-gradient(90deg,#0000aa,#0000c7 6%,#0000ee 11.9%,#0027ee 16%,#0055ee 20%,#00eeee 31.4%,#eeee00 52.1%,#eec900 56%,#eeab00 60%,#ee2e00 79%,#ee0000 86.9%,#af0000)"></i><i style="background:linear-gradient(90deg,#0000ae,#0000c9 6%,#0000ee 11.6%,#0029ee 16%,#0057ee 20%,#00eeee 31.3%,#eeee00 52%,#eec900 56%,#eeaa00 60%,#ee2b00 79%,#ee0000 86.4%,#ac0000)"></i><i style="background:linear-gradient(90deg,#0000b1,#0000cc 6%,#0000ee 11.3%,#0021ee 15%,#0059ee 20%,#00eeee 31.2%,#eeee00 51.9%,#eec800 56%,#eea900 60%,#ee2f00 78%,#ee0000 85.9%,#a90000)"></i><i style="background:linear-gradient(90deg,#0000b5,#0000cf 6%,#0000ee 11%,#0023ee 15%,#004fee 19%,#0081ee 23%,#00eeee 31.1%,#eeee00 51.8%,#eec700 56%,#eea800 60%,#ee2d00 78%,#ee0000 85.4%,#a70000)"></i><i style="background:linear-gradient(90deg,#0000b8,#0000cd 5%,#0003ee 11%,#0026ee 15%,#0051ee 19%,#00eeee 31%,#eeee00 51.8%,#eec600 56%,#eea700 60%,#ee2a00 78%,#ee0000 84.9%,#a40000)"></i><i style="background:linear-gradient(90deg,#0000bc,#0000d0 5%,#0000ee 10.2%,#000dee 12%,#0032ee 16%,#005fee 20%,#00eeee 30.9%,#eeee00 51.7%,#eec500 56%,#eea600 60%,#ee2e00 77%,#ee0000 84.4%,#a10000)"></i><i style="background:linear-gradient(90deg,#0000bf,#0000d4 5%,#0000ee 9.8%,#0010ee 12%,#002aee 15%,#0055ee 19%,#00eeee 30.8%,#eeee00 51.6%,#eec400 56%,#eea400 60%,#ee2c00 77%,#ee0000 84%,#c90000 91%,#9f0000)"></i><i style="background:linear-gradient(90deg,#0000c3,#0000d7 5%,#0000ee 9.31%,#0013ee 12%,#002dee 15%,#0058ee 19%,#00eeee 30.7%,#eeee00 51.6%,#eec400 56%,#eea400 60%,#ee2a00 77%,#ee0000 83.5%,#c60000 91%,#9c0000)"></i><i style="background:linear-gradient(90deg,#0000c7,#0000d6 4%,#0000ee 8.79%,#0016ee 12%,#0030ee 15%,#005aee 19%,#00eeee 30.6%,#eeee00 51.5%,#eec300 56%,#eea300 60%,#ee2e00 76%,#ee0000 83.1%,#c40000 91%,#9a0000)"></i><i style="background:linear-gradient(90deg,#0000cb,#0000ee 8.2%,#0019ee 12%,#0032ee 15%,#005dee 19%,#00eeee 30.5%,#75ee79 41%,#eeee00 51.4%,#eec200 56%,#eea200 60%,#ee2c00 76%,#ee0000 82.7%,#c60000 90%,#980000)"></i><i style="background:linear-gradient(90deg,#0000cf,#0000ee 7.55%,#0023ee 13%,#003fee 16%,#005fee 19%,#00eeee 30.4%,#76ee79 41%,#eeee00 51.4%,#eeca00 55%,#eea900 59%,#ee2a00 76%,#ee0000 82.3%,#c40000 90%,#950000)"></i><i style="background:linear-gradient(90deg,#0000d3,#0000ee 6.84%,#0011ee 10%,#0026ee 13%,#0041ee 16%,#0062ee 19%,#00eeee 30.2%,#76ee78 41%,#eeee00 51.3%,#eeca00 55%,#eea800 59%,#ee2800 76%,#ee0000 81.9%,#c10000 90%,#930000)"></i><i style="background:linear-gradient(90deg,#0000d8,#0000ee 6.06%,#0014ee 10%,#0029ee 13%,#0044ee 16%,#0064ee 19%,#00eeee 30.1%,#77ee78 41%,#eeee00 51.2%,#eec900 55%,#eea700 59%,#ee2600 76%,#ee0000 81.6%,#bf0000 90%,#910000)"></i><i style="background:linear-gradient(90deg,#0000dc,#0000ee 5.18%,#0012ee 9%,#002cee 13%,#0047ee 16%,#0067ee 19%,#00eeee 29.9%,#77ee77 41%,#eeee00 51.2%,#eec800 55%,#eea600 59%,#ee2b00 75%,#ee0000 81.2%,#bd0000 90%,#8f0000)"></i><i style="background:linear-gradient(90deg,#0000e1,#0000ee 4.17%,#0016ee 9%,#0030ee 13%,#004aee 16%,#006aee 19%,#00eeee 29.8%,#78ee76 41%,#eeee00 51.1%,#eec800 55%,#eea600 59%,#ee2a00 75%,#ee0000 80.9%,#bb0000 90%,#8c0000)"></i><i style="background:linear-gradient(90deg,#0000e5,#0000ee 2.97%,#0007ee 5%,#0019ee 9%,#0033ee 13%,#004dee 16%,#006dee 19%,#00eeee 29.7%,#79ee76 41%,#eeee00 51.1%,#eec700 55%,#eea500 59%,#ee2800 75%,#ee0000 80.6%,#b90000 90%,#8a0000)"></i><i style="background:linear-gradient(90deg,#0000ea,#0000ee 1.51%,#0013ee 7%,#0028ee 11%,#003eee 14%,#0070ee 19%,#00eeee 29.5%,#7aee75 41%,#eeee00 51%,#eec700 55%,#eea500 59%,#ee2600 75%,#ee0000 80.3%,#b70000 90%,#880000)"></i><i style="background:linear-gradient(90deg,#0001ee,#001cee 8%,#002cee 11%,#0041ee 14%,#0072ee 19%,#00eeee 29.3%,#7aee74 41%,#eeee00 51%,#eec700 55%,#eea400 59%,#ee2500 75%,#ee0000 80%,#ba0000 89%,#870000)"></i><i style="background:linear-gradient(90deg,#0006ee,#0020ee 8%,#002fee 11%,#0044ee 14%,#0076ee 19%,#00eeee 29.2%,#7bee73 41%,#eeee00 50.9%,#eec600 55%,#eea400 59%,#ee2300 75%,#ee0000 79.8%,#b80000 89%,#850000)"></i><i style="background:linear-gradient(90deg,#000cee,#0023ee 8%,#0033ee 11%,#0048ee 14%,#0079ee 19%,#00eeee 29%,#71ee7d 40%,#eeee00 50.9%,#eeac00 58%,#ee0000 79.6%,#b60000 89%,#830000)"></i><i style="background:linear-gradient(90deg,#0011ee,#0027ee 8%,#0036ee 11%,#004bee 14%,#007cee 19%,#00eeee 28.8%,#72ee7d 40%,#eeee00 50.8%,#eeac00 58%,#ee0000 79.3%,#b50000 89%,#810000)"></i><i style="background:linear-gradient(90deg,#0017ee,#002bee 8%,#0047ee 13%,#0074ee 18%,#00eeee 28.6%,#72ee7c 40%,#eeee00 50.8%,#eeac00 58%,#ee0000 79.1%,#b30000 89%,#800000)"></i><i style="background:linear-gradient(90deg,#001dee,#002fee 8%,#004aee 13%,#0077ee 18%,#00eeee 28.4%,#73ee7b 40%,#eeee00 50.8%,#eeb500 57%,#ee0000 79%,#b20000 89%,#7e0000)"></i><i style="background:linear-gradient(90deg,#0023ee,#0034ee 8%,#004eee 13%,#007bee 18%,#00eeee 28.2%,#74ee7b 40%,#eeee00 50.8%,#eeb500 57%,#ee0000 78.8%,#b10000 89%,#7d0000)"></i><i style="background:linear-gradient(90deg,#0029ee,#0038ee 8%,#0052ee 13%,#007eee 18%,#00eeee 28%,#74ee7a 40%,#eeee00 50.8%,#eeb500 57%,#ee0000 78.7%,#b00000 89%,#7c0000)"></i><i style="background:linear-gradient(90deg,#002fee,#003cee 8%,#0055ee 13%,#0077ee 17%,#00eeee 27.7%,#75ee79 40%,#eeee00 50.8%,#eebe00 56%,#ee0000 78.6%,#af0000 89%,#7b0000)"></i><i style="background:linear-gradient(90deg,#0035ee,#0040ee 8%,#0047ee 10%,#0059ee 13%,#007bee 17%,#00eeee 27.5%,#76ee79 40%,#eeee00 50.8%,#eebf00 56%,#ee0000 78.6%,#ae0000 89%,#7a0000)"></i><i style="background:linear-gradient(90deg,#003bee,#0042ee 7%,#004bee 10%,#0056ee 12%,#007fee 17%,#00eeee 27.2%,#76ee78 40%,#eeee00 50.8%,#ee0000 78.5%,#ad0000 89%,#790000)"></i><i style="background:linear-gradient(90deg,#0041ee,#0046ee 7%,#004fee 10%,#005aee 12%,#0083ee 17%,#00eeee 27%,#77ee78 40%,#eeee00 50.9%,#ee0000 78.5%,#ad0000 89%,#780000)"></i><i style="background:linear-gradient(90deg,#0048ee,#004bee 7%,#0053ee 10%,#005eee 12%,#0087ee 17%,#00eeee 26.7%,#77ee77 40%,#eeee00 51%,#ee0000 78.5%,#ac0000 89%,#780000)"></i><i style="background:linear-gradient(90deg,#004eee,#004fee 7%,#0057ee 10%,#0062ee 12%,#008cee 17%,#00eeee 26.4%,#78ee77 40%,#eeee00 51.1%,#ee0000 78.6%,#ac0000 89%,#770000)"></i><i style="background:linear-gradient(90deg,#0054ee,#0053ee 7%,#0060ee 11%,#0086ee 16%,#00eeee 26.1%,#79ee76 40%,#eeee00 51.2%,#ee0000 78.7%,#a70000 90%,#770000)"></i><i style="background:linear-gradient(90deg,#005aee,#0058ee 7%,#0064ee 11%,#008aee 16%,#00eeee 25.8%,#79ee75 40%,#eeee00 51.4%,#ee2700 74%,#ee0000 78.8%,#a70000 90%,#770000)"></i><i style="background:linear-gradient(90deg,#0060ee,#005cee 7%,#005fee 9%,#0068ee 11%,#008fee 16%,#00eeee 25.5%,#7aee75 40%,#eeee00 51.5%,#ee2800 74%,#ee0000 78.9%,#a70000 90%,#770000)"></i><i style="background:linear-gradient(90deg,#0066ee,#0060ee 7%,#0063ee 9%,#006cee 11%,#0093ee 16%,#00eeee 25.1%,#7aee74 40%,#eeee00 51.7%,#ee2900 74%,#ee0000 79%,#a70000 90%,#770000)"></i><i style="background:linear-gradient(90deg,#006cee,#0065ee 7%,#0067ee 9%,#0070ee 11%,#008eee 15%,#00eeee 24.8%,#7bee74 40%,#eeee00 51.9%,#ee8500 64%,#ee2a00 74%,#ee0000 79.2%,#a80000 90%,#780000)"></i><i style="background:linear-gradient(90deg,#0071ee,#0069ee 7%,#006fee 10%,#007bee 12%,#0093ee 15%,#00eeee 24.4%,#7bee73 40%,#eeee00 52.1%,#ee8700 64%,#ee2b00 74%,#ee0000 79.4%,#a80000 90%,#780000)"></i><i style="background:linear-gradient(90deg,#0076ee,#006eee 7%,#0074ee 10%,#007fee 12%,#0097ee 15%,#00eeee 24%,#73ee7b 39%,#eeee00 52.3%,#ee8900 64%,#ee2d00 74%,#ee0000 79.6%,#a90000 90%,#790000)"></i><i style="background:linear-gradient(90deg,#007bee,#0072ee 7%,#0078ee 10%,#0084ee 12%,#009cee 15%,#00eeee 23.6%,#74ee7b 39%,#eeee00 52.5%,#ee8b00 64%,#ee2f00 74%,#ee0000 79.8%,#aa0000 90%,#790000)"></i><i style="background:linear-gradient(90deg,#007fee,#0077ee 7%,#007dee 10%,#00a0ee 15%,#00eeee 23.2%,#74ee7a 39%,#eeee00 52.7%,#ee8e00 64%,#ee3000 74%,#ee0000 80%,#ab0000 90%,#7a0000)"></i><i style="background:linear-gradient(90deg,#0083ee,#007cee 7%,#0082ee 10%,#00a5ee 15%,#00eeee 22.8%,#75ee7a 39%,#eeee00 53%,#ee9000 64%,#ee3200 74%,#ee0000 80.3%,#ac0000 90%,#7b0000)"></i><i style="background:linear-gradient(90deg,#0087ee,#0081ee 7%,#0087ee 10%,#00a9ee 15%,#00eeee 22.4%,#75ee79 39%,#eeee00 53.2%,#ee9300 64%,#ee3400 74%,#ee0000 80.6%,#ad0000 90%,#7c0000)"></i><i style="background:linear-gradient(90deg,#008bee,#0086ee 7%,#008cee 10%,#00a6ee 14%,#00eeee 22%,#1eeed0 26%,#76ee79 39%,#eeee00 53.5%,#ee9500 64%,#ee3600 74%,#ee0000 80.8%,#af0000 90%,#7d0000)"></i><i style="background:linear-gradient(90deg,#008eee,#008bee 7%,#0091ee 10%,#00aaee 14%,#00eeee 21.7%,#21eece 26%,#76ee78 39%,#eeee00 53.8%,#ee9800 64%,#ee3900 74%,#ee0000 81.1%,#b00000 90%,#7f0000)"></i><i style="background:linear-gradient(90deg,#0092ee,#0090ee 7%,#0097ee 10%,#00afee 14%,#00eeee 21.3%,#23eecb 26%,#7eee71 40%,#eeee00 54.1%,#ee9b00 64%,#ee3b00 74%,#ee0000 81.4%,#ac0000 91%,#800000)"></i><i style="background:linear-gradient(90deg,#0095ee,#0095ee 7%,#009cee 10%,#00b4ee 14%,#00eeee 20.9%,#1feed0 25%,#7eee71 40%,#eeee00 54.3%,#ee9e00 64%,#ee3e00 74%,#ee0000 81.7%,#ae0000 91%,#810000)"></i><i style="background:linear-gradient(90deg,#0099ee,#009aee 7%,#00a1ee 10%,#00b9ee 14%,#00eeee 20.6%,#21eecd 25%,#7eee71 40%,#eeee00 54.7%,#eea100 64%,#ee4000 74%,#ee0000 82%,#af0000 91%,#830000)"></i><i style="background:linear-gradient(90deg,#009cee,#009fee 7%,#00a6ee 10%,#00bdee 14%,#00eeee 20.2%,#23eecb 25%,#7eee71 40%,#eeee00 55%,#eea500 64%,#ee4300 74%,#ee0000 82.4%,#b10000 91%,#850000)"></i><i style="background:linear-gradient(90deg,#009fee,#00a4ee 7%,#00acee 10%,#00c2ee 14%,#00eeee 19.8%,#25eec9 25%,#7eee71 40%,#eeee00 55.3%,#eeb100 63%,#ee4f00 73%,#ee0000 82.7%,#b30000 91%,#860000)"></i><i style="background:linear-gradient(90deg,#00a3ee,#00a9ee 7%,#00b1ee 10%,#00c7ee 14%,#00eeee 19.3%,#27eec7 25%,#7eee71 40%,#eeee00 55.7%,#eeb500 63%,#ee5300 73%,#ee0000 83.1%,#b50000 91%,#880000)"></i><i style="background:linear-gradient(90deg,#00a6ee,#00adee 7%,#00b6ee 10%,#00cbee 14%,#00eeee 18.9%,#29eec5 25%,#7eee71 40%,#eeee00 56.1%,#eeb900 63%,#ee5600 73%,#ee0000 83.4%,#b70000 91%,#8a0000)"></i><i style="background:linear-gradient(90deg,#00a9ee,#00b2ee 7%,#00bbee 10%,#00caee 13%,#00eeee 18.4%,#2beec3 25%,#84ee6b 41%,#eeee00 56.5%,#eeb400 64%,#ee5a00 73%,#ee0000 83.8%,#ba0000 91%,#8c0000)"></i><i style="background:linear-gradient(90deg,#00acee,#00b7ee 7%,#00bfee 10%,#00ceee 13%,#00eeee 18%,#2deec1 25%,#83ee6b 41%,#eeee00 56.9%,#eeb800 64%,#ee5d00 73%,#ee0000 84.2%,#d00000 88%,#b60000 92%,#8e0000)"></i><i style="background:linear-gradient(90deg,#00b0ee,#00bbee 7%,#00c4ee 10%,#00d3ee 13%,#00eeee 17.4%,#2feebf 25%,#83ee6b 41%,#eeee00 57.4%,#eebc00 64%,#ee6200 73%,#ee0000 84.5%,#b80000 92%,#900000)"></i><i style="background:linear-gradient(90deg,#00b3ee,#00c5ee 9%,#00d2ee 12%,#00eeee 16.9%,#31eebd 25%,#83ee6c 41%,#eeee00 57.8%,#eec100 64%,#ee6600 73%,#ee0000 84.9%,#bb0000 92%,#920000)"></i><i style="background:linear-gradient(90deg,#00b6ee,#00caee 9%,#00d6ee 12%,#00eeee 16.3%,#33eebc 25%,#88ee66 42%,#eeee00 58.4%,#eebd00 65%,#ee7400 72%,#ee0000 85.3%,#be0000 92%,#940000)"></i><i style="background:linear-gradient(90deg,#00b9ee,#00ceee 9%,#00eeee 15.7%,#34eeba 25%,#87ee67 42%,#eeee00 58.9%,#eec200 65%,#ee7900 72%,#ee0000 85.7%,#c00000 92%,#970000)"></i><i style="background:linear-gradient(90deg,#00bcee,#00d2ee 9%,#00eeee 15.1%,#36eeb8 25%,#87ee68 42%,#eeee00 59.5%,#eebe00 66%,#ee7500 73%,#ee0000 86.1%,#c30000 92%,#990000)"></i><i style="background:linear-gradient(90deg,#00bfee,#00d6ee 9%,#00eeee 14.5%,#38eeb7 25%,#86ee68 42%,#eeee00 60.2%,#eec300 66%,#ee7b00 73%,#ee0000 86.6%,#bf0000 93%,#9b0000)"></i><i style="background:linear-gradient(90deg,#00c3ee,#00d7ee 8%,#00eeee 13.8%,#39eeb5 25%,#85ee69 42%,#eeee00 60.8%,#eec800 66%,#ee8100 73%,#ee0000 87%,#c20000 93%,#9e0000)"></i><i style="background:linear-gradient(90deg,#00c6ee,#00dbee 8%,#00eeee 13.1%,#3beeb4 25%,#8aee65 43%,#eeee00 61.5%,#eec500 67%,#ee8700 73%,#ee0000 87.4%,#c50000 93%,#a00000)"></i><i style="background:linear-gradient(90deg,#00c9ee,#00deee 8%,#00eeee 12.3%,#3ceeb2 25%,#89ee66 43%,#eeee00 62.3%,#eecb00 67%,#ee8e00 73%,#ee0000 87.8%,#c80000 93%,#a30000)"></i><i style="background:linear-gradient(90deg,#00ccee,#00eeee 11.5%,#3eeeb1 25%,#88ee66 43%,#c3ee2c 55%,#eeee00 63%,#eec800 68%,#ee0000 88.3%,#cb0000 93%,#a60000)"></i><i style="background:linear-gradient(90deg,#00cfee,#01eeed 11%,#3feeaf 25%,#8cee63 44%,#cfee20 58%,#eeee00 63.8%,#eece00 68%,#ee0000 88.7%,#ce0000 93%,#a80000)"></i><i style="background:linear-gradient(90deg,#00d1ee,#00eeee 9.67%,#05eeea 11%,#40eeae 25%,#8bee64 44%,#d0ee1e 59%,#eeee00 64.5%,#eecb00 69%,#ee0000 89.1%,#cb0000 94%,#ab0000)"></i><i style="background:linear-gradient(90deg,#00d4ee,#00eeee 8.7%,#08eee7 11%,#42eead 25%,#8eee61 45%,#ccee22 59%,#eeee00 65.3%,#eed100 69%,#ee2100 86%,#ee0000 89.5%,#ce0000 94%,#ae0000)"></i><i style="background:linear-gradient(90deg,#00d7ee,#00eeee 7.74%,#0beee4 11%,#91ee5e 46%,#cdee21 60%,#eeee00 66.1%,#eed700 69%,#ee2500 86%,#ee0000 89.9%,#d10000 94%,#b00000)"></i><i style="background:linear-gradient(90deg,#00daee,#00eeee 6.81%,#11eedd 12%,#97ee57 48%,#ceee20 61%,#eeee00 66.8%,#eed300 70%,#ee2900 86%,#ee0000 90.3%,#d40000 94%,#b30000)"></i><i style="background:linear-gradient(90deg,#00dcee,#00eeee 5.9%,#14eedb 12%,#a1ee4d 51%,#cfee20 62%,#eeee00 67.6%,#eed900 70%,#ee7a00 79%,#ee2300 87%,#ee0000 90.7%,#d70000 94%,#b60000)"></i><i style="background:linear-gradient(90deg,#00dfee,#00eeee 5.03%,#7eee70 42%,#c6ee28 61%,#daee15 65%,#eeee00 68.2%,#ee7500 80%,#ee2700 87%,#ee0000 91.1%,#d40000 95%,#b90000)"></i></div>
<svg width="945" height="618" viewBox="0 0 945 618">
<defs>
<linearGradient id="gb"><stop offset="0" stop-color="#0000ff"/><stop offset="0.5" stop-color="#ffffff"/><stop offset="1" stop-color="#ff0000"/></linearGradient>
<linearGradient id="gj"><stop offset="0" stop-color="#000080"/><stop offset="0.125" stop-color="#0000ff"/><stop offset="0.375" stop-color="#00ffff"/><stop offset="0.625" stop-color="#ffff00"/><stop offset="0.875" stop-color="#ff0000"/><stop offset="1" stop-color="#800000"/></linearGradient>
</defs>
<rect x="19.7" y="520.7" width="23.2" height="10" fill="#808080"/>
<rect x="19.7" y="534.8" width="23.2" height="10" fill="#f4777a"/>
<rect x="19.7" y="549.0" width="23.2" height="10" fill="#5590e8"/>
<rect x="135.4" y="140.4" width="123.5" height="5.7" fill="url(#gb)"/>
<rect x="196.6" y="144.6" width="1" height="1.5" fill="#444"/>
<rect x="344.8" y="140.4" width="123.5" height="5.7" fill="url(#gb)"/>
<rect x="406.1" y="144.6" width="1" height="1.5" fill="#444"/>
<rect x="554.5" y="140.4" width="123.5" height="5.7" fill="url(#gb)"/>
<rect x="615.8" y="144.6" width="1" height="1.5" fill="#444"/>
<rect x="764.1" y="140.4" width="123.5" height="5.7" fill="url(#gj)"/>
<rect x="135.4" y="276.4" width="123.5" height="5.7" fill="url(#gb)"/>
<rect x="196.6" y="280.6" width="1" height="1.5" fill="#444"/>
<rect x="344.8" y="276.4" width="123.5" height="5.7" fill="url(#gb)"/>
<rect x="406.1" y="280.6" width="1" height="1.5" fill="#444"/>
<rect x="554.5" y="276.4" width="123.5" height="5.7" fill="url(#gb)"/>
<rect x="615.8" y="280.6" width="1" height="1.5" fill="#444"/>
<rect x="764.1" y="276.4" width="123.5" height="5.7" fill="url(#gj)"/>
<rect x="135.4" y="412.6" width="123.5" height="5.7" fill="url(#gb)"/>
<rect x="196.6" y="416.8" width="1" height="1.5" fill="#444"/>
<rect x="344.8" y="412.6" width="123.5" height="5.7" fill="url(#gb)"/>
<rect x="406.1" y="416.8" width="1" height="1.5" fill="#444"/>
<rect x="554.5" y="412.6" width="123.5" height="5.7" fill="url(#gb)"/>
<rect x="615.8" y="416.8" width="1" height="1.5" fill="#444"/>
<rect x="764.1" y="412.6" width="123.5" height="5.7" fill="url(#gj)"/>
<path d="M192.9 588.1V569.8H195.9V588.1ZM195.9 588.1V559.3H198.8V588.1ZM198.8 588.1V457.2H201.7V588.1ZM201.7 588.1V561.9H204.6V588.1ZM204.6 588.1V571.3H207.6V588.1ZM207.6 588.1V577.6H210.5V588.1ZM210.5 588.1V584.2H213.4V588.1Z" fill="#808080"/>
<path d="M163.7 588.1V560.6H166.6V588.1ZM166.6 588.1V547.5H169.5V588.1ZM169.5 588.1V564.8H172.5V588.1ZM172.5 588.1V568.5H175.4V588.1ZM175.4 588.1V571.9H178.3V588.1ZM178.3 588.1V572.4H181.2V588.1ZM181.2 588.1V572.7H184.2V588.1ZM184.2 588.1V573.7H187.1V588.1ZM187.1 588.1V572.1H190.0V588.1ZM190.0 588.1V573.4H192.9V588.1ZM192.9 588.1V572.9H195.9V588.1ZM195.9 588.1V568.5H198.8V588.1ZM198.8 588.1V567.9H201.7V588.1Z" fill="rgba(239,62,66,0.70)"/>
<path d="M154.9 588.1V585.0H157.8V588.1ZM157.8 588.1V581.8H160.8V588.1ZM160.8 588.1V579.2H163.7V588.1ZM163.7 588.1V560.6H166.6V588.1ZM166.6 588.1V566.6H169.5V588.1ZM169.5 588.1V568.2H172.5V588.1ZM172.5 588.1V569.5H175.4V588.1ZM175.4 588.1V569.5H178.3V588.1ZM178.3 588.1V572.1H181.2V588.1ZM181.2 588.1V572.9H184.2V588.1ZM184.2 588.1V573.7H187.1V588.1ZM187.1 588.1V574.0H190.0V588.1ZM190.0 588.1V573.4H192.9V588.1ZM192.9 588.1V572.9H195.9V588.1ZM195.9 588.1V572.4H198.8V588.1ZM198.8 588.1V574.5H201.7V588.1ZM201.7 588.1V583.4H204.6V588.1ZM204.6 588.1V585.0H207.6V588.1Z" fill="rgba(31,109,225,0.76)"/>
<path d="M112.5 456.7V588.5H288.5" fill="none" stroke="#303030" stroke-width="1"/>
<path d="M141.8 588.1v-2.2M200.2 588.1v-2.2M258.8 588.1v-2.2M171.0 588.1v-1.4M229.5 588.1v-1.4M112.5 535.7h2.2M112.5 483.4h2.2M112.5 561.9h1.4M112.5 509.6h1.4" fill="none" stroke="#303030" stroke-width="1"/>
<path d="M431.9 588.1V579.9H434.8V588.1ZM434.8 588.1V570.8H437.7V588.1ZM437.7 588.1V543.9H440.7V588.1ZM440.7 588.1V564.2H443.6V588.1ZM443.6 588.1V568.1H446.5V588.1ZM446.5 588.1V571.4H449.4V588.1ZM449.4 588.1V572.4H452.4V588.1ZM452.4 588.1V572.7H455.3V588.1ZM455.3 588.1V574.0H458.2V588.1ZM458.2 588.1V575.0H461.1V588.1ZM461.1 588.1V574.7H464.1V588.1ZM464.1 588.1V575.0H467.0V588.1ZM467.0 588.1V573.7H469.9V588.1ZM469.9 588.1V575.7H472.8V588.1ZM472.8 588.1V575.0H475.8V588.1ZM475.8 588.1V576.3H478.7V588.1ZM478.7 588.1V575.7H481.6V588.1ZM481.6 588.1V575.3H484.5V588.1ZM484.5 588.1V575.7H487.5V588.1ZM487.5 588.1V579.9H490.4V588.1Z" fill="#808080"/>
<path d="M393.9 588.1V584.5H396.8V588.1ZM396.8 588.1V568.1H399.7V588.1ZM399.7 588.1V563.9H402.6V588.1ZM402.6 588.1V555.0H405.6V588.1ZM405.6 588.1V485.8H408.5V588.1ZM408.5 588.1V523.0H411.4V588.1ZM411.4 588.1V559.3H414.3V588.1ZM414.3 588.1V568.5H417.3V588.1ZM417.3 588.1V573.4H420.2V588.1ZM420.2 588.1V577.0H423.1V588.1Z" fill="rgba(239,62,66,0.70)"/>
<path d="M423.1 588.1V584.5H426.0V588.1ZM426.0 588.1V582.2H429.0V588.1ZM429.0 588.1V580.6H431.9V588.1ZM431.9 588.1V577.3H434.8V588.1ZM434.8 588.1V550.5H437.7V588.1ZM437.7 588.1V560.3H440.7V588.1ZM440.7 588.1V567.6H443.6V588.1ZM443.6 588.1V570.8H446.5V588.1ZM446.5 588.1V572.1H449.4V588.1ZM449.4 588.1V572.7H452.4V588.1ZM452.4 588.1V573.4H455.3V588.1ZM455.3 588.1V575.0H458.2V588.1ZM458.2 588.1V575.3H461.1V588.1ZM461.1 588.1V576.0H464.1V588.1ZM464.1 588.1V575.0H467.0V588.1ZM467.0 588.1V575.3H469.9V588.1ZM469.9 588.1V576.0H472.8V588.1ZM472.8 588.1V575.7H475.8V588.1ZM475.8 588.1V576.6H478.7V588.1ZM478.7 588.1V576.0H481.6V588.1ZM481.6 588.1V575.7H484.5V588.1ZM484.5 588.1V575.7H487.5V588.1ZM487.5 588.1V578.0H490.4V588.1ZM490.4 588.1V586.1H493.3V588.1Z" fill="rgba(31,109,225,0.76)"/>
<path d="M322.2 456.7V588.5H498.2" fill="none" stroke="#303030" stroke-width="1"/>
<path d="M351.4 588.1v-2.2M409.9 588.1v-2.2M468.4 588.1v-2.2M380.7 588.1v-1.4M439.2 588.1v-1.4M322.2 522.6h2.2M322.2 457.2h2.2M322.2 555.4h1.4M322.2 489.9h1.4" fill="none" stroke="#303030" stroke-width="1"/>
<path d="M568.5 588.1V587.8H571.4V588.1ZM571.4 588.1V587.4H574.3V588.1ZM574.3 588.1V587.1H577.2V588.1ZM577.2 588.1V586.8H580.2V588.1ZM580.2 588.1V586.5H583.1V588.1ZM583.1 588.1V586.1H586.0V588.1ZM586.0 588.1V585.5H588.9V588.1ZM588.9 588.1V584.8H591.9V588.1ZM591.9 588.1V583.8H594.8V588.1ZM594.8 588.1V582.9H597.7V588.1ZM597.7 588.1V581.6H600.6V588.1ZM600.6 588.1V580.2H603.6V588.1ZM603.6 588.1V578.9H606.5V588.1ZM606.5 588.1V577.3H609.4V588.1ZM609.4 588.1V575.0H612.3V588.1ZM612.3 588.1V572.4H615.3V588.1ZM615.3 588.1V569.1H618.2V588.1ZM618.2 588.1V468.3H621.1V588.1ZM621.1 588.1V569.1H624.0V588.1ZM624.0 588.1V572.4H627.0V588.1ZM627.0 588.1V575.0H629.9V588.1ZM629.9 588.1V577.3H632.8V588.1ZM632.8 588.1V578.9H635.7V588.1ZM635.7 588.1V580.2H638.7V588.1ZM638.7 588.1V581.6H641.6V588.1ZM641.6 588.1V582.9H644.5V588.1ZM644.5 588.1V583.8H647.4V588.1ZM647.4 588.1V584.8H650.4V588.1ZM650.4 588.1V585.5H653.3V588.1ZM653.3 588.1V586.1H656.2V588.1ZM656.2 588.1V586.5H659.1V588.1ZM659.1 588.1V586.8H662.1V588.1ZM662.1 588.1V587.1H665.0V588.1ZM665.0 588.1V587.4H667.9V588.1ZM667.9 588.1V587.8H670.8V588.1Z" fill="#808080"/>
<path d="M594.8 588.1V574.0H597.7V588.1ZM597.7 588.1V559.6H600.6V588.1ZM600.6 588.1V571.7H603.6V588.1ZM603.6 588.1V575.7H606.5V588.1ZM606.5 588.1V576.6H609.4V588.1ZM609.4 588.1V577.3H612.3V588.1ZM612.3 588.1V577.6H615.3V588.1ZM615.3 588.1V578.0H618.2V588.1ZM618.2 588.1V578.6H621.1V588.1ZM621.1 588.1V578.3H624.0V588.1ZM624.0 588.1V578.0H627.0V588.1ZM627.0 588.1V577.6H629.9V588.1ZM629.9 588.1V575.7H632.8V588.1ZM632.8 588.1V571.7H635.7V588.1ZM635.7 588.1V567.8H638.7V588.1ZM638.7 588.1V559.0H641.6V588.1ZM641.6 588.1V557.7H644.5V588.1ZM644.5 588.1V556.4H647.4V588.1ZM647.4 588.1V559.0H650.4V588.1Z" fill="rgba(239,62,66,0.70)"/>
<path d="M571.4 588.1V587.8H574.3V588.1ZM574.3 588.1V587.6H577.2V588.1ZM577.2 588.1V587.4H580.2V588.1ZM580.2 588.1V587.1H583.1V588.1ZM583.1 588.1V586.5H586.0V588.1ZM586.0 588.1V585.2H588.9V588.1ZM588.9 588.1V583.8H591.9V588.1ZM591.9 588.1V581.9H594.8V588.1ZM594.8 588.1V574.0H597.7V588.1ZM597.7 588.1V569.8H600.6V588.1ZM600.6 588.1V568.8H603.6V588.1ZM603.6 588.1V573.7H606.5V588.1ZM606.5 588.1V575.3H609.4V588.1ZM609.4 588.1V576.0H612.3V588.1ZM612.3 588.1V576.3H615.3V588.1ZM615.3 588.1V577.0H618.2V588.1ZM618.2 588.1V578.6H621.1V588.1ZM621.1 588.1V578.0H624.0V588.1ZM624.0 588.1V578.0H627.0V588.1ZM627.0 588.1V578.6H629.9V588.1ZM629.9 588.1V578.0H632.8V588.1ZM632.8 588.1V578.0H635.7V588.1ZM635.7 588.1V577.0H638.7V588.1ZM638.7 588.1V575.0H641.6V588.1ZM641.6 588.1V573.0H644.5V588.1ZM644.5 588.1V570.1H647.4V588.1ZM647.4 588.1V561.6H650.4V588.1ZM650.4 588.1V581.9H653.3V588.1ZM653.3 588.1V582.9H656.2V588.1ZM656.2 588.1V583.5H659.1V588.1ZM659.1 588.1V584.0H662.1V588.1ZM662.1 588.1V584.5H665.0V588.1ZM665.0 588.1V585.0H667.9V588.1ZM667.9 588.1V585.3H670.8V588.1ZM670.8 588.1V585.8H673.8V588.1ZM673.8 588.1V586.3H676.7V588.1ZM676.7 588.1V586.8H679.6V588.1Z" fill="rgba(31,109,225,0.76)"/>
<path d="M531.9 456.7V588.5H707.9" fill="none" stroke="#303030" stroke-width="1"/>
<path d="M561.1 588.1v-2.2M619.6 588.1v-2.2M678.1 588.1v-2.2M590.4 588.1v-1.4M648.9 588.1v-1.4M531.9 522.6h2.2M531.9 457.2h2.2M531.9 555.4h1.4M531.9 489.9h1.4" fill="none" stroke="#303030" stroke-width="1"/>
<path d="M785.3 588.1V585.9H791.1V588.1ZM791.1 588.1V566.3H797.0V588.1ZM797.0 588.1V527.4H802.8V588.1ZM802.8 588.1V556.2H808.7V588.1ZM808.7 588.1V562.8H814.5V588.1ZM814.5 588.1V566.3H820.4V588.1ZM820.4 588.1V568.5H826.2V588.1ZM826.2 588.1V568.5H832.1V588.1ZM832.1 588.1V568.9H837.9V588.1ZM837.9 588.1V572.8H843.8V588.1ZM843.8 588.1V571.5H849.6V588.1ZM849.6 588.1V569.8H855.5V588.1ZM855.5 588.1V572.8H861.3V588.1ZM861.3 588.1V568.9H867.2V588.1ZM867.2 588.1V572.4H873.0V588.1ZM873.0 588.1V569.6H878.9V588.1ZM878.9 588.1V569.8H884.7V588.1ZM884.7 588.1V566.5H890.6V588.1ZM890.6 588.1V563.4H896.4V588.1ZM896.4 588.1V571.1H902.3V588.1Z" fill="#808080"/>
<path d="M767.7 588.1V587.2H773.6V588.1ZM773.6 588.1V582.6H779.4V588.1ZM779.4 588.1V566.3H785.3V588.1ZM785.3 588.1V521.8H791.1V588.1ZM791.1 588.1V530.5H797.0V588.1ZM797.0 588.1V527.4H802.8V588.1ZM802.8 588.1V513.9H808.7V588.1ZM808.7 588.1V477.3H814.5V588.1ZM814.5 588.1V555.8H820.4V588.1Z" fill="rgba(239,62,66,0.70)"/>
<path d="M785.3 588.1V586.8H791.1V588.1ZM791.1 588.1V585.0H797.0V588.1ZM797.0 588.1V583.1H802.8V588.1ZM802.8 588.1V580.7H808.7V588.1ZM808.7 588.1V561.9H814.5V588.1ZM814.5 588.1V565.4H820.4V588.1ZM820.4 588.1V565.0H826.2V588.1ZM826.2 588.1V561.5H832.1V588.1ZM832.1 588.1V565.4H837.9V588.1ZM837.9 588.1V566.9H843.8V588.1ZM843.8 588.1V566.3H849.6V588.1ZM849.6 588.1V567.2H855.5V588.1ZM855.5 588.1V567.6H861.3V588.1ZM861.3 588.1V568.9H867.2V588.1ZM867.2 588.1V565.0H873.0V588.1ZM873.0 588.1V564.5H878.9V588.1ZM878.9 588.1V561.9H884.7V588.1ZM884.7 588.1V562.4H890.6V588.1ZM890.6 588.1V553.2H896.4V588.1ZM896.4 588.1V560.6H902.3V588.1ZM902.3 588.1V571.1H908.1V588.1Z" fill="rgba(31,109,225,0.76)"/>
<path d="M741.4 456.7V588.5H917.4" fill="none" stroke="#303030" stroke-width="1"/>
<path d="M799.9 588.1v-2.2M858.4 588.1v-2.2M916.9 588.1v-2.2M770.6 588.1v-1.4M829.1 588.1v-1.4M887.6 588.1v-1.4M741.4 544.5h2.2M741.4 500.8h2.2M741.4 457.2h2.2M741.4 566.3h1.4M741.4 522.6h1.4M741.4 479.0h1.4" fill="none" stroke="#303030" stroke-width="1"/>
<text x="197.1" y="18.2" font-size="14" text-anchor="middle"><tspan class="sy">Δ</tspan><tspan class="bi">B</tspan><tspan font-size="10" dy="2.5">x</tspan></text>
<text x="406.6" y="18.2" font-size="14" text-anchor="middle"><tspan class="sy">Δ</tspan><tspan class="bi">B</tspan><tspan font-size="10" dy="2.5">y</tspan></text>
<text x="616.2" y="18.2" font-size="14" text-anchor="middle"><tspan class="sy">Δ</tspan><tspan class="bi">B</tspan><tspan font-size="10" dy="2.5">z</tspan></text>
<text x="825.8" y="18.2" font-size="14" text-anchor="middle"><tspan font-weight="bold">|</tspan><tspan class="sy">Δ</tspan><tspan class="bi">B</tspan><tspan font-weight="bold">|</tspan></text>
<text x="46.6" y="85.9" font-size="14.3" text-anchor="middle">Current</text>
<text x="46.6" y="103.6" font-size="14.3" text-anchor="middle"><tspan class="sy">Δ</tspan><tspan font-style="italic">I</tspan> = 25 mA</text>
<text x="49.5" y="221.5" font-size="14.3" text-anchor="middle">Susceptibility</text>
<text x="49.5" y="238.9" font-size="14.3" text-anchor="middle"><tspan class="sy">Δ</tspan><tspan class="si">χ</tspan> = 5</text>
<text x="49.6" y="349.0" font-size="14.3" text-anchor="middle"><tspan class="sy">Δ</tspan><tspan font-style="italic">I</tspan> = 25 mA</text>
<text x="49.5" y="366.4" font-size="14.3" text-anchor="middle">and</text>
<text x="49.5" y="383.9" font-size="14.3" text-anchor="middle"><tspan class="sy">Δ</tspan><tspan class="si">χ</tspan> = 5</text>
<text x="49.8" y="513.3" font-size="14.3" text-anchor="middle">Histograms</text>
<text x="46.0" y="529.0" font-size="10" text-anchor="start"><tspan class="sy">Δ</tspan><tspan font-style="italic">I</tspan></text>
<text x="46.0" y="543.1" font-size="10" text-anchor="start"><tspan class="sy">Δ</tspan><tspan class="si">χ</tspan></text>
<text x="46.0" y="557.3" font-size="10" text-anchor="start"><tspan class="sy">Δ</tspan><tspan font-style="italic">I</tspan> &amp; <tspan class="sy">Δ</tspan><tspan class="si">χ</tspan></text>
<text x="827.0" y="320.0" font-size="14" text-anchor="middle" class="si">l</text>
<text x="932.5" y="366.5" font-size="13" text-anchor="middle" class="si">w</text>
<text x="135.4" y="157.2" font-size="10.2" text-anchor="middle" class="s">-4.68</text>
<text x="197.1" y="157.2" font-size="10.2" text-anchor="middle" class="s">0</text>
<text x="258.9" y="157.2" font-size="10.2" text-anchor="middle" class="s">4.68</text>
<text x="344.8" y="157.2" font-size="10.2" text-anchor="middle" class="s">-27.3</text>
<text x="406.6" y="157.2" font-size="10.2" text-anchor="middle" class="s">0</text>
<text x="468.3" y="157.2" font-size="10.2" text-anchor="middle" class="s">27.3</text>
<text x="554.5" y="157.2" font-size="10.2" text-anchor="middle" class="s">-17.5</text>
<text x="616.2" y="157.2" font-size="10.2" text-anchor="middle" class="s">0</text>
<text x="678.0" y="157.2" font-size="10.2" text-anchor="middle" class="s">17.5</text>
<text x="764.1" y="157.2" font-size="10.2" text-anchor="middle" class="s">7.84</text>
<text x="887.6" y="157.2" font-size="10.2" text-anchor="middle" class="s">27.3</text>
<text x="135.4" y="293.2" font-size="10.2" text-anchor="middle" class="s">-11.8</text>
<text x="197.1" y="293.2" font-size="10.2" text-anchor="middle" class="s">0</text>
<text x="258.9" y="293.2" font-size="10.2" text-anchor="middle" class="s">11.8</text>
<text x="344.8" y="293.2" font-size="10.2" text-anchor="middle" class="s">-4.7</text>
<text x="406.6" y="293.2" font-size="10.2" text-anchor="middle" class="s">0</text>
<text x="468.3" y="293.2" font-size="10.2" text-anchor="middle" class="s">4.7</text>
<text x="554.5" y="293.2" font-size="10.2" text-anchor="middle" class="s">-10.1</text>
<text x="616.2" y="293.2" font-size="10.2" text-anchor="middle" class="s">0</text>
<text x="678.0" y="293.2" font-size="10.2" text-anchor="middle" class="s">10.1</text>
<text x="764.1" y="293.2" font-size="10.2" text-anchor="middle" class="s">4.77</text>
<text x="887.6" y="293.2" font-size="10.2" text-anchor="middle" class="s">12.7</text>
<text x="135.4" y="429.4" font-size="10.2" text-anchor="middle" class="s">-15.5</text>
<text x="197.1" y="429.4" font-size="10.2" text-anchor="middle" class="s">0</text>
<text x="258.9" y="429.4" font-size="10.2" text-anchor="middle" class="s">15.5</text>
<text x="344.8" y="429.4" font-size="10.2" text-anchor="middle" class="s">-28.1</text>
<text x="406.6" y="429.4" font-size="10.2" text-anchor="middle" class="s">0</text>
<text x="468.3" y="429.4" font-size="10.2" text-anchor="middle" class="s">28.1</text>
<text x="554.5" y="429.4" font-size="10.2" text-anchor="middle" class="s">-20.7</text>
<text x="616.2" y="429.4" font-size="10.2" text-anchor="middle" class="s">0</text>
<text x="678.0" y="429.4" font-size="10.2" text-anchor="middle" class="s">20.7</text>
<text x="764.1" y="429.4" font-size="10.2" text-anchor="middle" class="s">7.24</text>
<text x="887.6" y="429.4" font-size="10.2" text-anchor="middle" class="s">28.1</text>
<text x="141.8" y="599.8" font-size="10.2" text-anchor="middle" class="s">-20</text>
<text x="200.2" y="599.8" font-size="10.2" text-anchor="middle" class="s">0</text>
<text x="258.8" y="599.8" font-size="10.2" text-anchor="middle" class="s">20</text>
<text x="109.7" y="591.8" font-size="10.2" text-anchor="end" class="s">0</text>
<text x="109.7" y="539.4" font-size="10.2" text-anchor="end" class="s">20</text>
<text x="109.7" y="487.1" font-size="10.2" text-anchor="end" class="s">40</text>
<text x="113.1" y="453.0" font-size="10.2" text-anchor="middle" class="s">%</text>
<text x="200.2" y="614.5" font-size="10.2" text-anchor="middle" class="s">[nT]</text>
<text x="351.4" y="599.8" font-size="10.2" text-anchor="middle" class="s">-20</text>
<text x="409.9" y="599.8" font-size="10.2" text-anchor="middle" class="s">0</text>
<text x="468.4" y="599.8" font-size="10.2" text-anchor="middle" class="s">20</text>
<text x="319.4" y="591.8" font-size="10.2" text-anchor="end" class="s">0</text>
<text x="319.4" y="526.4" font-size="10.2" text-anchor="end" class="s">20</text>
<text x="319.4" y="460.9" font-size="10.2" text-anchor="end" class="s">40</text>
<text x="322.8" y="453.0" font-size="10.2" text-anchor="middle" class="s">%</text>
<text x="409.9" y="614.5" font-size="10.2" text-anchor="middle" class="s">[nT]</text>
<text x="561.1" y="599.8" font-size="10.2" text-anchor="middle" class="s">-20</text>
<text x="619.6" y="599.8" font-size="10.2" text-anchor="middle" class="s">0</text>
<text x="678.1" y="599.8" font-size="10.2" text-anchor="middle" class="s">20</text>
<text x="529.1" y="591.8" font-size="10.2" text-anchor="end" class="s">0</text>
<text x="529.1" y="526.4" font-size="10.2" text-anchor="end" class="s">20</text>
<text x="529.1" y="460.9" font-size="10.2" text-anchor="end" class="s">40</text>
<text x="532.5" y="453.0" font-size="10.2" text-anchor="middle" class="s">%</text>
<text x="619.6" y="614.5" font-size="10.2" text-anchor="middle" class="s">[nT]</text>
<text x="741.4" y="599.8" font-size="10.2" text-anchor="middle" class="s">0</text>
<text x="799.9" y="599.8" font-size="10.2" text-anchor="middle" class="s">10</text>
<text x="858.4" y="599.8" font-size="10.2" text-anchor="middle" class="s">20</text>
<text x="916.9" y="599.8" font-size="10.2" text-anchor="middle" class="s">30</text>
<text x="738.6" y="591.8" font-size="10.2" text-anchor="end" class="s">0</text>
<text x="738.6" y="548.2" font-size="10.2" text-anchor="end" class="s">10</text>
<text x="738.6" y="504.5" font-size="10.2" text-anchor="end" class="s">20</text>
<text x="738.6" y="460.9" font-size="10.2" text-anchor="end" class="s">30</text>
<text x="742.0" y="453.0" font-size="10.2" text-anchor="middle" class="s">%</text>
<text x="829.1" y="614.5" font-size="10.2" text-anchor="middle" class="s">[nT]</text>
</svg>
</div>
</body></html>
